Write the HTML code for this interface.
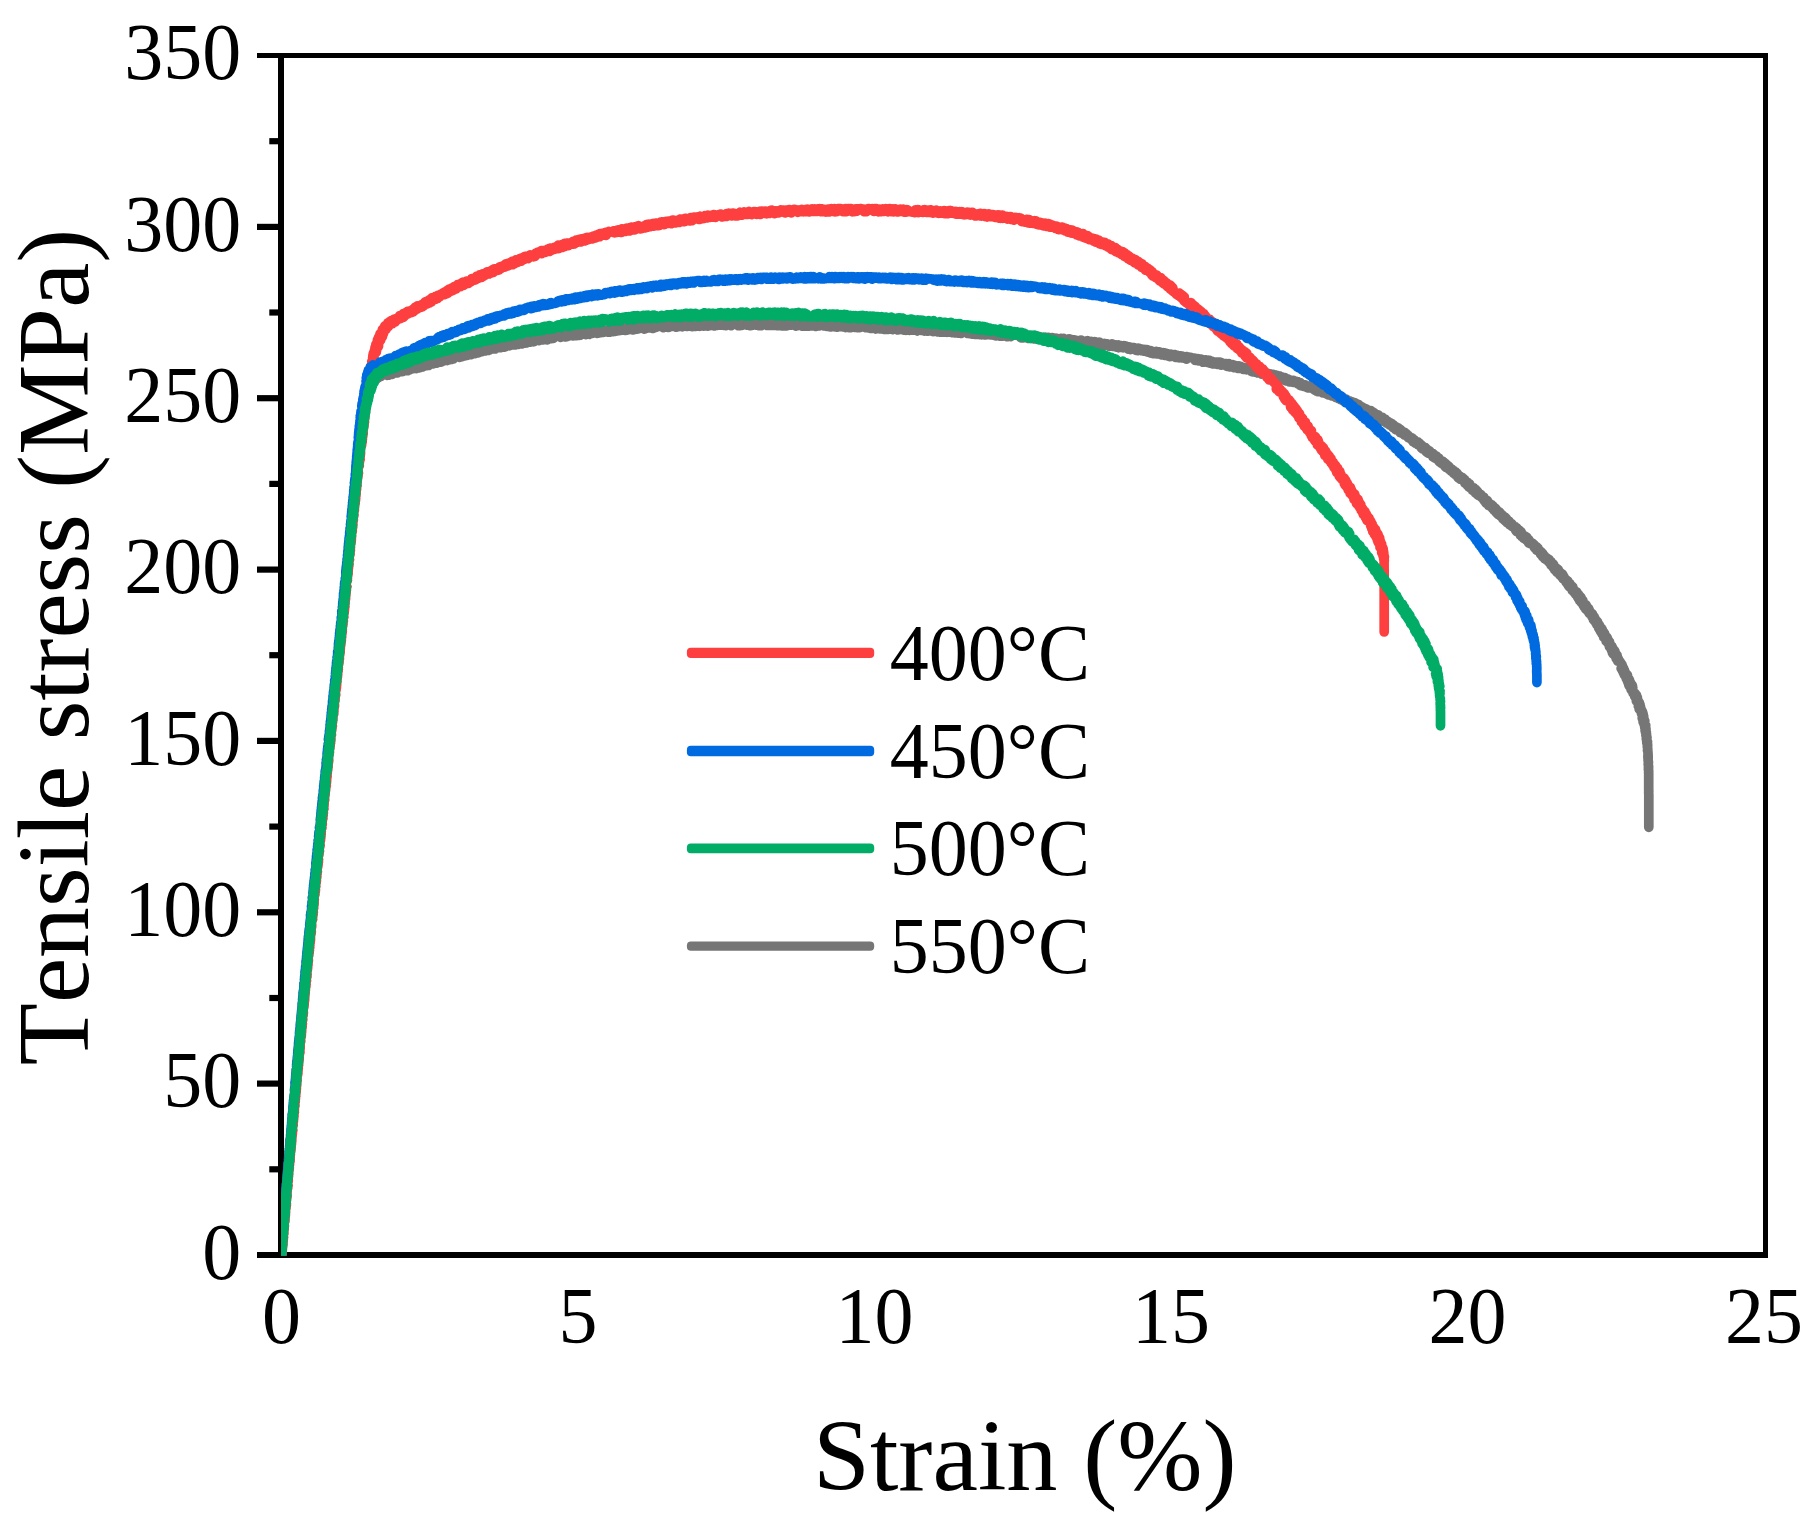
<!DOCTYPE html>
<html><head><meta charset="utf-8"><title>Tensile stress vs Strain</title>
<style>
html,body{margin:0;padding:0;background:#fff;}
svg{display:block;}
text{font-family:"Liberation Serif",serif;fill:#000;font-kerning:none;}
.tk{font-size:78px;}
.tt{font-size:102.4px;}
.ty{font-size:101.75px;}
</style></head><body>
<svg width="1814" height="1531" viewBox="0 0 1814 1531">
<rect width="1814" height="1531" fill="#fff"/>

<g fill="#000" shape-rendering="crispEdges">
<rect x="278" y="53" width="1490" height="5"/>
<rect x="1763" y="53" width="5" height="1205"/>
<rect x="278" y="53" width="6" height="1205"/>
<rect x="278" y="1252" width="1490" height="6"/>
</g>
<rect x="257" y="1252" width="22" height="6" fill="#000"/>
<line x1="269.3" y1="1169.3" x2="281.0" y2="1169.3" stroke="#000" stroke-width="6.2"/>
<line x1="257" y1="1083.6" x2="281.0" y2="1083.6" stroke="#000" stroke-width="6.2"/>
<line x1="269.3" y1="998.0" x2="281.0" y2="998.0" stroke="#000" stroke-width="6.2"/>
<line x1="257" y1="912.3" x2="281.0" y2="912.3" stroke="#000" stroke-width="6.2"/>
<line x1="269.3" y1="826.6" x2="281.0" y2="826.6" stroke="#000" stroke-width="6.2"/>
<line x1="257" y1="740.9" x2="281.0" y2="740.9" stroke="#000" stroke-width="6.2"/>
<line x1="269.3" y1="655.2" x2="281.0" y2="655.2" stroke="#000" stroke-width="6.2"/>
<line x1="257" y1="569.6" x2="281.0" y2="569.6" stroke="#000" stroke-width="6.2"/>
<line x1="269.3" y1="483.9" x2="281.0" y2="483.9" stroke="#000" stroke-width="6.2"/>
<line x1="257" y1="398.2" x2="281.0" y2="398.2" stroke="#000" stroke-width="6.2"/>
<line x1="269.3" y1="312.5" x2="281.0" y2="312.5" stroke="#000" stroke-width="6.2"/>
<line x1="257" y1="226.9" x2="281.0" y2="226.9" stroke="#000" stroke-width="6.2"/>
<line x1="269.3" y1="141.2" x2="281.0" y2="141.2" stroke="#000" stroke-width="6.2"/>
<rect x="257" y="53" width="22" height="5" fill="#000"/>
<text class="tk" transform="translate(241.3 1278.7) scale(1 1.035)" text-anchor="end">0</text>
<text class="tk" transform="translate(241.3 1107.3) scale(1 1.035)" text-anchor="end">50</text>
<text class="tk" transform="translate(241.3 936.0) scale(1 1.035)" text-anchor="end">100</text>
<text class="tk" transform="translate(241.3 764.6) scale(1 1.035)" text-anchor="end">150</text>
<text class="tk" transform="translate(241.3 593.3) scale(1 1.035)" text-anchor="end">200</text>
<text class="tk" transform="translate(241.3 421.9) scale(1 1.035)" text-anchor="end">250</text>
<text class="tk" transform="translate(241.3 250.6) scale(1 1.035)" text-anchor="end">300</text>
<text class="tk" transform="translate(241.3 79.2) scale(1 1.035)" text-anchor="end">350</text>
<text class="tk" transform="translate(281.4 1342.6) scale(1 1.035)" text-anchor="middle">0</text>
<text class="tk" transform="translate(577.9 1342.6) scale(1 1.035)" text-anchor="middle">5</text>
<text class="tk" transform="translate(874.4 1342.6) scale(1 1.035)" text-anchor="middle">10</text>
<text class="tk" transform="translate(1171.0 1342.6) scale(1 1.035)" text-anchor="middle">15</text>
<text class="tk" transform="translate(1467.5 1342.6) scale(1 1.035)" text-anchor="middle">20</text>
<text class="tk" transform="translate(1764.0 1342.6) scale(1 1.035)" text-anchor="middle">25</text>
<text class="tt" x="1024.8" y="1489.8" text-anchor="middle">Strain (%)</text>
<text class="ty" transform="translate(88.2 647.0) rotate(-90)" text-anchor="middle">Tensile stress (MPa)</text>
<clipPath id="c"><rect x="281.0" y="55.5" width="1484.5" height="1200.2"/></clipPath>
<g clip-path="url(#c)" fill="none" stroke-linejoin="round" stroke-linecap="round">
<path d="M281.3 1255.5 L281.1 1254.7 L281.7 1253.9 L281.6 1253.1 L281.7 1252.3 L281.3 1251.5 L281.6 1250.7 L281.4 1249.9 L282.1 1249.1 L281.6 1248.3 L282.1 1247.5 L281.8 1246.7 L282.2 1245.9 L281.9 1245.1 L282.4 1244.4 L282.0 1243.5 L282.0 1242.7 L282.6 1242.0 L282.7 1241.2 L282.1 1240.3 L282.4 1239.5 L282.5 1238.7 L282.9 1238.0 L282.9 1237.2 L282.7 1236.3 L282.6 1235.5 L283.1 1234.8 L283.3 1234.0 L282.8 1233.1 L283.3 1232.4 L283.4 1231.6 L283.1 1230.8 L283.2 1230.0 L283.2 1229.2 L283.7 1228.4 L283.7 1227.6 L283.8 1226.8 L283.7 1226.0 L283.4 1225.2 L283.9 1224.4 L283.6 1223.6 L284.2 1222.8 L283.7 1222.0 L284.3 1221.2 L284.3 1220.4 L284.4 1219.6 L284.3 1218.8 L284.5 1218.0 L284.1 1217.2 L284.1 1216.4 L284.2 1215.6 L284.3 1214.8 L284.4 1214.0 L284.4 1213.2 L284.9 1212.4 L284.9 1211.6 L285.1 1210.9 L285.1 1210.1 L285.3 1209.3 L285.3 1208.5 L284.8 1207.6 L284.9 1206.8 L284.9 1206.0 L285.4 1205.3 L285.6 1204.5 L285.2 1203.6 L285.7 1202.9 L285.4 1202.1 L285.3 1201.2 L285.8 1200.5 L285.5 1199.6 L285.6 1198.9 L286.2 1198.1 L285.7 1197.3 L286.1 1196.5 L286.4 1195.7 L285.8 1194.9 L286.5 1194.1 L286.0 1193.3 L286.5 1192.5 L286.6 1191.7 L286.1 1190.9 L286.8 1190.1 L286.7 1189.3 L286.3 1188.5 L287.0 1187.7 L286.5 1186.9 L286.6 1186.1 L287.1 1185.3 L286.8 1184.5 L286.9 1183.7 L287.4 1183.0 L287.4 1182.1 L287.0 1181.3 L287.5 1180.6 L287.1 1179.7 L287.6 1179.0 L287.7 1178.2 L287.7 1177.4 L287.5 1176.5 L288.1 1175.8 L287.5 1174.9 L287.6 1174.1 L287.7 1173.3 L287.6 1172.5 L288.2 1171.8 L287.8 1170.9 L288.5 1170.2 L288.4 1169.4 L288.1 1168.6 L288.1 1167.8 L288.8 1167.0 L288.3 1166.2 L288.2 1165.4 L288.5 1164.6 L289.0 1163.8 L288.5 1163.0 L288.7 1162.2 L289.1 1161.4 L289.3 1160.6 L289.2 1159.8 L289.4 1159.0 L288.9 1158.2 L289.5 1157.4 L289.6 1156.6 L289.2 1155.8 L289.6 1155.0 L289.3 1154.2 L289.4 1153.4 L289.8 1152.6 L289.4 1151.8 L290.0 1151.1 L290.0 1150.3 L289.7 1149.4 L289.6 1148.6 L289.8 1147.8 L289.8 1147.0 L289.9 1146.2 L290.5 1145.5 L290.7 1144.7 L290.1 1143.8 L290.2 1143.0 L290.3 1142.2 L290.3 1141.4 L290.9 1140.7 L290.4 1139.8 L290.6 1139.1 L291.1 1138.3 L291.2 1137.5 L290.6 1136.7 L290.9 1135.9 L291.5 1135.1 L290.9 1134.3 L291.6 1133.5 L291.6 1132.7 L291.0 1131.9 L291.3 1131.1 L291.8 1130.3 L291.8 1129.5 L291.5 1128.7 L291.6 1127.9 L292.2 1127.2 L292.2 1126.4 L291.8 1125.5 L291.8 1124.7 L291.9 1123.9 L291.9 1123.1 L292.5 1122.4 L292.5 1121.6 L292.0 1120.7 L292.2 1119.9 L292.2 1119.1 L292.3 1118.3 L292.8 1117.6 L292.9 1116.8 L292.6 1115.9 L292.5 1115.1 L292.6 1114.3 L292.7 1113.5 L293.2 1112.8 L292.8 1112.0 L293.5 1111.2 L293.6 1110.4 L293.1 1109.6 L293.1 1108.8 L293.3 1108.0 L293.4 1107.2 L293.7 1106.4 L293.9 1105.6 L293.6 1104.8 L294.0 1104.0 L294.2 1103.2 L294.1 1102.4 L294.3 1101.6 L293.9 1100.8 L294.5 1100.1 L294.1 1099.2 L294.5 1098.5 L294.0 1097.6 L294.2 1096.8 L294.2 1096.0 L294.3 1095.2 L294.9 1094.5 L294.9 1093.7 L295.1 1092.9 L295.0 1092.1 L294.6 1091.2 L294.6 1090.4 L295.4 1089.7 L295.3 1088.9 L295.0 1088.1 L295.5 1087.3 L295.2 1086.5 L295.7 1085.7 L295.8 1084.9 L295.4 1084.1 L295.3 1083.3 L295.4 1082.5 L295.6 1081.7 L295.5 1080.9 L295.6 1080.1 L295.8 1079.3 L295.8 1078.5 L295.9 1077.7 L296.5 1076.9 L296.4 1076.1 L296.1 1075.3 L296.1 1074.5 L296.2 1073.7 L296.2 1072.9 L296.4 1072.1 L297.0 1071.4 L296.4 1070.5 L296.5 1069.7 L296.8 1068.9 L297.1 1068.2 L297.4 1067.4 L297.3 1066.6 L297.5 1065.8 L297.6 1065.0 L297.6 1064.2 L297.2 1063.4 L297.2 1062.6 L297.9 1061.8 L297.5 1061.0 L297.5 1060.2 L297.9 1059.4 L297.6 1058.6 L297.6 1057.8 L298.2 1057.0 L297.8 1056.2 L297.9 1055.4 L298.4 1054.6 L298.1 1053.8 L298.1 1053.0 L298.7 1052.2 L298.7 1051.4 L298.2 1050.6 L298.4 1049.8 L298.5 1049.0 L298.9 1048.2 L299.2 1047.5 L298.8 1046.6 L298.8 1045.8 L299.2 1045.1 L299.0 1044.2 L298.9 1043.4 L299.5 1042.7 L299.6 1041.9 L299.1 1041.0 L299.8 1040.3 L299.4 1039.5 L299.4 1038.6 L300.1 1037.9 L299.6 1037.1 L299.6 1036.3 L299.8 1035.5 L300.3 1034.7 L300.4 1033.9 L300.5 1033.1 L299.9 1032.3 L300.5 1031.5 L300.5 1030.7 L300.2 1029.9 L300.2 1029.1 L300.4 1028.3 L300.9 1027.5 L301.0 1026.7 L301.1 1026.0 L301.2 1025.2 L301.1 1024.3 L300.8 1023.5 L300.8 1022.7 L300.9 1021.9 L301.6 1021.2 L300.9 1020.3 L301.8 1019.6 L301.1 1018.7 L301.2 1017.9 L301.4 1017.1 L302.0 1016.4 L301.9 1015.6 L302.2 1014.8 L302.2 1014.0 L301.7 1013.2 L301.8 1012.4 L301.9 1011.6 L302.0 1010.8 L302.1 1010.0 L302.0 1009.2 L302.7 1008.4 L302.3 1007.6 L302.8 1006.8 L302.3 1006.0 L302.5 1005.2 L303.1 1004.4 L302.5 1003.6 L302.7 1002.8 L302.8 1002.0 L302.8 1001.2 L302.8 1000.4 L303.4 999.7 L303.0 998.8 L303.7 998.1 L303.1 997.2 L303.7 996.5 L303.4 995.6 L304.1 994.9 L303.9 994.1 L303.6 993.2 L303.6 992.4 L303.7 991.6 L303.7 990.8 L303.9 990.1 L303.8 989.2 L304.5 988.5 L304.0 987.7 L304.6 986.9 L304.8 986.1 L304.4 985.3 L304.9 984.5 L304.9 983.7 L304.5 982.9 L305.1 982.1 L304.8 981.3 L305.4 980.6 L304.7 979.7 L304.8 978.9 L305.0 978.1 L305.1 977.3 L305.6 976.6 L305.3 975.7 L305.7 975.0 L305.9 974.2 L305.5 973.3 L306.0 972.6 L305.5 971.7 L306.2 971.0 L306.2 970.2 L306.4 969.4 L306.4 968.6 L306.5 967.8 L306.1 967.0 L306.1 966.2 L306.2 965.4 L306.8 964.6 L306.4 963.8 L306.4 963.0 L306.4 962.2 L307.1 961.4 L306.8 960.6 L306.8 959.8 L306.7 959.0 L307.6 958.3 L307.0 957.4 L307.7 956.7 L307.2 955.8 L307.2 955.0 L307.3 954.2 L308.0 953.5 L307.6 952.6 L308.0 951.9 L308.2 951.1 L307.8 950.2 L308.2 949.5 L308.4 948.7 L307.8 947.8 L307.9 947.0 L308.0 946.2 L308.8 945.5 L308.8 944.7 L309.0 943.9 L308.3 943.1 L309.1 942.3 L308.6 941.5 L308.7 940.7 L308.6 939.9 L309.3 939.1 L308.7 938.3 L309.5 937.6 L309.5 936.8 L309.0 935.9 L309.6 935.2 L309.2 934.3 L309.8 933.6 L309.3 932.7 L309.5 931.9 L309.5 931.1 L310.2 930.4 L309.6 929.5 L309.7 928.7 L310.5 928.0 L310.7 927.2 L310.6 926.4 L310.7 925.6 L310.1 924.8 L310.9 924.0 L310.9 923.2 L311.1 922.4 L311.0 921.6 L311.2 920.8 L311.3 920.1 L311.2 919.2 L311.5 918.5 L311.4 917.6 L310.9 916.8 L311.1 916.0 L311.7 915.3 L311.9 914.5 L311.3 913.6 L311.3 912.8 L311.6 912.0 L311.5 911.2 L312.2 910.5 L311.6 909.6 L312.3 908.9 L312.4 908.1 L312.6 907.3 L312.6 906.5 L312.2 905.7 L312.8 904.9 L312.8 904.1 L312.5 903.3 L313.1 902.5 L312.6 901.7 L313.2 900.9 L313.3 900.2 L312.7 899.3 L312.8 898.5 L312.8 897.7 L313.0 896.9 L313.1 896.1 L313.8 895.4 L313.9 894.6 L314.0 893.8 L313.4 892.9 L314.1 892.2 L313.6 891.3 L314.3 890.6 L313.8 889.7 L313.8 888.9 L313.8 888.1 L314.6 887.4 L314.1 886.6 L314.1 885.8 L314.3 885.0 L315.0 884.2 L315.1 883.4 L314.5 882.6 L314.5 881.8 L315.1 881.0 L315.3 880.2 L315.5 879.5 L315.5 878.7 L315.6 877.9 L315.0 877.0 L315.1 876.2 L315.8 875.5 L315.8 874.7 L315.9 873.9 L315.5 873.0 L315.6 872.2 L316.2 871.5 L316.4 870.7 L316.3 869.9 L316.4 869.1 L316.5 868.3 L316.0 867.5 L316.8 866.7 L316.9 865.9 L316.3 865.1 L316.4 864.3 L317.1 863.5 L316.5 862.7 L316.5 861.9 L316.8 861.1 L316.6 860.3 L316.9 859.5 L317.5 858.8 L317.1 857.9 L317.1 857.1 L317.1 856.3 L317.1 855.5 L317.3 854.7 L318.1 854.0 L318.1 853.2 L318.1 852.4 L318.2 851.6 L317.8 850.7 L317.9 850.0 L318.5 849.2 L317.9 848.3 L318.5 847.6 L318.8 846.8 L318.1 846.0 L318.3 845.2 L318.5 844.4 L318.4 843.6 L318.6 842.8 L319.2 842.1 L319.3 841.2 L318.7 840.4 L318.9 839.6 L319.5 838.9 L319.6 838.1 L319.7 837.3 L319.3 836.4 L319.1 835.6 L319.4 834.8 L319.5 834.0 L319.6 833.2 L320.1 832.5 L319.7 831.6 L319.7 830.8 L319.8 830.0 L320.4 829.3 L320.5 828.5 L320.6 827.7 L320.8 826.9 L320.3 826.1 L320.2 825.3 L321.0 824.5 L321.1 823.7 L321.2 823.0 L320.6 822.1 L320.8 821.3 L320.9 820.5 L320.9 819.7 L321.0 818.9 L321.2 818.1 L321.2 817.3 L321.8 816.6 L321.8 815.8 L321.5 814.9 L322.0 814.2 L321.6 813.3 L322.3 812.6 L322.2 811.8 L322.3 811.0 L322.0 810.2 L322.0 809.4 L322.5 808.6 L322.1 807.8 L322.3 807.0 L322.3 806.2 L322.3 805.4 L322.5 804.6 L322.5 803.8 L322.6 803.0 L323.3 802.3 L322.7 801.4 L323.3 800.7 L322.8 799.8 L322.9 799.0 L323.1 798.2 L323.3 797.4 L323.2 796.6 L323.3 795.8 L324.1 795.1 L323.6 794.2 L324.3 793.5 L323.6 792.6 L324.2 791.9 L324.4 791.1 L324.1 790.3 L323.9 789.5 L324.0 788.7 L324.0 787.9 L324.9 787.1 L324.3 786.3 L324.4 785.5 L324.5 784.7 L325.3 784.0 L325.3 783.2 L325.3 782.4 L324.8 781.5 L325.0 780.7 L325.7 780.0 L325.0 779.1 L325.2 778.3 L325.9 777.6 L326.0 776.8 L325.5 775.9 L326.0 775.2 L325.7 774.4 L325.7 773.6 L325.8 772.8 L326.4 772.0 L325.8 771.1 L326.5 770.4 L326.0 769.6 L326.8 768.8 L326.1 768.0 L326.9 767.2 L326.5 766.4 L326.4 765.6 L326.6 764.8 L326.8 764.0 L326.6 763.2 L327.5 762.5 L327.4 761.7 L327.5 760.9 L326.9 760.0 L327.2 759.2 L327.2 758.4 L327.4 757.6 L327.3 756.8 L327.6 756.1 L327.6 755.2 L328.1 754.5 L328.3 753.7 L327.7 752.8 L328.0 752.1 L328.5 751.3 L328.0 750.5 L328.8 749.7 L328.8 748.9 L329.0 748.2 L329.0 747.4 L329.2 746.6 L329.1 745.8 L329.3 745.0 L329.4 744.2 L329.5 743.4 L328.9 742.5 L328.9 741.7 L329.7 741.0 L329.7 740.2 L329.7 739.4 L329.2 738.5 L329.3 737.7 L330.0 737.0 L330.2 736.2 L329.7 735.4 L329.7 734.6 L330.5 733.8 L330.5 733.0 L330.0 732.2 L330.6 731.4 L330.6 730.6 L330.3 729.8 L330.9 729.0 L330.9 728.2 L331.0 727.4 L330.6 726.6 L331.2 725.9 L331.4 725.1 L330.7 724.2 L331.0 723.4 L331.6 722.7 L331.7 721.9 L331.3 721.0 L331.4 720.2 L331.2 719.4 L331.4 718.6 L332.2 717.9 L331.7 717.1 L332.3 716.3 L332.5 715.5 L332.5 714.7 L332.1 713.9 L332.6 713.1 L332.1 712.3 L332.8 711.6 L332.7 710.7 L332.9 710.0 L333.1 709.2 L333.1 708.4 L333.2 707.6 L332.5 706.7 L333.3 706.0 L333.3 705.2 L332.9 704.3 L333.1 703.5 L333.6 702.8 L333.8 702.0 L334.0 701.2 L334.0 700.4 L333.4 699.5 L334.1 698.8 L333.6 698.0 L334.3 697.2 L334.4 696.4 L334.5 695.6 L334.5 694.8 L334.5 694.0 L334.7 693.3 L334.8 692.5 L334.4 691.6 L334.3 690.8 L334.3 690.0 L335.0 689.3 L334.6 688.4 L335.3 687.7 L335.3 686.9 L335.4 686.1 L335.5 685.3 L335.0 684.4 L335.0 683.6 L335.2 682.8 L335.4 682.1 L335.3 681.2 L336.2 680.5 L336.0 679.7 L336.1 678.9 L336.2 678.1 L336.5 677.3 L335.7 676.5 L336.1 675.7 L336.6 674.9 L336.6 674.1 L336.8 673.4 L337.0 672.6 L336.5 671.7 L336.5 670.9 L336.5 670.1 L337.2 669.4 L337.4 668.6 L336.8 667.7 L337.3 667.0 L337.5 666.2 L337.8 665.4 L337.8 664.6 L337.3 663.8 L337.2 662.9 L337.9 662.2 L338.1 661.4 L337.7 660.6 L338.3 659.8 L338.2 659.0 L338.4 658.2 L338.5 657.5 L338.5 656.7 L338.1 655.8 L338.6 655.0 L338.7 654.3 L338.4 653.4 L338.9 652.7 L338.9 651.9 L339.1 651.1 L339.2 650.3 L338.7 649.4 L338.8 648.6 L339.3 647.9 L339.5 647.1 L339.7 646.3 L339.6 645.5 L339.8 644.7 L339.2 643.9 L339.4 643.1 L340.1 642.3 L339.4 641.5 L339.7 640.7 L340.3 639.9 L339.8 639.1 L339.9 638.3 L340.5 637.6 L340.0 636.7 L340.8 636.0 L340.3 635.1 L340.2 634.3 L340.9 633.6 L340.9 632.8 L341.2 632.0 L340.5 631.1 L341.2 630.4 L340.6 629.5 L341.3 628.8 L341.4 628.0 L341.1 627.2 L341.0 626.3 L341.6 625.6 L341.1 624.7 L342.0 624.0 L341.5 623.2 L342.1 622.4 L341.6 621.6 L342.3 620.8 L341.7 620.0 L341.8 619.2 L342.6 618.5 L342.1 617.6 L342.8 616.9 L342.7 616.1 L342.2 615.2 L342.2 614.4 L343.1 613.7 L342.6 612.8 L343.1 612.1 L343.4 611.3 L342.6 610.4 L343.4 609.7 L343.6 608.9 L343.5 608.1 L343.1 607.3 L343.8 606.5 L343.8 605.7 L343.9 604.9 L343.9 604.1 L344.0 603.3 L343.7 602.5 L343.8 601.7 L344.4 601.0 L343.8 600.1 L344.5 599.4 L344.6 598.6 L344.5 597.8 L344.6 597.0 L344.3 596.1 L344.8 595.4 L344.3 594.5 L344.5 593.7 L345.1 593.0 L344.6 592.1 L345.2 591.4 L345.2 590.6 L345.5 589.8 L345.6 589.0 L345.5 588.2 L345.1 587.4 L345.6 586.6 L345.8 585.8 L345.9 585.0 L345.5 584.2 L345.5 583.4 L345.5 582.6 L345.6 581.8 L346.2 581.0 L346.4 580.3 L346.0 579.4 L345.8 578.6 L346.5 577.9 L346.2 577.0 L346.7 576.3 L347.0 575.5 L346.4 574.6 L346.4 573.8 L347.2 573.1 L346.5 572.2 L346.8 571.4 L346.7 570.6 L346.8 569.8 L347.5 569.1 L347.0 568.3 L347.6 567.5 L347.3 566.7 L347.7 565.9 L347.9 565.1 L347.8 564.3 L347.9 563.5 L347.6 562.7 L347.7 561.9 L348.1 561.1 L347.7 560.3 L347.9 559.5 L348.4 558.7 L347.9 557.9 L348.5 557.1 L348.2 556.3 L348.9 555.6 L348.2 554.7 L348.4 553.9 L348.6 553.1 L349.1 552.4 L349.1 551.6 L349.2 550.8 L348.9 550.0 L349.3 549.2 L348.9 548.3 L349.1 547.6 L349.6 546.8 L349.8 546.0 L349.3 545.2 L349.4 544.4 L349.9 543.6 L349.4 542.8 L349.5 542.0 L350.2 541.2 L349.7 540.4 L350.2 539.6 L350.4 538.8 L349.9 538.0 L350.7 537.3 L350.0 536.4 L350.8 535.7 L350.3 534.8 L350.8 534.1 L351.1 533.3 L350.9 532.5 L351.0 531.7 L351.3 530.9 L350.6 530.0 L350.7 529.2 L351.4 528.5 L351.4 527.7 L351.5 526.9 L351.8 526.1 L351.1 525.2 L351.4 524.5 L352.0 523.7 L352.0 522.9 L351.6 522.1 L351.6 521.3 L351.8 520.5 L352.3 519.7 L352.3 518.9 L352.6 518.2 L352.0 517.3 L352.8 516.6 L352.0 515.7 L352.8 515.0 L352.8 514.2 L353.1 513.4 L352.5 512.5 L353.0 511.8 L352.8 510.9 L353.4 510.2 L353.4 509.4 L353.3 508.6 L353.0 507.7 L353.0 506.9 L353.1 506.2 L353.1 505.3 L354.0 504.6 L353.9 503.8 L353.9 503.0 L354.1 502.2 L354.3 501.4 L354.3 500.6 L353.7 499.8 L353.8 499.0 L354.5 498.2 L353.9 497.4 L354.6 496.7 L354.1 495.8 L354.4 495.0 L355.0 494.3 L355.2 493.5 L355.1 492.7 L354.7 491.8 L354.7 491.0 L355.4 490.3 L355.0 489.5 L355.0 488.7 L355.2 487.9 L355.1 487.1 L355.8 486.3 L355.3 485.5 L355.4 484.7 L356.1 483.9 L356.1 483.1 L355.5 482.3 L355.6 481.5 L356.4 480.8 L356.5 480.0 L355.9 479.1 L356.6 478.4 L356.1 477.5 L356.3 476.7 L356.3 475.9 L357.0 475.2 L357.2 474.4 L357.3 473.6 L356.8 472.8 L356.7 471.9 L357.5 471.2 L357.5 470.4 L357.1 469.6 L357.2 468.8 L357.7 468.0 L357.2 467.2 L357.9 466.4 L357.4 465.6 L357.4 464.8 L358.4 464.1 L358.5 463.3 L358.5 462.5 L358.0 461.6 L357.8 460.8 L358.2 460.0 L358.9 459.3 L358.1 458.4 L358.3 457.6 L359.1 456.9 L359.1 456.1 L359.2 455.3 L359.3 454.5 L358.9 453.7 L359.0 452.9 L358.9 452.0 L359.8 451.4 L359.7 450.5 L359.7 449.7 L359.4 448.9 L359.5 448.1 L359.6 447.3 L359.6 446.5 L359.7 445.7 L359.8 444.9 L360.0 444.1 L360.7 443.4 L360.1 442.5 L360.8 441.8 L360.9 441.0 L361.1 440.2 L360.5 439.3 L361.3 438.6 L360.7 437.8 L360.6 436.9 L361.5 436.2 L361.6 435.5 L360.9 434.6 L361.0 433.8 L361.3 433.0 L361.9 432.3 L361.2 431.4 L361.7 430.6 L361.7 429.8 L362.6 429.1 L362.4 428.3 L362.5 427.5 L362.1 426.6 L362.3 425.9 L362.2 425.0 L363.1 424.4 L362.5 423.5 L362.7 422.7 L362.5 421.9 L363.7 421.2 L363.7 420.4 L363.1 419.5 L363.1 418.7 L363.1 417.9 L363.3 417.1 L363.3 416.3 L363.6 415.5 L363.6 414.7 L364.5 414.1 L364.8 413.3 L363.9 412.3 L364.0 411.6 L365.0 410.9 L365.5 410.2 L365.5 409.4 L365.5 408.6 L364.8 407.6 L364.7 406.8 L365.2 406.1 L366.2 405.4 L366.4 404.7 L366.5 403.9 L365.4 402.8 L365.7 402.1 L365.9 401.3 L366.1 400.5 L365.9 399.7 L366.4 398.9 L367.7 398.4 L366.7 397.3 L368.2 396.8 L366.7 395.7 L368.1 395.2 L368.9 394.5 L368.8 393.7 L367.9 392.6 L367.8 391.8 L369.1 391.3 L369.7 390.7 L368.6 389.5 L370.1 389.1 L370.3 388.4 L370.8 387.8 L368.9 386.2 L371.7 386.4 L371.5 385.5 L372.0 384.8 L370.9 383.4 L372.5 383.3 L373.4 382.9 L372.0 381.1 L374.1 381.6 L372.5 379.4 L373.3 379.1 L373.6 378.1 L375.5 379.2 L376.5 379.2 L376.0 377.1 L377.4 377.8 L377.3 375.7 L378.9 377.4 L379.5 376.8 L379.7 375.0 L381.0 376.4 L381.2 374.4 L381.9 374.0 L382.7 373.7 L383.7 374.3 L384.3 373.6 L385.1 373.0 L386.0 373.3 L387.2 375.4 L387.6 373.3 L388.8 375.1 L389.6 374.7 L389.8 372.1 L391.2 374.5 L392.0 374.4 L392.4 372.3 L393.0 371.5 L393.9 371.8 L394.6 371.6 L395.4 371.3 L396.6 373.0 L397.4 372.9 L397.6 370.2 L398.8 371.9 L399.3 370.5 L400.1 370.2 L400.8 369.6 L402.1 371.7 L402.8 371.5 L403.1 369.1 L403.9 369.0 L404.8 369.2 L405.6 369.2 L406.7 370.5 L407.6 370.7 L408.3 370.3 L409.0 369.6 L409.8 369.8 L410.2 367.8 L410.9 367.4 L411.7 367.2 L412.4 366.7 L413.7 368.7 L414.0 366.8 L414.8 366.4 L416.2 368.6 L416.3 365.9 L417.6 367.8 L418.5 368.0 L419.2 367.5 L420.1 367.7 L420.3 365.3 L421.1 365.2 L422.4 367.0 L423.0 366.3 L423.2 364.0 L424.1 364.0 L425.4 365.8 L425.7 364.1 L427.0 365.7 L427.3 363.7 L428.6 365.5 L428.6 362.5 L430.0 364.4 L430.7 364.0 L430.9 361.9 L432.3 364.0 L432.7 362.2 L433.9 363.6 L434.6 363.1 L434.9 361.3 L436.2 363.1 L437.1 363.1 L437.2 360.3 L438.1 360.7 L438.8 360.2 L439.6 360.0 L441.0 362.2 L441.5 361.1 L442.4 361.3 L442.5 358.8 L443.9 360.8 L444.6 360.5 L445.0 358.5 L446.2 360.2 L447.1 360.5 L447.7 359.5 L448.5 359.5 L449.3 359.2 L450.2 359.5 L450.9 359.0 L451.8 359.3 L452.5 359.1 L453.3 359.0 L453.9 358.1 L454.7 357.7 L455.1 356.1 L455.7 355.4 L456.5 355.4 L457.5 355.8 L458.1 355.0 L459.5 357.4 L459.6 354.4 L461.0 356.8 L461.8 356.8 L462.6 356.5 L462.9 354.2 L463.7 354.2 L464.9 355.9 L465.2 353.8 L466.0 353.4 L467.3 355.5 L467.5 352.9 L468.8 354.7 L468.9 352.1 L469.9 352.6 L471.2 354.6 L471.9 354.3 L472.2 351.9 L473.0 351.8 L473.8 351.8 L475.1 353.6 L475.3 351.3 L476.2 351.3 L477.4 353.0 L477.6 350.4 L478.9 352.5 L479.7 352.3 L480.1 350.4 L480.8 350.2 L482.0 351.6 L482.4 349.9 L483.5 351.2 L483.8 348.8 L485.1 351.0 L485.4 348.6 L486.3 349.0 L487.0 348.6 L488.3 350.5 L488.6 348.4 L489.8 349.8 L490.5 349.2 L490.8 347.1 L491.7 347.6 L492.5 347.2 L493.7 349.0 L494.0 346.6 L495.3 349.0 L495.5 346.3 L496.8 348.1 L497.2 346.6 L497.9 345.8 L498.6 345.4 L499.8 347.2 L500.8 347.7 L501.1 345.6 L502.3 347.1 L502.6 345.0 L503.4 344.7 L504.7 347.1 L505.4 346.7 L506.2 346.3 L506.5 344.0 L507.4 344.1 L508.2 344.0 L508.9 343.9 L510.1 345.6 L510.8 345.2 L511.3 343.5 L512.1 343.5 L512.9 343.0 L513.7 343.0 L514.9 345.0 L515.1 342.2 L516.0 342.5 L516.8 342.1 L518.0 344.5 L518.4 342.1 L519.5 343.9 L520.3 343.6 L520.7 341.4 L521.9 343.8 L522.4 341.6 L523.0 340.7 L524.3 343.1 L525.1 343.1 L525.4 340.6 L526.6 342.9 L527.3 342.3 L528.2 342.5 L528.7 340.4 L529.4 340.0 L530.6 342.1 L531.3 341.5 L532.0 341.2 L532.5 339.2 L533.7 341.7 L534.5 341.4 L535.2 341.0 L535.7 338.9 L536.8 340.5 L537.3 338.6 L538.1 338.6 L539.2 340.6 L539.7 338.5 L540.7 340.0 L541.2 337.9 L542.4 340.0 L542.8 337.7 L543.9 339.7 L544.5 338.1 L545.2 337.5 L546.0 337.3 L547.2 339.8 L547.9 339.6 L548.6 338.7 L549.2 336.7 L550.0 337.1 L550.7 336.6 L551.8 338.6 L552.4 336.7 L553.4 338.4 L553.9 336.3 L554.7 336.0 L555.5 336.0 L556.3 335.8 L557.1 336.0 L557.9 335.6 L558.7 335.8 L559.5 335.5 L560.6 337.4 L561.1 335.3 L562.1 336.8 L562.7 335.2 L563.5 335.3 L564.5 336.8 L565.1 335.3 L566.1 336.9 L566.6 334.3 L567.7 336.4 L568.4 336.1 L569.0 334.2 L569.9 334.6 L570.6 333.8 L571.6 335.7 L572.4 335.8 L573.2 335.8 L573.8 334.1 L574.8 335.5 L575.6 335.3 L576.4 335.7 L576.9 332.9 L577.8 333.4 L578.8 335.4 L579.6 334.7 L580.4 335.1 L581.2 334.8 L581.8 333.0 L582.5 332.4 L583.3 332.4 L584.3 334.2 L584.9 332.6 L586.0 334.6 L586.5 331.8 L587.3 332.0 L588.1 331.7 L589.2 334.4 L589.7 331.6 L590.7 333.9 L591.3 332.0 L592.3 333.5 L592.9 331.4 L593.6 331.0 L594.5 331.5 L595.3 331.4 L596.1 331.6 L597.1 333.3 L597.7 331.0 L598.7 333.2 L599.4 332.6 L600.0 330.6 L600.8 330.5 L601.8 332.5 L602.6 332.2 L603.4 332.3 L604.0 330.1 L605.0 331.9 L605.8 331.8 L606.4 330.1 L607.2 330.2 L608.2 332.2 L608.8 329.5 L609.8 332.2 L610.4 329.3 L611.2 329.4 L612.1 331.2 L613.0 331.7 L613.5 329.1 L614.3 329.0 L615.4 331.4 L615.9 328.8 L616.9 330.8 L617.5 328.8 L618.3 328.9 L619.3 330.6 L620.0 328.9 L620.9 330.3 L621.5 328.6 L622.3 328.6 L623.1 328.5 L623.9 328.0 L624.9 330.4 L625.7 330.4 L626.3 327.6 L627.3 329.8 L628.1 330.0 L628.9 329.5 L629.5 327.9 L630.3 327.3 L631.1 328.1 L632.1 329.9 L632.9 329.9 L633.7 329.5 L634.3 327.1 L635.3 329.3 L636.0 329.1 L636.9 329.2 L637.5 327.4 L638.4 328.9 L639.1 327.2 L639.8 326.4 L640.7 327.0 L641.5 327.0 L642.2 326.3 L643.1 327.0 L644.1 329.1 L644.8 328.9 L645.6 328.6 L646.4 328.4 L647.1 326.6 L647.9 326.7 L648.8 327.9 L649.5 326.3 L650.4 328.0 L651.0 325.7 L651.8 326.0 L652.8 328.5 L653.6 328.1 L654.4 327.5 L655.0 325.7 L655.9 327.4 L656.7 327.3 L657.4 325.2 L658.2 325.8 L659.1 325.9 L659.9 325.9 L660.6 325.3 L661.4 325.5 L662.3 325.8 L663.2 327.6 L663.9 327.1 L664.6 325.0 L665.4 325.2 L666.3 327.2 L667.1 327.1 L667.9 327.3 L668.8 327.5 L669.4 324.7 L670.3 326.6 L671.0 324.9 L671.8 325.2 L672.7 326.5 L673.4 325.1 L674.2 325.0 L675.0 324.3 L675.8 324.5 L676.7 327.1 L677.5 326.9 L678.3 326.5 L679.1 326.5 L679.9 326.5 L680.7 326.4 L681.4 324.6 L682.3 326.8 L683.0 324.9 L683.9 326.2 L684.6 324.4 L685.4 324.2 L686.2 324.2 L687.1 326.5 L687.8 324.7 L688.7 326.0 L689.4 324.4 L690.2 324.4 L691.1 326.4 L691.9 326.6 L692.7 326.3 L693.4 324.5 L694.3 325.9 L695.1 326.4 L695.8 323.6 L696.7 326.1 L697.5 325.8 L698.3 325.8 L699.0 323.8 L699.9 326.3 L700.6 324.0 L701.5 325.6 L702.2 324.3 L703.0 324.2 L703.9 326.1 L704.6 323.6 L705.4 323.3 L706.2 324.1 L707.0 323.8 L707.9 326.0 L708.7 325.8 L709.4 324.1 L710.3 325.6 L711.0 323.5 L711.8 323.4 L712.6 323.6 L713.4 323.9 L714.3 326.0 L715.1 325.5 L715.8 323.3 L716.7 325.5 L717.5 325.1 L718.3 325.2 L719.0 323.9 L719.9 325.2 L720.7 325.2 L721.4 323.5 L722.3 325.2 L723.1 325.3 L723.8 323.1 L724.6 323.8 L725.4 323.7 L726.3 325.7 L727.0 323.3 L727.8 323.4 L728.6 323.5 L729.4 323.3 L730.2 323.6 L731.1 325.7 L731.8 323.0 L732.6 323.5 L733.4 323.7 L734.2 322.9 L735.0 323.5 L735.8 323.1 L736.6 322.9 L737.4 323.0 L738.2 325.6 L739.0 323.3 L739.8 325.6 L740.6 325.2 L741.4 323.5 L742.2 325.3 L743.0 323.4 L743.8 323.0 L744.6 322.9 L745.4 323.6 L746.2 323.6 L747.0 325.2 L747.8 323.3 L748.6 322.8 L749.4 322.8 L750.2 325.7 L751.0 323.0 L751.8 325.5 L752.6 325.1 L753.4 325.2 L754.2 323.8 L755.0 323.0 L755.8 325.1 L756.6 323.7 L757.4 323.5 L758.2 325.2 L759.0 325.6 L759.8 323.8 L760.6 323.6 L761.4 325.7 L762.3 323.0 L763.1 323.2 L763.9 323.3 L764.6 323.6 L765.5 323.0 L766.3 323.1 L767.0 325.4 L767.8 325.1 L768.6 323.7 L769.4 325.3 L770.2 323.6 L771.0 323.9 L771.9 323.5 L772.6 325.4 L773.4 325.3 L774.2 325.4 L775.0 325.3 L775.8 325.4 L776.6 325.6 L777.4 325.5 L778.2 323.8 L779.1 323.2 L779.8 325.6 L780.6 325.5 L781.4 325.8 L782.2 325.8 L783.1 323.2 L783.9 323.3 L784.6 325.8 L785.4 325.8 L786.2 325.3 L787.0 325.8 L787.9 323.9 L788.6 325.4 L789.4 324.0 L790.3 323.8 L791.0 325.2 L791.9 323.5 L792.7 323.5 L793.5 323.5 L794.2 324.1 L795.1 323.6 L795.8 326.1 L796.6 325.4 L797.4 325.5 L798.2 325.6 L799.1 323.9 L799.9 324.2 L800.7 323.8 L801.4 325.7 L802.2 326.1 L803.0 326.0 L803.8 326.1 L804.6 325.7 L805.5 323.7 L806.3 323.7 L807.0 326.2 L807.8 325.6 L808.7 323.6 L809.4 326.1 L810.2 325.9 L811.0 326.0 L811.9 324.1 L812.7 324.1 L813.4 325.9 L814.2 325.9 L815.1 324.3 L815.8 326.5 L816.6 326.2 L817.4 325.8 L818.3 324.3 L819.0 326.0 L819.8 324.8 L820.7 323.8 L821.5 324.5 L822.3 324.3 L823.1 324.5 L823.8 326.0 L824.7 324.0 L825.5 324.0 L826.2 324.8 L827.0 326.4 L827.8 326.4 L828.6 326.2 L829.5 324.4 L830.2 326.9 L831.0 326.9 L831.8 326.8 L832.6 325.1 L833.4 324.9 L834.2 326.7 L835.0 326.9 L835.8 326.7 L836.7 324.8 L837.4 327.2 L838.2 325.3 L839.0 326.7 L839.8 326.7 L840.7 324.4 L841.4 326.7 L842.2 325.4 L843.0 326.9 L843.9 324.9 L844.6 326.7 L845.4 327.4 L846.2 326.8 L847.1 324.9 L847.8 325.5 L848.6 327.6 L849.4 325.5 L850.3 325.0 L851.0 327.6 L851.8 327.1 L852.6 325.8 L853.5 325.3 L854.3 325.4 L855.0 327.5 L855.9 325.2 L856.6 327.5 L857.4 327.6 L858.2 325.6 L859.0 327.6 L859.8 327.6 L860.6 327.4 L861.4 325.9 L862.2 326.0 L863.0 326.0 L863.9 325.5 L864.6 326.2 L865.4 327.6 L866.2 325.9 L867.0 326.1 L867.8 327.8 L868.6 326.2 L869.4 326.1 L870.1 328.3 L871.1 325.7 L871.7 328.5 L872.6 326.3 L873.4 326.3 L874.1 328.2 L875.0 328.1 L875.7 328.8 L876.6 328.0 L877.4 326.7 L878.1 328.7 L878.9 328.6 L879.8 326.8 L880.5 329.0 L881.3 328.6 L882.1 328.8 L883.0 328.3 L883.7 329.1 L884.6 328.4 L885.4 326.9 L886.2 326.5 L886.9 329.4 L887.7 329.3 L888.5 329.3 L889.3 328.8 L890.1 328.6 L890.9 329.1 L891.8 327.6 L892.5 329.6 L893.3 328.8 L894.1 329.1 L895.0 327.6 L895.8 327.8 L896.6 327.4 L897.4 327.8 L898.1 329.9 L898.9 329.7 L899.7 329.4 L900.6 327.2 L901.4 327.3 L902.1 329.5 L903.0 327.3 L903.7 330.2 L904.6 327.6 L905.3 329.7 L906.1 330.3 L907.0 327.5 L907.8 328.1 L908.5 329.6 L909.3 330.4 L910.1 330.2 L910.9 329.8 L911.7 330.2 L912.6 328.4 L913.4 327.8 L914.1 330.1 L915.0 328.6 L915.8 328.8 L916.5 330.2 L917.3 330.9 L918.1 330.2 L919.0 328.5 L919.8 328.1 L920.6 329.1 L921.3 330.4 L922.2 328.3 L922.9 330.3 L923.8 328.3 L924.5 331.1 L925.4 329.2 L926.1 331.0 L927.0 328.9 L927.7 331.2 L928.6 329.2 L929.4 329.1 L930.2 329.3 L930.9 330.9 L931.8 329.5 L932.6 328.8 L933.2 331.6 L934.1 331.2 L934.8 331.5 L935.7 331.4 L936.6 329.6 L937.4 329.6 L938.0 332.0 L938.9 331.4 L939.6 331.7 L940.4 332.1 L941.4 329.9 L942.0 332.1 L942.9 330.2 L943.6 332.1 L944.4 332.2 L945.4 329.6 L946.2 329.5 L946.8 332.3 L947.8 329.6 L948.4 331.9 L949.2 332.2 L950.0 332.0 L950.8 331.9 L951.7 330.4 L952.4 332.6 L953.4 330.1 L954.0 332.0 L954.8 333.0 L955.7 330.8 L956.5 330.8 L957.4 330.4 L958.0 333.1 L959.0 330.5 L959.6 332.7 L960.4 332.9 L961.2 333.3 L962.0 332.9 L962.9 330.7 L963.7 330.8 L964.5 331.2 L965.4 330.8 L966.1 331.4 L966.9 331.1 L967.6 333.5 L968.5 331.6 L969.2 333.5 L970.0 333.7 L970.8 333.7 L971.6 333.3 L972.3 334.2 L973.3 331.3 L974.0 333.4 L974.7 334.3 L975.6 334.0 L976.4 333.7 L977.1 334.4 L978.1 332.2 L978.9 332.0 L979.5 334.6 L980.5 332.3 L981.2 333.9 L981.9 334.8 L982.7 334.7 L983.7 332.1 L984.5 332.8 L985.1 335.0 L986.1 332.4 L986.7 334.7 L987.7 332.9 L988.5 333.1 L989.2 334.5 L989.9 334.8 L990.7 334.9 L991.6 333.5 L992.5 333.0 L993.3 333.3 L993.9 335.4 L994.7 335.2 L995.6 333.6 L996.3 335.8 L997.1 335.6 L998.1 333.6 L998.7 335.7 L999.5 335.8 L1000.2 336.2 L1001.1 335.7 L1001.9 336.0 L1002.7 336.2 L1003.6 334.5 L1004.5 333.7 L1005.2 334.2 L1005.9 336.1 L1006.6 336.6 L1007.6 334.1 L1008.2 336.6 L1009.2 334.1 L1010.0 335.0 L1010.6 336.7 L1011.6 334.5 L1012.4 334.4 L1013.2 334.7 L1014.0 334.8 L1014.8 335.1 L1015.6 335.0 L1016.4 335.0 L1017.2 334.8 L1018.0 334.9 L1018.8 335.1 L1019.6 334.9 L1020.2 337.0 L1021.0 337.8 L1021.8 337.5 L1022.6 337.9 L1023.4 337.5 L1024.2 337.7 L1025.2 335.5 L1025.9 336.3 L1026.6 337.7 L1027.4 338.0 L1028.2 338.4 L1029.0 337.9 L1029.8 338.5 L1030.7 336.5 L1031.5 336.5 L1032.2 338.4 L1033.0 338.6 L1034.0 336.1 L1034.5 338.9 L1035.5 336.8 L1036.3 336.4 L1037.1 336.6 L1037.8 338.7 L1038.5 339.1 L1039.5 336.5 L1040.3 337.0 L1040.9 339.4 L1041.8 338.7 L1042.7 337.5 L1043.3 339.5 L1044.3 337.4 L1045.1 337.2 L1045.9 337.4 L1046.6 339.1 L1047.3 339.8 L1048.3 337.3 L1049.0 339.3 L1049.9 337.9 L1050.5 340.1 L1051.3 340.2 L1052.3 337.5 L1053.1 337.9 L1053.9 338.1 L1054.5 340.0 L1055.3 339.8 L1056.3 338.2 L1057.0 338.5 L1057.8 338.6 L1058.5 340.3 L1059.3 340.0 L1060.3 338.5 L1061.1 338.4 L1061.7 340.8 L1062.4 341.2 L1063.5 338.4 L1064.3 338.7 L1064.8 341.3 L1065.8 339.0 L1066.4 341.4 L1067.3 340.9 L1068.1 341.2 L1069.1 338.8 L1069.8 339.2 L1070.6 339.4 L1071.2 341.8 L1072.2 339.7 L1072.8 342.0 L1073.7 341.2 L1074.6 340.0 L1075.4 340.2 L1076.0 341.7 L1076.8 342.5 L1077.8 340.5 L1078.4 342.0 L1079.2 342.3 L1080.0 342.5 L1081.0 340.1 L1081.6 342.4 L1082.6 340.8 L1083.1 343.0 L1084.0 342.4 L1084.9 341.2 L1085.6 342.7 L1086.3 343.0 L1087.4 340.7 L1087.9 343.4 L1088.7 343.3 L1089.7 341.3 L1090.3 343.6 L1091.3 341.4 L1091.9 343.5 L1092.9 342.1 L1093.5 343.5 L1094.5 341.6 L1095.3 341.9 L1095.8 344.4 L1096.8 342.6 L1097.4 344.7 L1098.5 342.5 L1099.3 342.1 L1100.1 342.5 L1100.6 344.8 L1101.4 345.1 L1102.2 345.0 L1103.0 345.2 L1104.0 343.5 L1104.6 345.3 L1105.6 343.5 L1106.4 343.9 L1107.2 343.9 L1107.7 345.7 L1108.6 345.6 L1109.3 346.2 L1110.2 345.6 L1111.0 345.7 L1112.0 343.8 L1112.7 344.5 L1113.3 346.5 L1114.1 346.3 L1114.9 346.4 L1115.9 344.9 L1116.4 347.2 L1117.4 345.5 L1118.4 344.9 L1118.7 347.8 L1119.9 345.4 L1120.7 345.7 L1121.4 345.9 L1122.0 347.5 L1122.8 347.8 L1123.9 345.7 L1124.6 346.7 L1125.5 346.0 L1126.2 346.3 L1126.9 347.0 L1127.5 348.3 L1128.2 349.1 L1129.4 346.8 L1130.1 347.3 L1130.6 349.6 L1131.5 349.1 L1132.5 347.6 L1133.0 349.2 L1134.1 347.6 L1134.6 349.5 L1135.6 348.3 L1136.1 350.4 L1137.3 348.3 L1137.7 350.6 L1138.9 348.3 L1139.7 348.6 L1140.4 349.1 L1141.2 348.8 L1141.7 350.7 L1142.7 349.5 L1143.6 349.4 L1144.1 351.2 L1144.9 351.3 L1146.0 349.7 L1146.8 349.7 L1147.2 352.0 L1148.0 352.1 L1149.0 350.6 L1149.5 352.5 L1150.7 350.6 L1151.0 353.2 L1152.2 351.4 L1152.6 353.4 L1153.4 353.7 L1154.3 353.2 L1155.0 353.7 L1156.2 351.3 L1156.6 353.9 L1157.7 352.1 L1158.6 351.9 L1159.4 351.8 L1160.1 352.7 L1160.6 354.4 L1161.6 353.0 L1162.1 355.0 L1163.3 352.6 L1164.0 353.4 L1164.5 355.4 L1165.7 353.1 L1166.1 355.0 L1166.9 355.6 L1167.6 355.9 L1168.8 354.0 L1169.6 354.0 L1169.9 356.6 L1170.8 356.4 L1171.9 354.4 L1172.5 356.1 L1173.5 355.0 L1174.4 354.5 L1175.1 354.7 L1175.5 357.4 L1176.7 355.1 L1177.1 357.4 L1177.9 357.5 L1178.7 357.8 L1179.8 355.9 L1180.6 355.9 L1181.4 356.0 L1182.2 356.0 L1182.7 358.0 L1183.5 358.0 L1184.3 358.2 L1185.3 357.0 L1186.2 356.5 L1186.5 359.2 L1187.8 356.9 L1188.5 357.3 L1189.2 357.7 L1190.1 357.5 L1190.9 357.3 L1191.7 357.8 L1192.5 357.8 L1193.2 358.2 L1194.0 358.5 L1194.8 358.2 L1195.3 360.4 L1196.1 360.4 L1197.1 358.9 L1198.0 358.6 L1198.4 360.8 L1199.6 359.0 L1200.0 361.0 L1201.2 359.1 L1201.9 359.6 L1202.4 361.6 L1203.1 362.2 L1203.9 362.1 L1205.1 359.8 L1205.8 360.3 L1206.7 360.0 L1207.1 362.3 L1208.3 360.1 L1209.1 360.3 L1209.4 363.0 L1210.2 363.3 L1211.4 361.1 L1211.8 363.5 L1212.9 361.7 L1213.3 364.0 L1214.1 363.9 L1215.0 363.4 L1216.1 362.2 L1216.9 362.0 L1217.3 364.4 L1218.2 364.0 L1219.3 362.0 L1220.0 362.8 L1220.9 362.3 L1221.2 365.1 L1222.1 365.0 L1223.2 363.3 L1223.9 363.7 L1224.5 365.1 L1225.6 363.5 L1226.4 363.5 L1226.7 366.3 L1227.9 364.2 L1228.8 363.8 L1229.5 364.5 L1229.8 366.9 L1230.6 367.0 L1231.8 365.1 L1232.7 364.6 L1233.0 367.3 L1234.3 365.1 L1234.5 367.7 L1235.4 367.6 L1236.2 367.7 L1237.3 366.0 L1237.7 368.4 L1239.0 365.8 L1239.6 366.7 L1240.5 366.3 L1240.9 368.5 L1242.0 367.2 L1242.5 368.7 L1243.2 369.3 L1244.4 367.6 L1244.8 369.3 L1245.6 369.3 L1246.4 369.7 L1247.6 367.8 L1248.2 368.7 L1249.1 368.4 L1249.9 368.5 L1250.3 370.3 L1251.4 369.2 L1251.7 371.5 L1252.4 371.8 L1253.2 371.8 L1254.2 371.4 L1254.8 372.1 L1256.1 370.1 L1256.5 371.9 L1257.2 372.4 L1257.9 373.0 L1259.3 370.5 L1259.5 372.9 L1260.4 372.8 L1261.6 371.1 L1261.7 374.1 L1263.1 371.8 L1263.4 373.7 L1264.7 372.2 L1265.5 372.3 L1266.2 372.7 L1266.5 374.7 L1267.7 373.3 L1268.0 375.0 L1268.9 375.0 L1270.0 373.9 L1270.2 376.3 L1271.2 375.6 L1271.8 376.5 L1273.2 374.3 L1273.9 374.9 L1274.7 374.9 L1275.4 375.5 L1275.6 377.6 L1277.1 375.5 L1277.8 375.7 L1278.0 378.1 L1279.4 375.9 L1280.2 376.2 L1280.2 378.8 L1281.7 376.9 L1281.8 379.0 L1282.4 379.9 L1283.9 377.6 L1284.8 377.6 L1284.9 379.9 L1285.5 380.8 L1286.8 379.1 L1287.7 378.9 L1288.0 380.7 L1289.2 379.7 L1289.3 381.8 L1290.7 380.3 L1291.0 382.0 L1292.2 380.7 L1293.2 380.3 L1293.3 382.4 L1294.5 381.3 L1295.5 381.0 L1296.2 381.4 L1296.9 381.7 L1297.8 381.7 L1297.9 383.8 L1299.2 382.5 L1300.0 382.6 L1300.0 385.3 L1300.7 385.5 L1302.1 384.0 L1302.4 385.4 L1303.0 386.3 L1303.8 386.4 L1305.2 384.9 L1305.5 386.4 L1306.1 387.1 L1307.0 387.0 L1307.5 387.8 L1309.0 386.1 L1309.9 385.9 L1310.0 388.0 L1311.3 386.7 L1311.9 387.4 L1312.9 387.0 L1313.6 387.5 L1313.7 389.4 L1315.2 387.6 L1315.1 390.4 L1316.5 388.7 L1316.6 391.1 L1318.1 389.2 L1318.0 391.7 L1319.5 389.8 L1320.5 389.4 L1320.6 391.7 L1321.9 390.2 L1322.6 390.9 L1322.7 392.8 L1324.2 391.1 L1324.7 391.9 L1325.6 392.0 L1325.8 393.6 L1327.2 392.1 L1327.3 394.2 L1328.0 394.7 L1329.4 393.3 L1330.1 393.6 L1331.1 393.2 L1331.0 395.8 L1332.5 394.1 L1333.2 394.3 L1334.0 394.5 L1334.6 395.2 L1334.9 396.8 L1335.5 397.4 L1336.3 397.5 L1337.5 396.6 L1338.6 396.0 L1338.4 398.7 L1339.9 397.1 L1340.5 397.6 L1340.6 399.7 L1342.2 397.8 L1342.8 398.5 L1343.8 398.0 L1343.5 401.0 L1344.2 401.3 L1346.0 399.1 L1346.6 399.6 L1346.6 401.6 L1347.2 402.3 L1348.7 400.9 L1349.6 400.8 L1349.7 402.7 L1350.4 402.9 L1351.8 401.6 L1352.4 402.3 L1352.3 404.5 L1354.1 402.5 L1354.8 402.8 L1354.5 405.4 L1356.3 403.5 L1356.0 406.1 L1357.8 404.1 L1358.5 404.4 L1358.4 406.5 L1359.7 405.7 L1359.7 407.5 L1361.1 406.4 L1361.8 406.8 L1361.6 409.0 L1363.2 407.6 L1363.9 407.9 L1363.8 410.0 L1364.7 409.9 L1366.1 408.9 L1365.8 411.2 L1366.6 411.4 L1367.4 411.5 L1368.3 411.6 L1369.6 410.7 L1370.7 410.5 L1371.3 411.1 L1371.6 412.1 L1372.6 411.9 L1372.3 414.1 L1374.1 412.7 L1374.5 413.4 L1375.2 414.0 L1375.8 414.5 L1375.8 416.0 L1376.2 416.9 L1378.3 414.9 L1377.7 417.6 L1378.3 418.0 L1379.3 418.0 L1380.8 417.0 L1381.7 417.0 L1382.5 417.4 L1382.9 418.2 L1383.7 418.4 L1382.9 421.1 L1385.2 419.0 L1384.6 421.4 L1385.1 422.1 L1385.9 422.4 L1386.5 422.9 L1388.3 421.6 L1388.0 423.6 L1388.8 423.8 L1390.4 422.7 L1389.7 425.2 L1391.8 423.5 L1391.4 425.7 L1392.0 426.2 L1393.7 425.1 L1392.9 427.6 L1394.9 426.1 L1395.5 426.7 L1396.3 426.9 L1395.5 429.5 L1397.8 427.6 L1398.5 428.0 L1397.8 430.4 L1398.5 430.7 L1400.4 429.4 L1401.0 429.9 L1400.2 432.6 L1401.1 432.7 L1401.8 433.0 L1402.5 433.5 L1404.4 432.2 L1405.0 432.6 L1404.3 435.0 L1406.3 433.6 L1406.7 434.4 L1407.4 434.9 L1408.1 435.2 L1408.5 436.0 L1408.3 437.7 L1409.9 436.9 L1410.5 437.4 L1411.3 437.6 L1411.0 439.4 L1412.7 438.4 L1413.0 439.3 L1413.8 439.6 L1413.2 441.8 L1414.9 440.8 L1414.6 442.5 L1415.2 443.1 L1417.1 441.9 L1418.0 442.1 L1418.5 442.7 L1418.0 444.7 L1419.8 443.6 L1420.3 444.3 L1421.0 444.7 L1421.4 445.5 L1422.2 445.8 L1421.5 448.0 L1422.1 448.6 L1424.3 447.0 L1423.7 449.1 L1425.6 447.9 L1426.1 448.6 L1426.8 449.0 L1425.9 451.5 L1426.8 451.6 L1427.1 452.5 L1429.5 450.8 L1428.4 453.4 L1430.4 452.1 L1431.2 452.5 L1431.6 453.3 L1432.6 453.3 L1433.3 453.7 L1432.6 455.8 L1432.9 456.8 L1433.6 457.2 L1435.3 456.3 L1436.4 456.1 L1435.6 458.5 L1437.3 457.6 L1437.1 459.2 L1438.9 458.2 L1439.2 459.1 L1438.7 461.0 L1440.4 460.2 L1439.9 462.1 L1440.7 462.4 L1442.7 461.2 L1441.7 463.6 L1443.9 462.3 L1444.2 463.1 L1444.7 463.8 L1445.8 463.7 L1444.7 466.3 L1446.9 464.8 L1445.9 467.3 L1446.7 467.7 L1448.8 466.4 L1449.3 467.0 L1448.7 468.9 L1449.3 469.5 L1450.1 469.9 L1451.8 469.1 L1451.1 471.1 L1452.7 470.4 L1453.6 470.6 L1454.1 471.2 L1453.5 473.2 L1455.7 471.9 L1454.7 474.2 L1456.8 473.0 L1457.4 473.6 L1456.8 475.5 L1457.3 476.1 L1457.6 477.0 L1458.1 477.6 L1460.2 476.5 L1460.6 477.1 L1459.9 479.2 L1462.4 477.6 L1462.8 478.3 L1463.6 478.7 L1464.0 479.3 L1464.8 479.6 L1465.0 480.7 L1465.7 481.0 L1464.9 483.2 L1466.8 482.3 L1467.7 482.4 L1468.0 483.3 L1467.3 485.3 L1469.6 484.0 L1469.9 484.8 L1468.9 487.1 L1469.7 487.4 L1470.2 488.0 L1472.0 487.2 L1471.8 488.6 L1473.7 487.8 L1472.4 490.3 L1473.2 490.6 L1475.6 489.3 L1475.6 490.5 L1476.7 490.4 L1475.4 493.0 L1477.7 491.7 L1476.9 493.7 L1477.3 494.5 L1479.2 493.6 L1478.5 495.5 L1480.7 494.4 L1481.2 495.0 L1481.6 495.8 L1481.3 497.3 L1482.7 496.9 L1483.7 497.0 L1483.9 498.0 L1483.5 499.5 L1485.0 499.1 L1484.4 500.9 L1484.9 501.5 L1487.2 500.3 L1485.9 502.8 L1486.4 503.4 L1487.1 503.9 L1487.9 504.2 L1489.6 503.5 L1488.7 505.6 L1490.8 504.6 L1491.7 504.8 L1491.0 506.8 L1493.0 505.8 L1492.2 507.8 L1492.6 508.5 L1493.3 509.0 L1495.3 508.0 L1494.2 510.3 L1496.3 509.2 L1496.7 510.0 L1496.2 511.7 L1496.4 512.7 L1497.0 513.2 L1499.3 511.9 L1498.0 514.4 L1500.4 513.1 L1499.7 515.0 L1500.0 515.8 L1501.9 515.0 L1502.7 515.3 L1501.9 517.3 L1502.4 518.0 L1502.8 518.8 L1505.2 517.3 L1504.3 519.5 L1506.4 518.4 L1505.1 520.9 L1505.8 521.4 L1506.5 521.8 L1506.9 522.6 L1509.1 521.3 L1509.4 522.2 L1510.1 522.6 L1509.4 524.6 L1511.4 523.6 L1512.0 524.1 L1511.3 526.0 L1512.0 526.4 L1512.7 526.9 L1514.1 526.6 L1515.1 526.7 L1515.4 527.4 L1516.1 527.9 L1517.0 528.1 L1515.8 530.5 L1516.3 531.2 L1518.7 529.9 L1519.4 530.3 L1518.6 532.3 L1518.9 533.1 L1521.1 531.9 L1521.4 532.8 L1520.3 535.1 L1521.4 535.1 L1522.1 535.6 L1522.1 536.7 L1523.0 536.9 L1524.9 536.1 L1523.8 538.4 L1525.9 537.4 L1527.0 537.4 L1525.9 539.7 L1526.6 540.1 L1527.2 540.6 L1529.0 539.9 L1528.2 541.9 L1528.5 542.8 L1530.4 541.9 L1530.2 543.3 L1530.7 543.9 L1532.5 543.2 L1533.2 543.6 L1533.6 544.4 L1534.2 544.8 L1534.8 545.4 L1534.2 547.1 L1534.6 547.9 L1536.8 546.8 L1536.9 547.8 L1537.9 548.0 L1536.7 550.3 L1538.5 549.6 L1538.2 551.1 L1539.7 550.7 L1540.3 551.2 L1540.9 551.7 L1541.5 552.3 L1540.6 554.3 L1542.7 553.4 L1542.9 554.3 L1542.5 555.8 L1542.6 556.8 L1544.6 556.0 L1543.8 557.8 L1544.6 558.2 L1545.0 559.0 L1547.0 558.1 L1546.3 559.9 L1548.2 559.1 L1549.1 559.5 L1549.2 560.4 L1549.6 561.2 L1549.3 562.6 L1551.2 561.8 L1551.4 562.8 L1551.8 563.5 L1551.1 565.3 L1553.4 564.2 L1553.8 565.0 L1553.0 566.8 L1553.3 567.5 L1554.0 568.0 L1555.5 567.7 L1554.5 569.6 L1556.9 568.6 L1557.2 569.4 L1558.3 569.5 L1556.6 572.0 L1557.3 572.5 L1558.2 572.8 L1559.9 572.4 L1560.6 572.8 L1559.6 574.8 L1561.9 573.8 L1562.5 574.3 L1563.0 575.0 L1561.8 577.0 L1563.8 576.4 L1563.0 578.1 L1563.2 579.0 L1565.0 578.6 L1565.5 579.1 L1566.0 579.7 L1566.7 580.3 L1565.9 581.9 L1568.0 581.2 L1567.1 583.0 L1567.6 583.6 L1567.7 584.6 L1570.0 583.7 L1568.6 585.9 L1569.1 586.5 L1569.7 587.1 L1571.9 586.3 L1572.6 586.8 L1571.6 588.6 L1573.2 588.4 L1572.1 590.3 L1574.1 589.7 L1573.2 591.4 L1573.9 591.9 L1574.3 592.6 L1576.6 591.8 L1576.9 592.6 L1575.7 594.5 L1577.6 594.1 L1578.5 594.4 L1578.9 595.1 L1577.6 597.0 L1580.0 596.3 L1578.4 598.5 L1581.0 597.5 L1579.4 599.7 L1579.6 600.5 L1582.1 599.7 L1582.7 600.3 L1581.1 602.4 L1583.1 601.9 L1582.3 603.5 L1582.7 604.2 L1583.6 604.6 L1583.4 605.6 L1586.0 604.8 L1584.2 607.0 L1585.2 607.3 L1587.1 606.9 L1585.6 609.0 L1588.0 608.3 L1588.8 608.7 L1587.4 610.7 L1589.3 610.3 L1589.7 611.0 L1588.9 612.5 L1589.2 613.3 L1589.8 613.8 L1591.9 613.4 L1592.5 613.9 L1592.2 615.1 L1592.6 615.8 L1592.2 617.1 L1594.2 616.7 L1593.0 618.4 L1594.9 618.1 L1593.6 619.9 L1594.2 620.5 L1594.6 621.2 L1596.6 620.8 L1595.6 622.4 L1597.6 622.1 L1597.8 622.9 L1596.7 624.6 L1598.4 624.5 L1599.2 624.9 L1599.6 625.6 L1599.7 626.4 L1598.7 628.0 L1599.0 628.7 L1601.5 628.2 L1599.8 630.1 L1602.3 629.6 L1600.6 631.6 L1602.9 631.1 L1601.5 632.9 L1603.8 632.4 L1602.3 634.2 L1604.7 633.8 L1604.6 634.7 L1603.7 636.2 L1603.6 637.2 L1604.4 637.6 L1606.8 637.2 L1607.3 637.8 L1607.4 638.7 L1607.4 639.6 L1606.1 641.2 L1608.7 640.7 L1607.3 642.4 L1609.6 642.0 L1609.7 642.9 L1609.7 643.8 L1610.1 644.5 L1610.7 645.1 L1609.4 646.7 L1611.9 646.2 L1611.7 647.3 L1612.1 648.0 L1613.0 648.4 L1611.5 650.1 L1611.9 650.8 L1614.3 650.4 L1614.8 651.1 L1612.6 653.2 L1613.1 653.8 L1614.2 654.1 L1615.6 654.2 L1616.4 654.7 L1617.1 655.3 L1615.6 657.0 L1617.5 656.9 L1616.1 658.5 L1618.1 658.4 L1618.4 659.1 L1618.8 659.8 L1617.8 661.3 L1619.4 661.3 L1620.1 661.8 L1620.4 662.6 L1621.0 663.2 L1621.3 663.9 L1621.9 664.5 L1621.8 665.5 L1622.6 666.0 L1622.5 666.9 L1621.1 668.5 L1623.6 668.1 L1623.6 669.0 L1622.3 670.6 L1624.6 670.4 L1624.5 671.3 L1623.3 672.8 L1625.2 672.7 L1625.6 673.4 L1624.3 674.9 L1627.0 674.5 L1627.4 675.2 L1625.7 676.9 L1626.1 677.6 L1626.2 678.5 L1628.3 678.3 L1627.0 679.9 L1629.3 679.6 L1629.6 680.4 L1627.9 682.1 L1628.2 682.8 L1630.5 682.6 L1630.9 683.3 L1628.9 685.1 L1629.2 685.8 L1632.2 685.3 L1632.5 686.1 L1631.0 687.7 L1632.8 687.7 L1631.0 689.4 L1631.8 689.9 L1631.8 690.8 L1632.7 691.3 L1632.9 692.1 L1633.0 692.9 L1634.7 693.0 L1635.3 693.6 L1635.5 694.4 L1636.4 694.9 L1634.7 696.5 L1636.6 696.5 L1637.3 697.1 L1637.4 697.9 L1636.2 699.3 L1637.7 699.6 L1636.3 701.0 L1638.3 701.0 L1638.6 701.8 L1639.3 702.4 L1639.4 703.2 L1639.5 704.0 L1640.1 704.7 L1638.3 706.2 L1639.1 706.7 L1640.6 707.0 L1639.4 708.3 L1639.2 709.2 L1641.1 709.4 L1641.6 710.1 L1641.7 710.9 L1642.3 711.5 L1642.6 712.3 L1641.4 713.5 L1643.1 713.8 L1643.2 714.6 L1643.0 715.5 L1643.7 716.1 L1642.3 717.3 L1642.2 718.2 L1642.9 718.8 L1644.2 719.4 L1643.0 720.5 L1644.8 720.9 L1643.2 722.0 L1643.6 722.8 L1644.1 723.5 L1644.1 724.3 L1644.3 725.1 L1645.7 725.6 L1645.6 726.5 L1644.7 727.4 L1645.7 728.1 L1646.0 728.8 L1645.8 729.7 L1645.1 730.6 L1645.3 731.4 L1646.3 732.0 L1645.6 732.9 L1646.5 733.6 L1646.5 734.4 L1646.0 735.3 L1646.7 736.0 L1646.8 736.8 L1647.0 737.6 L1646.3 738.5 L1646.6 739.3 L1646.6 740.1 L1646.6 740.9 L1647.4 741.6 L1646.8 742.5 L1646.9 743.2 L1647.6 744.0 L1647.6 744.8 L1647.7 745.6 L1647.3 746.4 L1647.4 747.2 L1647.7 748.0 L1647.7 748.8 L1647.8 749.6 L1647.5 750.4 L1647.9 751.2 L1647.9 752.0 L1648.0 752.8 L1648.0 753.6 L1648.1 754.4 L1648.1 755.2 L1647.9 756.0 L1648.2 756.8 L1647.9 757.6 L1648.2 758.4 L1648.1 759.2 L1648.1 760.0 L1648.1 760.8 L1648.4 761.6 L1648.4 762.4 L1648.4 763.2 L1648.2 764.0 L1648.3 764.8 L1648.4 765.6 L1648.6 766.4 L1648.6 767.2 L1648.4 768.0 L1648.6 768.8 L1648.4 769.6 L1648.6 770.4 L1648.7 771.2 L1648.7 772.0 L1648.6 772.8 L1648.7 773.6 L1648.7 774.4 L1648.7 775.2 L1648.7 776.0 L1648.7 776.8 L1648.7 777.6 L1648.7 778.4 L1648.7 779.2 L1648.7 780.0 L1648.7 780.8 L1648.7 781.6 L1648.7 782.4 L1648.7 783.2 L1648.7 784.0 L1648.7 784.8 L1648.7 785.6 L1648.7 786.4 L1648.7 787.2 L1648.7 788.0 L1648.7 788.8 L1648.7 789.6 L1648.7 790.4 L1648.8 791.2 L1648.7 792.0 L1648.7 792.8 L1648.7 793.6 L1648.8 794.4 L1648.8 795.2 L1648.8 796.0 L1648.8 796.8 L1648.8 797.6 L1648.8 798.4 L1648.8 799.2 L1648.8 800.0 L1648.8 800.8 L1648.8 801.6 L1648.8 802.4 L1648.8 803.2 L1648.8 804.0 L1648.8 804.8 L1648.8 805.6 L1648.8 806.4 L1648.8 807.2 L1648.8 808.0 L1648.8 808.8 L1648.8 809.6 L1648.8 810.4 L1648.8 811.2 L1648.8 812.0 L1648.8 812.8 L1648.8 813.6 L1648.8 814.4 L1648.8 815.2 L1648.8 816.0 L1648.8 816.8 L1648.8 817.6 L1648.8 818.4 L1648.8 819.2 L1648.8 820.0 L1648.8 820.8 L1648.8 821.6 L1648.8 822.4 L1648.8 823.2 L1648.8 824.0 L1648.8 824.8 L1648.8 825.6 L1648.8 826.4 L1648.8 827.2 L1648.8 827.3" stroke="#767676" stroke-width="9.7"/>
<path d="M281.6 1255.5 L281.9 1254.7 L281.9 1253.9 L281.6 1253.1 L281.5 1252.3 L281.7 1251.5 L281.6 1250.7 L282.3 1249.9 L282.4 1249.1 L282.0 1248.3 L282.6 1247.6 L282.6 1246.8 L282.1 1245.9 L282.2 1245.1 L282.9 1244.4 L283.0 1243.6 L282.4 1242.7 L282.9 1242.0 L283.1 1241.2 L283.1 1240.4 L283.3 1239.6 L283.3 1238.8 L282.8 1237.9 L283.5 1237.2 L282.9 1236.3 L282.9 1235.5 L282.9 1234.7 L283.7 1234.0 L283.8 1233.2 L283.8 1232.4 L283.3 1231.6 L283.3 1230.8 L283.5 1230.0 L284.1 1229.2 L284.1 1228.4 L283.6 1227.6 L283.6 1226.8 L284.3 1226.0 L283.7 1225.2 L283.8 1224.4 L283.9 1223.6 L284.2 1222.8 L284.5 1222.0 L284.8 1221.2 L284.7 1220.4 L285.0 1219.7 L284.4 1218.8 L284.4 1218.0 L284.6 1217.2 L285.2 1216.5 L285.3 1215.7 L285.4 1214.9 L284.8 1214.0 L285.4 1213.3 L284.9 1212.4 L285.5 1211.7 L285.0 1210.8 L285.0 1210.0 L285.1 1209.2 L285.7 1208.5 L285.9 1207.7 L285.2 1206.8 L285.5 1206.0 L286.2 1205.3 L285.5 1204.4 L286.3 1203.7 L285.8 1202.9 L285.7 1202.0 L285.7 1201.3 L286.4 1200.5 L285.9 1199.7 L286.5 1198.9 L286.7 1198.1 L286.1 1197.3 L286.9 1196.5 L286.2 1195.7 L286.4 1194.9 L286.6 1194.1 L286.4 1193.3 L287.0 1192.5 L286.7 1191.7 L286.8 1190.9 L286.7 1190.1 L286.9 1189.3 L286.8 1188.5 L287.6 1187.8 L287.0 1186.9 L287.0 1186.1 L287.9 1185.4 L287.3 1184.5 L287.4 1183.7 L287.4 1182.9 L287.4 1182.1 L287.5 1181.3 L288.3 1180.6 L288.2 1179.8 L287.8 1179.0 L287.7 1178.1 L287.8 1177.3 L288.5 1176.6 L288.5 1175.8 L288.2 1175.0 L288.7 1174.2 L288.3 1173.4 L288.4 1172.6 L288.5 1171.8 L288.5 1171.0 L289.0 1170.2 L288.7 1169.4 L289.1 1168.6 L289.3 1167.8 L288.7 1167.0 L288.7 1166.2 L288.9 1165.4 L289.5 1164.6 L289.1 1163.8 L289.1 1163.0 L289.7 1162.3 L289.9 1161.5 L290.0 1160.7 L290.0 1159.9 L290.1 1159.1 L289.6 1158.2 L289.7 1157.4 L290.1 1156.7 L289.7 1155.8 L289.8 1155.0 L290.4 1154.3 L290.1 1153.4 L290.0 1152.6 L290.2 1151.9 L290.7 1151.1 L290.8 1150.3 L291.0 1149.5 L290.9 1148.7 L291.1 1147.9 L290.5 1147.1 L290.6 1146.3 L291.1 1145.5 L290.8 1144.7 L291.5 1143.9 L291.4 1143.1 L291.5 1142.3 L291.7 1141.5 L291.8 1140.7 L291.7 1139.9 L291.8 1139.1 L291.9 1138.3 L291.4 1137.5 L291.4 1136.7 L292.0 1135.9 L292.2 1135.2 L292.1 1134.4 L292.4 1133.6 L291.8 1132.7 L291.9 1131.9 L292.0 1131.1 L292.7 1130.4 L292.0 1129.5 L292.2 1128.7 L292.2 1127.9 L292.3 1127.1 L292.3 1126.3 L293.0 1125.6 L293.2 1124.8 L292.6 1124.0 L292.5 1123.1 L293.2 1122.4 L292.7 1121.6 L293.4 1120.8 L292.9 1120.0 L293.6 1119.2 L293.7 1118.4 L293.2 1117.6 L293.3 1116.8 L294.0 1116.0 L293.9 1115.2 L293.4 1114.4 L294.0 1113.6 L293.5 1112.8 L294.3 1112.1 L293.7 1111.2 L294.3 1110.5 L294.4 1109.7 L294.0 1108.8 L294.1 1108.0 L294.5 1107.3 L294.7 1106.5 L294.9 1105.7 L294.4 1104.8 L294.9 1104.1 L294.5 1103.2 L294.6 1102.4 L295.2 1101.7 L294.7 1100.9 L294.8 1100.1 L295.4 1099.3 L295.4 1098.5 L295.4 1097.7 L294.8 1096.8 L295.6 1096.1 L295.0 1095.3 L295.7 1094.5 L295.2 1093.7 L295.9 1092.9 L296.0 1092.1 L296.2 1091.3 L295.4 1090.5 L296.1 1089.7 L296.4 1088.9 L296.3 1088.1 L295.9 1087.3 L296.4 1086.5 L296.6 1085.8 L296.7 1085.0 L296.8 1084.2 L296.1 1083.3 L296.3 1082.5 L296.8 1081.8 L296.9 1081.0 L297.1 1080.2 L296.4 1079.3 L296.6 1078.5 L296.7 1077.7 L296.6 1076.9 L296.7 1076.1 L296.8 1075.3 L297.6 1074.6 L297.1 1073.8 L297.8 1073.0 L297.2 1072.2 L297.2 1071.4 L297.9 1070.6 L297.3 1069.8 L298.0 1069.0 L298.3 1068.2 L297.5 1067.4 L297.8 1066.6 L297.7 1065.8 L298.5 1065.0 L297.9 1064.2 L298.1 1063.4 L298.6 1062.6 L298.2 1061.8 L298.8 1061.1 L298.2 1060.2 L299.0 1059.5 L298.4 1058.6 L299.1 1057.9 L298.6 1057.0 L298.6 1056.2 L298.6 1055.4 L299.3 1054.7 L299.5 1053.9 L299.0 1053.0 L299.8 1052.3 L299.2 1051.5 L299.1 1050.6 L299.9 1049.9 L299.9 1049.1 L300.1 1048.3 L299.5 1047.5 L300.2 1046.7 L300.2 1045.9 L299.6 1045.1 L299.8 1044.3 L299.7 1043.5 L299.9 1042.7 L300.0 1041.9 L300.8 1041.2 L300.7 1040.3 L300.1 1039.5 L300.1 1038.7 L300.2 1037.9 L301.1 1037.2 L301.2 1036.4 L301.3 1035.6 L301.2 1034.8 L301.4 1034.0 L300.7 1033.1 L301.6 1032.4 L301.5 1031.6 L301.7 1030.8 L301.6 1030.0 L301.3 1029.2 L301.7 1028.4 L302.0 1027.6 L302.0 1026.8 L302.2 1026.0 L301.7 1025.2 L302.1 1024.4 L302.4 1023.6 L301.8 1022.8 L301.9 1022.0 L301.8 1021.2 L302.1 1020.4 L302.8 1019.7 L302.7 1018.8 L302.1 1018.0 L302.3 1017.2 L302.2 1016.4 L302.5 1015.6 L303.2 1014.9 L303.1 1014.1 L303.3 1013.3 L303.4 1012.5 L302.8 1011.6 L302.8 1010.8 L302.9 1010.0 L303.1 1009.2 L303.2 1008.4 L303.1 1007.6 L303.9 1006.9 L304.0 1006.1 L303.4 1005.2 L304.2 1004.5 L304.1 1003.7 L303.5 1002.8 L304.2 1002.1 L303.7 1001.3 L304.6 1000.5 L304.4 999.7 L304.7 998.9 L304.6 998.1 L304.3 997.3 L304.8 996.5 L304.2 995.7 L304.9 994.9 L304.3 994.1 L305.0 993.3 L305.2 992.6 L304.7 991.7 L304.8 990.9 L305.4 990.2 L305.4 989.4 L305.1 988.5 L305.1 987.7 L305.1 986.9 L305.8 986.2 L305.2 985.3 L306.0 984.6 L305.5 983.7 L306.0 983.0 L306.1 982.2 L305.5 981.3 L306.4 980.6 L305.9 979.8 L306.0 979.0 L305.8 978.2 L306.0 977.4 L306.8 976.6 L306.1 975.8 L306.8 975.0 L307.1 974.3 L306.9 973.4 L306.4 972.6 L306.6 971.8 L306.6 971.0 L307.3 970.3 L307.4 969.5 L306.8 968.6 L307.7 967.9 L307.6 967.1 L307.2 966.2 L307.7 965.5 L308.0 964.7 L307.2 963.8 L307.9 963.1 L308.1 962.3 L307.7 961.5 L308.4 960.7 L308.3 959.9 L308.3 959.1 L307.8 958.3 L307.8 957.4 L308.0 956.7 L308.6 955.9 L308.8 955.1 L308.3 954.3 L308.2 953.5 L309.2 952.8 L309.0 951.9 L309.2 951.2 L309.4 950.4 L309.4 949.6 L308.8 948.7 L308.7 947.9 L309.8 947.2 L308.9 946.3 L309.8 945.6 L309.8 944.8 L309.4 943.9 L309.9 943.2 L310.2 942.4 L310.3 941.6 L309.5 940.7 L310.5 940.0 L310.4 939.2 L310.5 938.4 L310.5 937.6 L310.0 936.8 L309.9 936.0 L310.1 935.2 L310.9 934.4 L310.9 933.6 L311.2 932.9 L310.3 932.0 L311.3 931.3 L310.7 930.4 L310.7 929.6 L310.8 928.8 L310.7 928.0 L311.5 927.3 L311.7 926.5 L311.2 925.6 L311.7 924.9 L311.3 924.0 L311.2 923.2 L311.4 922.4 L311.5 921.6 L311.6 920.8 L311.7 920.1 L312.5 919.3 L311.8 918.5 L312.4 917.7 L312.7 916.9 L311.9 916.0 L312.7 915.3 L313.1 914.6 L312.8 913.7 L313.0 912.9 L313.3 912.2 L312.4 911.3 L312.7 910.5 L312.6 909.7 L312.7 908.9 L313.5 908.2 L312.9 907.3 L313.7 906.6 L313.2 905.7 L313.9 905.0 L314.0 904.2 L314.1 903.4 L314.1 902.6 L313.4 901.7 L314.1 901.0 L314.2 900.2 L314.3 899.4 L313.8 898.5 L313.9 897.8 L313.9 896.9 L313.9 896.1 L314.3 895.4 L314.9 894.6 L314.3 893.8 L314.4 893.0 L314.3 892.2 L315.3 891.5 L314.7 890.6 L315.4 889.9 L314.9 889.0 L314.9 888.2 L315.1 887.4 L315.7 886.7 L315.8 885.9 L315.2 885.0 L315.3 884.2 L315.3 883.4 L316.2 882.7 L316.1 881.9 L316.4 881.1 L316.4 880.3 L315.7 879.4 L316.5 878.7 L316.5 877.9 L316.8 877.1 L316.9 876.3 L316.0 875.5 L316.3 874.7 L317.1 874.0 L316.3 873.1 L316.5 872.3 L317.4 871.6 L316.6 870.7 L316.9 869.9 L316.9 869.1 L316.9 868.3 L317.0 867.5 L317.8 866.8 L317.8 866.0 L318.0 865.2 L318.1 864.4 L317.9 863.6 L318.1 862.8 L318.4 862.0 L317.5 861.1 L317.9 860.4 L318.5 859.6 L318.0 858.8 L317.9 858.0 L317.9 857.1 L318.3 856.4 L318.1 855.6 L319.0 854.8 L318.2 854.0 L318.3 853.2 L318.7 852.4 L319.3 851.7 L319.5 850.9 L318.8 850.0 L318.8 849.2 L319.0 848.4 L319.1 847.6 L319.7 846.9 L319.8 846.1 L320.1 845.3 L319.4 844.4 L319.4 843.6 L319.5 842.8 L319.5 842.0 L319.5 841.2 L320.5 840.5 L319.7 839.6 L320.0 838.9 L320.7 838.1 L320.2 837.3 L320.9 836.6 L320.9 835.7 L320.4 834.9 L321.2 834.2 L321.2 833.4 L320.6 832.5 L321.2 831.8 L320.6 830.9 L320.8 830.1 L320.8 829.3 L321.1 828.5 L321.8 827.8 L321.2 826.9 L321.2 826.1 L321.2 825.3 L322.1 824.6 L322.3 823.8 L321.6 823.0 L321.5 822.1 L322.2 821.4 L322.3 820.6 L322.5 819.8 L322.0 819.0 L322.8 818.2 L322.1 817.4 L322.8 816.6 L323.0 815.9 L323.2 815.1 L322.4 814.2 L323.2 813.5 L323.4 812.7 L322.7 811.8 L322.6 811.0 L322.9 810.2 L323.0 809.4 L323.8 808.7 L323.2 807.8 L323.8 807.1 L323.9 806.3 L323.9 805.5 L324.0 804.7 L324.1 803.9 L324.1 803.1 L323.6 802.2 L323.7 801.5 L324.4 800.7 L324.7 799.9 L324.6 799.1 L324.6 798.3 L324.0 797.5 L324.2 796.7 L324.4 795.9 L325.0 795.2 L325.1 794.4 L325.1 793.6 L325.2 792.8 L324.8 791.9 L324.9 791.1 L325.6 790.4 L325.5 789.6 L325.2 788.7 L325.7 788.0 L325.3 787.1 L325.4 786.3 L326.1 785.6 L325.3 784.7 L325.4 783.9 L326.3 783.2 L326.5 782.4 L326.5 781.6 L326.6 780.8 L326.7 780.0 L326.0 779.2 L326.0 778.4 L326.9 777.7 L327.0 776.9 L327.1 776.1 L327.0 775.2 L326.4 774.4 L327.1 773.7 L327.3 772.9 L326.7 772.0 L326.7 771.2 L327.5 770.5 L327.7 769.7 L327.1 768.8 L327.3 768.0 L327.9 767.3 L328.1 766.5 L328.0 765.7 L327.4 764.8 L327.7 764.1 L328.3 763.3 L328.4 762.5 L328.4 761.7 L328.7 761.0 L328.8 760.2 L327.9 759.3 L328.3 758.5 L328.1 757.7 L328.4 756.9 L328.5 756.1 L328.4 755.3 L329.1 754.6 L328.8 753.7 L328.6 752.9 L329.5 752.2 L328.8 751.3 L329.0 750.5 L329.2 749.7 L329.2 748.9 L329.8 748.2 L329.5 747.4 L329.9 746.6 L330.1 745.8 L330.2 745.0 L329.7 744.2 L329.6 743.3 L330.6 742.7 L329.8 741.8 L330.6 741.0 L330.8 740.3 L330.9 739.5 L330.2 738.6 L330.9 737.9 L330.5 737.0 L330.5 736.2 L330.6 735.4 L331.5 734.7 L330.7 733.8 L330.8 733.0 L330.8 732.2 L330.9 731.4 L331.6 730.7 L331.2 729.8 L331.1 729.0 L331.9 728.3 L331.5 727.5 L331.4 726.7 L332.4 725.9 L331.5 725.1 L331.6 724.3 L331.7 723.5 L331.9 722.7 L332.5 721.9 L332.0 721.1 L332.7 720.3 L332.1 719.5 L332.4 718.7 L332.9 718.0 L332.3 717.1 L332.7 716.3 L332.6 715.5 L333.3 714.8 L333.7 714.0 L333.1 713.1 L333.7 712.4 L333.9 711.6 L333.8 710.8 L333.8 710.0 L333.9 709.2 L333.9 708.4 L333.4 707.5 L334.3 706.8 L334.5 706.1 L334.5 705.2 L334.5 704.5 L334.0 703.6 L334.1 702.8 L333.9 702.0 L334.0 701.2 L334.9 700.5 L335.1 699.7 L334.3 698.8 L335.1 698.1 L335.2 697.3 L334.6 696.4 L334.6 695.6 L335.7 694.9 L335.5 694.1 L335.5 693.3 L335.1 692.4 L335.3 691.7 L335.1 690.8 L335.9 690.1 L335.3 689.2 L335.6 688.5 L336.4 687.8 L336.3 686.9 L336.5 686.2 L335.8 685.3 L336.7 684.6 L336.5 683.7 L336.6 683.0 L336.2 682.1 L337.0 681.4 L336.2 680.5 L336.3 679.7 L336.4 678.9 L337.1 678.2 L336.5 677.3 L337.5 676.6 L336.8 675.7 L337.7 675.0 L337.6 674.2 L337.0 673.3 L337.1 672.5 L337.1 671.7 L337.9 671.0 L337.3 670.2 L338.3 669.5 L337.5 668.6 L338.2 667.8 L337.6 667.0 L337.9 666.2 L338.0 665.4 L337.9 664.6 L338.8 663.9 L338.8 663.1 L339.0 662.3 L339.0 661.5 L339.0 660.7 L339.1 659.9 L339.4 659.1 L339.4 658.3 L339.3 657.5 L338.8 656.6 L338.8 655.8 L339.6 655.1 L339.2 654.3 L339.2 653.5 L340.1 652.7 L339.2 651.9 L340.0 651.1 L339.3 650.3 L340.3 649.6 L340.3 648.7 L340.3 647.9 L339.9 647.1 L340.5 646.4 L340.6 645.6 L340.7 644.8 L340.9 644.0 L340.1 643.1 L341.0 642.4 L341.2 641.6 L340.4 640.7 L341.4 640.0 L340.5 639.1 L341.4 638.4 L340.7 637.5 L341.7 636.8 L340.9 635.9 L340.9 635.1 L341.8 634.4 L341.2 633.6 L341.9 632.8 L342.2 632.1 L342.3 631.3 L342.2 630.4 L342.3 629.6 L342.3 628.8 L341.6 628.0 L341.8 627.2 L341.8 626.4 L342.8 625.7 L342.1 624.8 L343.0 624.1 L342.1 623.2 L342.2 622.4 L342.5 621.6 L343.2 620.9 L342.4 620.0 L342.7 619.2 L342.7 618.4 L342.8 617.6 L343.7 616.9 L343.2 616.1 L343.6 615.3 L343.7 614.5 L343.3 613.7 L344.0 612.9 L343.3 612.1 L344.3 611.4 L344.1 610.5 L344.5 609.8 L344.4 609.0 L344.6 608.2 L344.0 607.3 L344.8 606.6 L344.2 605.7 L344.8 605.0 L344.9 604.2 L344.4 603.3 L345.0 602.6 L345.1 601.8 L345.2 601.0 L344.6 600.1 L345.5 599.4 L345.6 598.6 L344.7 597.7 L344.9 596.9 L345.6 596.2 L345.8 595.4 L345.9 594.6 L345.9 593.8 L346.0 593.0 L345.5 592.2 L346.2 591.5 L346.1 590.6 L346.4 589.9 L345.8 589.0 L346.0 588.2 L346.0 587.4 L346.8 586.7 L346.1 585.8 L346.3 585.0 L346.2 584.2 L346.3 583.4 L346.5 582.6 L346.5 581.8 L346.7 581.0 L347.3 580.3 L346.6 579.4 L347.4 578.7 L347.4 577.9 L347.1 577.1 L347.0 576.3 L347.6 575.5 L347.9 574.7 L348.0 573.9 L348.1 573.1 L347.4 572.3 L347.7 571.5 L348.2 570.7 L347.8 569.9 L347.7 569.1 L348.4 568.4 L348.0 567.5 L347.8 566.7 L348.8 566.0 L348.7 565.2 L349.0 564.4 L348.8 563.6 L348.4 562.7 L348.3 561.9 L348.4 561.1 L348.6 560.3 L349.4 559.6 L348.8 558.7 L348.7 557.9 L349.0 557.2 L349.1 556.4 L349.6 555.6 L349.1 554.8 L349.9 554.0 L349.2 553.2 L349.5 552.4 L349.4 551.6 L350.3 550.9 L350.4 550.1 L349.8 549.2 L350.3 548.4 L350.4 547.6 L350.5 546.9 L349.9 546.0 L350.2 545.2 L350.2 544.4 L350.8 543.7 L350.3 542.8 L350.9 542.1 L351.2 541.3 L351.3 540.5 L351.2 539.7 L351.4 538.9 L350.8 538.0 L350.9 537.2 L351.6 536.5 L351.6 535.7 L351.1 534.9 L351.1 534.1 L351.1 533.3 L351.2 532.5 L352.1 531.7 L352.3 531.0 L351.7 530.1 L351.5 529.3 L352.3 528.5 L351.7 527.7 L352.7 527.0 L352.6 526.2 L352.0 525.3 L352.9 524.6 L352.8 523.8 L352.2 522.9 L352.9 522.2 L352.4 521.3 L352.7 520.5 L353.3 519.8 L352.8 518.9 L352.8 518.1 L352.7 517.3 L353.5 516.6 L352.9 515.7 L353.8 515.0 L353.3 514.2 L353.1 513.3 L353.4 512.6 L353.4 511.8 L353.3 511.0 L354.4 510.3 L353.6 509.4 L354.3 508.6 L353.8 507.8 L354.5 507.1 L354.6 506.3 L354.1 505.4 L354.7 504.7 L354.4 503.8 L355.1 503.1 L354.5 502.2 L355.2 501.5 L354.6 500.6 L355.4 499.9 L354.7 499.0 L355.5 498.3 L354.8 497.4 L354.9 496.6 L355.9 495.9 L355.1 495.1 L355.1 494.2 L356.1 493.6 L355.3 492.7 L356.1 491.9 L356.2 491.2 L355.8 490.3 L356.5 489.6 L356.6 488.8 L355.8 487.9 L356.5 487.2 L356.2 486.3 L356.9 485.6 L356.1 484.7 L356.5 483.9 L356.6 483.1 L357.1 482.4 L357.2 481.6 L356.8 480.8 L357.3 480.0 L356.9 479.2 L357.5 478.4 L357.1 477.6 L357.3 476.8 L357.9 476.0 L357.2 475.2 L357.3 474.4 L357.4 473.6 L358.3 472.9 L357.7 472.0 L357.9 471.2 L357.9 470.4 L357.7 469.6 L357.9 468.8 L358.0 468.0 L358.1 467.2 L358.2 466.4 L359.3 465.7 L358.5 464.8 L358.4 464.0 L358.6 463.2 L359.4 462.5 L359.5 461.7 L359.6 460.9 L359.8 460.2 L360.1 459.4 L359.1 458.5 L360.0 457.8 L360.1 457.0 L360.2 456.2 L360.3 455.4 L360.4 454.6 L359.7 453.7 L360.6 453.0 L359.9 452.1 L360.1 451.3 L360.0 450.5 L360.2 449.7 L360.5 449.0 L360.4 448.1 L360.6 447.4 L360.7 446.6 L360.8 445.8 L361.7 445.1 L361.7 444.3 L361.1 443.4 L361.8 442.7 L362.2 441.9 L361.4 441.0 L361.5 440.2 L362.3 439.5 L361.8 438.6 L361.8 437.8 L362.6 437.1 L362.7 436.3 L362.8 435.5 L362.9 434.7 L363.1 434.0 L363.2 433.2 L363.1 432.4 L362.6 431.5 L362.5 430.7 L362.7 429.9 L362.7 429.1 L363.5 428.4 L363.7 427.6 L363.1 426.7 L363.8 426.0 L363.1 425.1 L364.0 424.4 L363.3 423.5 L363.4 422.7 L364.5 422.0 L364.3 421.2 L363.9 420.4 L364.5 419.6 L364.6 418.8 L363.9 418.0 L364.9 417.3 L364.8 416.4 L364.9 415.6 L364.3 414.8 L364.4 414.0 L365.1 413.3 L365.3 412.5 L364.8 411.6 L365.4 410.9 L365.4 410.1 L364.8 409.2 L365.1 408.4 L365.8 407.7 L365.8 406.9 L365.3 406.0 L365.3 405.2 L365.4 404.4 L366.4 403.7 L365.7 402.9 L365.8 402.1 L366.5 401.3 L366.6 400.5 L366.9 399.8 L366.1 398.9 L366.2 398.1 L366.2 397.3 L366.3 396.5 L367.2 395.8 L366.7 394.9 L367.6 394.2 L366.9 393.3 L367.9 392.7 L367.7 391.8 L367.8 391.0 L368.1 390.3 L368.4 389.5 L368.2 388.7 L367.5 387.7 L367.6 387.0 L367.9 386.2 L367.9 385.4 L367.7 384.5 L369.2 384.0 L368.3 383.0 L369.5 382.4 L368.6 381.4 L368.4 380.6 L369.4 380.0 L368.8 379.0 L368.9 378.3 L370.0 377.6 L368.9 376.6 L369.3 375.9 L369.6 375.1 L370.3 374.4 L370.8 373.7 L369.9 372.7 L370.1 371.9 L371.0 371.3 L369.8 370.3 L370.3 369.5 L371.4 368.9 L370.4 367.9 L370.7 367.2 L370.7 366.4 L372.6 365.9 L372.6 365.1 L372.6 364.3 L373.1 363.6 L373.0 362.8 L371.7 361.7 L373.6 361.3 L373.9 360.5 L373.9 359.7 L373.9 358.9 L372.6 357.7 L374.0 357.3 L373.2 356.2 L372.9 355.3 L373.3 354.6 L373.2 353.7 L373.6 353.0 L373.9 352.2 L376.3 352.1 L374.4 350.7 L376.6 350.5 L374.8 349.1 L376.8 348.9 L375.0 347.5 L375.9 347.0 L378.2 346.9 L378.5 346.1 L375.9 344.4 L378.5 344.5 L376.7 343.0 L379.0 343.0 L377.2 341.5 L377.8 340.8 L377.5 339.8 L380.7 340.2 L380.6 339.3 L378.4 337.5 L381.0 337.8 L381.9 337.3 L382.3 336.7 L379.9 334.6 L380.0 333.7 L383.1 334.4 L383.4 333.7 L383.6 332.9 L382.4 331.3 L382.7 330.6 L382.4 329.4 L383.5 329.1 L385.8 329.6 L384.4 327.7 L386.7 328.4 L384.8 325.8 L387.5 327.2 L386.6 325.3 L388.6 326.4 L389.0 325.7 L387.8 323.0 L389.9 324.4 L390.6 324.1 L389.8 321.5 L392.3 323.7 L391.2 320.6 L392.2 320.5 L392.8 320.0 L395.1 322.2 L394.2 319.1 L396.0 320.5 L396.7 320.2 L397.4 319.6 L397.4 318.1 L398.8 318.8 L399.7 318.8 L400.5 318.6 L399.7 315.7 L401.8 317.6 L402.3 316.9 L403.4 317.3 L404.1 316.9 L403.2 313.6 L405.0 315.3 L404.8 313.2 L405.5 312.8 L406.2 312.5 L407.9 313.9 L407.5 311.3 L408.4 311.3 L409.3 311.5 L409.9 310.8 L411.7 312.6 L412.2 311.7 L413.2 311.9 L412.8 309.4 L414.4 310.8 L415.0 310.2 L414.9 308.4 L415.2 307.2 L417.2 309.1 L416.7 306.6 L417.3 306.1 L419.2 307.9 L419.8 307.2 L420.8 307.4 L420.5 305.2 L422.4 307.0 L421.9 304.5 L423.7 306.0 L423.4 303.8 L424.8 304.8 L424.7 302.9 L425.0 301.9 L427.1 304.0 L426.6 301.3 L427.6 301.5 L429.1 302.5 L430.1 302.8 L429.4 299.8 L431.4 301.9 L432.0 301.2 L431.7 299.1 L432.0 298.0 L433.1 298.2 L433.9 297.9 L435.6 299.5 L436.0 298.5 L435.7 296.2 L437.7 298.4 L438.3 297.7 L437.9 295.3 L439.7 297.0 L439.6 295.0 L440.3 294.6 L440.8 294.0 L441.7 294.0 L442.3 293.4 L443.9 294.7 L444.7 294.6 L444.3 292.0 L445.9 293.4 L446.9 293.6 L447.7 293.3 L448.3 292.8 L447.7 289.9 L449.5 291.6 L449.1 289.0 L451.1 291.2 L451.6 290.4 L452.6 290.6 L452.1 287.8 L453.9 289.8 L453.6 287.3 L454.1 286.6 L456.2 288.9 L455.7 286.1 L456.7 286.2 L458.1 287.3 L457.7 284.6 L458.7 284.9 L460.4 286.7 L460.2 284.4 L460.7 283.6 L461.5 283.3 L463.4 285.4 L462.7 282.2 L464.7 284.5 L464.5 282.2 L466.0 283.5 L466.8 283.3 L466.6 281.1 L468.5 283.3 L469.0 282.5 L469.8 282.3 L470.6 282.1 L471.0 281.0 L471.8 280.9 L471.7 278.6 L472.6 278.8 L473.3 278.4 L475.0 280.1 L475.7 279.7 L476.1 278.8 L476.3 277.1 L476.7 276.1 L478.5 278.2 L479.2 277.7 L480.1 277.8 L479.7 274.9 L481.7 277.5 L482.0 276.2 L483.0 276.6 L482.7 273.9 L484.3 275.4 L485.1 275.4 L485.1 273.4 L486.4 274.4 L486.5 272.7 L487.0 271.8 L488.9 274.0 L488.7 271.6 L490.2 273.0 L491.1 273.2 L491.7 272.5 L491.6 270.3 L493.4 272.4 L493.0 269.4 L493.7 269.1 L494.5 268.8 L495.4 269.0 L496.8 270.3 L497.7 270.4 L498.4 270.0 L499.3 269.9 L499.8 269.0 L499.7 266.8 L501.2 268.4 L501.3 266.5 L502.1 266.3 L503.4 267.4 L503.5 265.6 L505.0 267.1 L504.9 264.7 L505.5 264.1 L506.3 263.8 L508.0 266.0 L507.8 263.3 L509.5 265.3 L509.4 263.1 L510.1 262.6 L510.8 262.2 L512.6 264.7 L512.2 261.4 L513.3 261.9 L514.7 263.5 L514.8 261.3 L515.3 260.5 L515.9 259.9 L517.7 262.4 L518.3 261.5 L519.1 261.6 L519.8 261.1 L519.8 258.7 L521.5 261.1 L521.2 258.1 L522.1 258.2 L522.8 257.7 L524.3 259.4 L524.2 256.8 L524.9 256.5 L526.0 257.2 L526.6 256.3 L528.2 258.6 L528.8 257.8 L529.5 257.3 L529.8 255.9 L530.3 254.8 L531.7 256.5 L532.6 256.6 L533.5 256.8 L534.0 255.7 L535.0 256.2 L535.7 255.6 L535.7 253.3 L536.4 253.0 L537.2 252.8 L537.8 252.0 L538.6 252.0 L539.5 252.0 L540.4 252.1 L541.7 253.6 L541.6 250.6 L542.4 250.5 L543.8 252.4 L544.7 252.5 L545.5 252.3 L545.6 250.0 L546.9 251.5 L547.7 251.3 L547.8 249.1 L549.4 251.4 L549.3 248.4 L550.9 250.8 L550.8 248.0 L552.2 249.6 L553.0 249.6 L553.8 249.5 L554.0 247.4 L554.7 247.1 L556.1 248.8 L556.3 246.6 L557.5 247.9 L558.6 248.6 L558.3 245.2 L559.2 245.4 L560.7 247.3 L561.5 247.2 L562.4 247.5 L562.3 244.4 L563.0 244.1 L564.6 246.6 L564.5 243.3 L565.3 243.5 L566.7 245.2 L566.9 243.2 L568.5 245.7 L568.6 243.1 L569.8 244.3 L570.1 242.8 L571.3 243.8 L572.1 243.7 L573.1 244.2 L573.0 241.3 L574.6 243.7 L575.3 243.3 L575.4 240.9 L576.1 240.2 L577.5 242.2 L577.7 240.2 L578.5 239.9 L579.2 239.4 L580.7 242.0 L581.4 241.5 L581.5 238.9 L582.4 239.0 L583.1 238.5 L584.6 241.0 L585.2 240.4 L586.1 240.5 L586.2 237.7 L587.0 237.5 L588.4 239.7 L588.6 237.5 L589.8 238.9 L590.2 237.1 L591.4 238.8 L592.3 238.8 L593.0 238.6 L593.3 236.2 L594.5 237.8 L595.2 237.4 L596.1 237.8 L596.3 235.2 L597.6 237.0 L597.9 235.1 L598.5 234.1 L599.9 236.7 L600.0 233.6 L601.0 234.2 L601.8 234.1 L602.5 233.4 L603.2 233.0 L604.5 235.2 L604.8 232.7 L606.2 235.3 L606.3 232.3 L607.1 232.1 L608.0 232.5 L608.7 231.7 L609.6 232.4 L610.3 231.9 L611.1 231.7 L612.0 231.8 L612.7 231.4 L613.4 230.9 L614.6 232.9 L615.0 230.9 L615.8 230.6 L617.0 232.5 L617.3 230.2 L618.6 232.2 L618.9 229.9 L620.2 232.3 L621.0 232.3 L621.9 232.3 L622.0 228.9 L622.9 229.2 L623.7 229.3 L624.8 230.9 L625.7 231.4 L626.0 228.3 L626.7 228.1 L628.1 231.0 L628.8 230.5 L629.7 230.8 L629.9 227.7 L631.2 230.2 L631.5 227.2 L632.8 229.9 L633.6 229.9 L634.4 229.9 L634.7 227.1 L635.4 226.6 L636.6 228.8 L637.0 226.6 L637.7 226.0 L638.5 225.7 L639.9 228.9 L640.7 228.6 L641.5 228.6 L642.2 228.5 L643.0 228.0 L643.7 227.5 L644.2 225.8 L645.4 227.8 L646.2 227.6 L646.4 224.6 L647.7 227.2 L648.0 224.4 L648.8 224.2 L650.1 226.7 L650.4 224.0 L651.6 226.1 L652.0 223.9 L652.8 223.6 L654.0 226.1 L654.7 225.6 L655.5 225.3 L655.9 223.1 L656.8 223.6 L658.0 225.7 L658.7 224.8 L659.6 225.4 L660.3 224.8 L660.6 222.0 L661.5 222.7 L662.3 222.6 L663.0 221.9 L664.3 224.6 L665.0 224.0 L665.4 221.7 L666.2 221.4 L667.1 221.7 L668.2 223.5 L668.6 221.1 L669.4 221.3 L670.2 221.3 L671.4 223.6 L671.8 221.1 L672.5 220.0 L673.3 220.1 L674.5 222.6 L675.4 223.0 L675.8 220.6 L676.9 222.4 L677.6 222.0 L678.1 220.0 L679.3 222.4 L679.8 220.0 L680.4 219.0 L681.5 221.1 L682.4 221.7 L682.9 219.3 L683.6 218.9 L684.8 221.6 L685.2 218.3 L686.3 220.5 L686.8 218.7 L687.9 220.7 L688.8 220.8 L689.4 219.9 L690.4 220.8 L690.7 217.5 L692.0 220.7 L692.4 218.0 L693.4 219.6 L693.9 217.1 L694.7 217.4 L695.6 217.6 L696.6 219.0 L697.2 217.4 L697.9 216.8 L699.1 219.5 L699.8 218.9 L700.3 216.2 L701.4 218.9 L702.2 218.8 L702.7 216.5 L703.8 218.5 L704.3 216.3 L705.0 215.7 L705.9 216.1 L706.9 217.9 L707.5 215.9 L708.2 215.2 L709.0 215.5 L710.1 217.4 L710.7 215.5 L711.5 215.4 L712.4 217.1 L713.0 214.7 L713.8 214.6 L714.7 215.5 L715.7 217.3 L716.3 215.1 L717.1 215.1 L717.8 215.0 L718.7 215.1 L719.4 214.3 L720.2 214.6 L721.0 214.2 L722.1 217.0 L722.8 216.7 L723.6 216.3 L724.4 216.0 L725.2 216.5 L726.0 216.5 L726.6 213.5 L727.4 214.2 L728.4 215.6 L728.9 213.2 L729.8 213.5 L730.7 215.4 L731.6 216.0 L732.2 213.9 L733.0 213.1 L733.8 213.2 L734.8 215.8 L735.4 213.6 L736.4 215.9 L737.2 215.8 L738.0 215.8 L738.8 215.5 L739.4 213.0 L740.1 212.2 L740.9 212.5 L741.9 215.2 L742.5 212.4 L743.4 212.8 L744.1 212.0 L744.9 212.2 L745.9 214.4 L746.7 214.5 L747.4 212.6 L748.2 212.2 L748.9 211.5 L749.8 212.2 L750.6 212.1 L751.5 214.6 L752.2 212.4 L753.0 212.3 L753.7 211.5 L754.7 213.7 L755.3 211.6 L756.3 214.4 L757.1 214.0 L757.8 212.0 L758.7 213.5 L759.3 211.4 L760.3 214.3 L761.1 213.9 L761.7 211.1 L762.5 211.2 L763.5 213.4 L764.1 211.1 L765.0 212.9 L765.7 211.2 L766.7 213.8 L767.3 211.3 L768.3 213.5 L769.1 213.5 L769.8 212.9 L770.5 210.4 L771.4 212.9 L772.1 210.2 L772.9 210.9 L773.7 210.6 L774.7 213.5 L775.5 213.3 L776.2 212.9 L776.9 210.9 L777.8 213.0 L778.6 212.9 L779.3 210.9 L780.1 210.5 L780.9 209.9 L781.7 210.3 L782.5 210.7 L783.3 210.1 L784.2 212.5 L785.0 213.0 L785.7 210.2 L786.5 210.7 L787.4 212.1 L788.2 212.1 L788.9 209.5 L789.7 210.2 L790.6 212.2 L791.4 212.9 L792.1 210.3 L792.9 209.8 L793.7 209.4 L794.5 209.4 L795.3 210.2 L796.1 209.8 L796.9 210.1 L797.8 212.3 L798.5 210.0 L799.3 210.1 L800.1 209.9 L801.0 211.6 L801.7 209.4 L802.6 211.7 L803.4 211.8 L804.2 211.7 L804.9 209.7 L805.8 211.7 L806.6 211.7 L807.3 209.2 L808.2 211.5 L809.0 212.0 L809.7 209.6 L810.5 209.9 L811.4 211.3 L812.1 208.9 L812.9 209.9 L813.8 211.5 L814.5 208.9 L815.3 209.8 L816.1 209.6 L817.0 211.4 L817.7 208.9 L818.5 209.7 L819.3 208.7 L820.1 209.7 L821.0 211.7 L821.7 208.9 L822.6 211.6 L823.3 209.2 L824.1 209.3 L825.0 211.3 L825.8 212.1 L826.5 209.3 L827.4 211.7 L828.1 209.0 L829.0 212.0 L829.7 209.4 L830.6 211.1 L831.3 208.6 L832.2 211.5 L832.9 208.9 L833.7 208.9 L834.5 208.7 L835.4 211.8 L836.2 211.7 L837.0 210.9 L837.7 208.7 L838.5 209.6 L839.3 208.6 L840.2 210.8 L840.9 208.7 L841.7 208.9 L842.6 210.8 L843.4 211.7 L844.1 208.9 L844.9 209.4 L845.7 208.6 L846.6 211.5 L847.4 211.3 L848.1 208.5 L849.0 211.0 L849.8 211.0 L850.5 208.5 L851.4 211.0 L852.2 211.7 L853.0 211.0 L853.8 211.7 L854.6 209.1 L855.4 211.5 L856.2 208.9 L857.0 211.2 L857.8 209.0 L858.6 208.8 L859.4 209.4 L860.2 208.5 L861.0 208.6 L861.8 209.3 L862.6 209.3 L863.4 209.1 L864.2 211.6 L865.0 211.4 L865.8 211.1 L866.5 211.6 L867.4 209.3 L868.2 208.7 L869.0 208.7 L869.8 209.4 L870.6 208.9 L871.4 208.9 L872.2 208.5 L872.9 211.1 L873.7 211.3 L874.6 208.5 L875.3 210.9 L876.2 208.6 L876.9 211.2 L877.8 209.2 L878.5 211.9 L879.4 209.2 L880.1 211.1 L880.9 211.1 L881.7 211.6 L882.6 208.9 L883.4 209.3 L884.1 211.4 L884.9 211.2 L885.8 208.7 L886.6 209.2 L887.4 209.0 L888.1 211.9 L889.0 209.4 L889.8 208.6 L890.5 211.5 L891.3 211.6 L892.2 209.4 L893.0 208.9 L893.7 211.8 L894.5 211.6 L895.4 208.8 L896.1 211.5 L897.0 209.7 L897.7 212.0 L898.5 211.7 L899.3 211.7 L900.2 209.1 L900.9 211.1 L901.7 211.4 L902.5 211.2 L903.4 209.1 L904.1 212.1 L904.9 211.9 L905.7 212.1 L906.6 209.6 L907.4 209.9 L908.1 211.7 L908.9 211.4 L909.7 211.6 L910.5 211.5 L911.3 211.5 L912.1 212.1 L912.9 212.0 L913.7 212.3 L914.5 212.5 L915.4 209.9 L916.1 212.5 L916.9 212.3 L917.8 209.6 L918.5 212.6 L919.3 212.1 L920.2 210.3 L920.9 211.7 L921.7 211.9 L922.5 212.4 L923.4 209.8 L924.2 209.7 L924.9 211.7 L925.7 212.0 L926.5 212.4 L927.3 212.5 L928.2 210.1 L928.9 212.1 L929.8 210.3 L930.6 209.8 L931.3 212.7 L932.2 210.5 L932.9 213.1 L933.7 212.1 L934.6 210.6 L935.4 210.4 L936.2 210.0 L936.9 212.8 L937.7 213.0 L938.4 213.3 L939.3 212.7 L940.2 210.9 L940.9 212.8 L941.7 213.1 L942.5 212.6 L943.4 211.2 L944.2 210.5 L944.8 213.7 L945.6 213.7 L946.6 211.0 L947.4 211.0 L948.0 213.7 L949.0 210.5 L949.7 213.2 L950.6 210.6 L951.4 210.9 L952.1 213.2 L953.0 211.3 L953.7 213.1 L954.4 213.6 L955.4 211.4 L956.0 214.1 L957.0 211.7 L957.6 214.1 L958.4 214.1 L959.4 211.6 L960.0 214.2 L960.8 214.1 L961.8 211.7 L962.4 214.2 L963.2 214.7 L964.1 212.4 L964.8 214.8 L965.6 214.7 L966.4 214.0 L967.4 212.0 L968.1 212.4 L969.0 212.3 L969.6 214.8 L970.3 215.1 L971.4 212.5 L972.2 212.4 L972.8 214.7 L973.7 213.2 L974.3 215.3 L975.1 215.8 L976.0 214.8 L976.7 215.8 L977.5 215.3 L978.3 215.7 L979.3 213.5 L979.9 215.9 L980.9 213.4 L981.5 216.1 L982.3 215.6 L983.1 215.8 L984.1 213.5 L984.7 215.7 L985.4 216.7 L986.3 216.4 L987.0 216.9 L987.9 216.1 L988.9 213.9 L989.7 214.6 L990.3 216.2 L991.0 216.7 L992.1 214.5 L992.9 214.5 L993.4 217.0 L994.4 215.1 L995.0 217.4 L996.0 215.2 L996.8 215.3 L997.7 214.9 L998.1 217.8 L998.9 218.0 L1000.1 215.0 L1000.5 218.3 L1001.6 216.0 L1002.5 215.2 L1002.9 218.3 L1004.0 215.9 L1004.5 218.2 L1005.6 216.3 L1006.4 216.3 L1007.1 217.0 L1007.6 219.1 L1008.5 218.8 L1009.6 216.6 L1010.4 216.6 L1010.8 219.5 L1011.7 219.0 L1012.4 219.7 L1013.5 217.5 L1013.9 220.1 L1015.1 217.4 L1015.9 217.8 L1016.7 217.6 L1017.4 218.4 L1018.3 217.8 L1019.1 217.7 L1019.9 218.0 L1020.7 218.2 L1021.0 220.9 L1021.7 221.6 L1022.6 221.3 L1023.4 221.1 L1024.2 221.6 L1024.9 222.1 L1026.2 219.3 L1027.0 219.3 L1027.6 220.3 L1028.0 222.8 L1029.4 219.6 L1029.7 222.6 L1030.4 223.2 L1031.6 220.9 L1032.0 222.9 L1032.9 222.8 L1033.5 223.5 L1034.9 220.7 L1035.7 220.8 L1036.0 223.3 L1036.6 224.3 L1037.5 224.2 L1038.7 222.3 L1039.0 224.9 L1040.3 222.3 L1041.0 223.0 L1041.9 222.8 L1042.1 225.3 L1042.9 225.7 L1044.2 223.5 L1045.0 223.2 L1045.7 224.0 L1045.9 226.4 L1047.2 224.4 L1048.3 223.5 L1048.4 226.6 L1049.8 224.1 L1049.9 227.1 L1051.3 224.8 L1051.5 227.2 L1052.3 227.1 L1053.5 225.6 L1054.3 226.0 L1054.6 227.8 L1055.3 228.4 L1056.7 226.1 L1056.9 228.7 L1057.6 228.9 L1058.3 229.5 L1059.1 229.6 L1060.5 227.4 L1061.4 227.3 L1062.3 227.1 L1062.3 229.8 L1063.7 227.8 L1064.5 228.1 L1065.3 228.3 L1065.3 231.0 L1066.8 228.7 L1067.5 229.3 L1067.5 232.1 L1068.4 231.9 L1069.2 231.9 L1070.6 229.9 L1070.6 232.8 L1072.3 230.1 L1072.1 233.2 L1073.7 231.0 L1074.4 231.4 L1074.5 233.7 L1075.3 233.8 L1076.8 231.9 L1076.6 234.9 L1078.3 232.4 L1078.3 234.7 L1079.2 234.8 L1079.6 235.9 L1080.6 235.6 L1081.2 236.2 L1083.0 233.6 L1082.6 237.0 L1084.3 234.6 L1084.1 237.5 L1085.8 235.3 L1085.6 238.1 L1087.4 235.5 L1087.4 237.8 L1087.8 238.8 L1089.4 236.9 L1089.2 239.6 L1090.4 238.9 L1090.8 239.9 L1092.4 238.1 L1092.4 240.3 L1094.0 238.5 L1093.7 241.2 L1095.4 239.2 L1096.3 239.0 L1095.9 242.2 L1097.5 240.3 L1098.6 240.0 L1098.4 242.2 L1098.9 243.3 L1099.5 243.7 L1100.6 243.3 L1101.0 244.3 L1102.8 242.2 L1102.7 244.4 L1104.5 242.3 L1105.0 243.2 L1104.9 245.3 L1105.6 245.8 L1107.4 243.7 L1108.2 244.0 L1108.6 244.9 L1108.3 247.3 L1110.1 245.5 L1111.0 245.6 L1111.3 246.8 L1111.0 249.0 L1111.6 249.6 L1112.6 249.4 L1113.3 249.8 L1115.3 247.6 L1115.7 248.6 L1116.4 249.0 L1115.9 251.7 L1117.9 249.6 L1117.4 252.2 L1118.3 252.2 L1118.7 253.0 L1119.6 253.1 L1121.6 251.3 L1120.9 254.0 L1123.0 251.9 L1122.3 254.9 L1124.4 252.8 L1124.8 253.6 L1124.2 256.2 L1125.2 256.2 L1127.0 254.7 L1126.3 257.4 L1128.1 255.9 L1129.0 256.0 L1128.2 258.9 L1129.3 258.6 L1129.8 259.3 L1130.2 260.1 L1132.3 258.2 L1132.1 260.1 L1133.7 259.0 L1133.1 261.4 L1135.3 259.5 L1135.8 260.2 L1134.9 263.0 L1137.0 261.3 L1138.0 261.3 L1138.6 261.8 L1138.0 264.1 L1138.3 265.1 L1140.7 263.1 L1141.2 263.8 L1142.0 263.9 L1142.2 265.0 L1141.6 267.3 L1143.7 265.7 L1144.2 266.4 L1145.2 266.4 L1145.6 267.2 L1146.4 267.4 L1145.4 270.2 L1147.8 268.3 L1147.2 270.5 L1148.6 269.8 L1149.8 269.6 L1150.3 270.2 L1149.7 272.4 L1150.4 272.9 L1152.2 271.8 L1152.6 272.5 L1151.8 275.0 L1152.9 274.8 L1153.0 276.0 L1153.8 276.2 L1154.6 276.6 L1156.8 275.0 L1155.8 277.7 L1157.8 276.3 L1157.2 278.4 L1158.9 277.4 L1159.6 277.9 L1160.8 277.6 L1159.5 280.7 L1160.2 281.1 L1161.3 281.0 L1163.1 279.9 L1162.1 282.5 L1164.3 281.0 L1164.9 281.6 L1164.0 284.0 L1165.1 283.9 L1166.8 283.0 L1166.2 285.1 L1166.7 285.7 L1167.2 286.3 L1169.3 285.0 L1170.2 285.1 L1170.9 285.6 L1169.6 288.5 L1170.2 289.0 L1172.5 287.5 L1172.9 288.2 L1172.0 290.6 L1173.1 290.5 L1173.4 291.4 L1174.0 291.9 L1175.0 292.0 L1175.5 292.6 L1175.8 293.5 L1176.3 294.2 L1177.2 294.3 L1179.3 293.0 L1178.2 295.6 L1180.6 294.0 L1179.6 296.4 L1181.8 295.0 L1182.5 295.4 L1183.2 295.9 L1182.0 298.5 L1184.3 297.0 L1183.5 299.2 L1184.1 299.7 L1184.2 300.8 L1185.3 300.8 L1185.7 301.5 L1186.0 302.4 L1187.2 302.3 L1187.4 303.3 L1188.3 303.4 L1188.6 304.3 L1191.1 302.7 L1189.7 305.5 L1190.3 306.0 L1192.7 304.5 L1193.3 305.0 L1193.6 305.8 L1193.2 307.5 L1195.3 306.4 L1194.4 308.5 L1194.4 309.8 L1195.5 309.7 L1197.6 308.6 L1196.5 311.0 L1198.7 309.7 L1199.5 310.1 L1199.7 311.1 L1200.7 311.1 L1201.2 311.7 L1200.0 314.3 L1200.6 314.8 L1202.7 313.6 L1203.8 313.7 L1202.5 316.3 L1203.2 316.7 L1205.3 315.6 L1203.9 318.3 L1204.5 318.9 L1205.3 319.1 L1206.1 319.5 L1206.4 320.3 L1207.1 320.7 L1209.6 319.2 L1208.1 322.0 L1210.7 320.4 L1209.2 323.2 L1211.8 321.5 L1212.7 321.8 L1213.0 322.6 L1213.3 323.5 L1212.4 325.6 L1212.9 326.3 L1215.2 324.9 L1214.5 326.9 L1215.0 327.6 L1217.3 326.2 L1217.4 327.3 L1217.0 328.9 L1216.9 330.2 L1217.4 330.8 L1220.3 328.9 L1218.8 331.7 L1219.4 332.2 L1221.8 330.8 L1222.5 331.2 L1221.2 333.8 L1223.4 332.6 L1222.8 334.5 L1224.9 333.3 L1223.6 335.9 L1226.3 334.2 L1226.4 335.2 L1225.5 337.3 L1227.4 336.5 L1227.0 338.1 L1227.5 338.7 L1229.5 337.8 L1230.4 338.0 L1229.3 340.3 L1230.9 339.8 L1230.0 341.9 L1230.9 342.1 L1232.6 341.5 L1231.6 343.7 L1233.9 342.5 L1234.7 342.8 L1233.5 345.2 L1234.1 345.8 L1236.8 344.0 L1235.4 346.7 L1236.3 346.9 L1237.9 346.3 L1237.1 348.4 L1239.4 347.1 L1238.6 349.2 L1239.2 349.6 L1239.7 350.3 L1240.3 350.8 L1242.2 349.9 L1241.4 352.0 L1241.7 352.9 L1244.0 351.5 L1244.9 351.7 L1245.2 352.6 L1245.7 353.3 L1246.7 353.3 L1245.2 356.1 L1245.7 356.8 L1246.7 356.8 L1246.7 358.0 L1247.5 358.3 L1249.8 357.1 L1249.0 359.1 L1250.7 358.4 L1250.3 360.0 L1251.9 359.5 L1252.6 359.9 L1251.6 362.1 L1252.3 362.5 L1254.1 361.8 L1253.7 363.4 L1254.3 363.9 L1254.9 364.5 L1256.6 363.9 L1255.5 366.1 L1257.6 365.1 L1256.5 367.4 L1256.9 368.1 L1259.7 366.5 L1259.8 367.5 L1260.4 368.0 L1259.6 369.9 L1259.8 370.8 L1262.8 369.0 L1263.1 369.8 L1263.8 370.3 L1263.7 371.5 L1262.9 373.4 L1265.1 372.3 L1265.5 373.1 L1266.3 373.4 L1266.8 374.0 L1267.7 374.3 L1267.5 375.6 L1266.9 377.3 L1268.7 376.7 L1268.0 378.4 L1268.5 379.0 L1269.0 379.7 L1271.5 378.4 L1271.5 379.5 L1272.2 380.0 L1272.5 380.8 L1273.0 381.4 L1273.6 382.0 L1274.4 382.3 L1274.7 383.1 L1275.2 383.7 L1275.9 384.2 L1276.0 385.1 L1277.3 385.1 L1277.1 386.3 L1277.9 386.7 L1276.3 389.1 L1277.5 389.1 L1278.1 389.6 L1280.1 389.1 L1278.7 391.3 L1279.4 391.7 L1280.0 392.2 L1282.3 391.4 L1282.7 392.1 L1283.0 392.9 L1283.7 393.3 L1284.4 393.8 L1284.6 394.6 L1283.4 396.7 L1283.7 397.4 L1286.1 396.5 L1285.1 398.3 L1284.9 399.5 L1286.1 399.6 L1286.0 400.7 L1288.5 399.7 L1289.3 400.1 L1289.6 400.9 L1290.3 401.4 L1290.5 402.3 L1290.8 403.0 L1291.7 403.3 L1292.3 403.9 L1290.5 406.2 L1290.6 407.1 L1293.6 405.9 L1294.3 406.4 L1294.1 407.6 L1292.5 409.7 L1293.1 410.2 L1296.2 409.0 L1294.5 411.2 L1294.7 412.0 L1297.5 411.0 L1297.8 411.8 L1296.4 413.8 L1296.8 414.4 L1299.5 413.6 L1299.7 414.4 L1299.6 415.5 L1298.7 417.0 L1298.9 417.9 L1301.1 417.3 L1301.8 417.8 L1302.4 418.3 L1301.2 420.2 L1303.0 419.9 L1301.4 422.0 L1303.7 421.3 L1304.2 421.9 L1305.4 422.1 L1303.4 424.5 L1304.1 425.0 L1304.2 425.9 L1305.2 426.1 L1305.9 426.6 L1308.1 426.1 L1306.2 428.4 L1307.0 428.8 L1307.2 429.6 L1309.3 429.2 L1308.4 430.8 L1310.7 430.1 L1311.4 430.6 L1309.7 432.7 L1311.6 432.4 L1310.9 433.9 L1311.1 434.7 L1311.3 435.6 L1311.7 436.3 L1312.2 436.9 L1312.4 437.7 L1315.4 436.6 L1315.8 437.3 L1314.1 439.5 L1314.5 440.2 L1314.9 440.9 L1317.9 439.7 L1316.3 441.8 L1318.5 441.2 L1317.3 443.1 L1317.7 443.8 L1317.5 444.9 L1318.4 445.2 L1318.7 446.0 L1319.5 446.4 L1321.6 445.9 L1321.6 446.9 L1320.5 448.6 L1323.4 447.6 L1321.4 450.0 L1321.8 450.6 L1324.4 449.8 L1323.1 451.7 L1325.6 451.0 L1323.9 453.1 L1326.1 452.6 L1324.7 454.5 L1324.8 455.4 L1327.8 454.3 L1328.2 455.0 L1328.2 456.0 L1329.3 456.2 L1329.4 457.1 L1327.8 459.1 L1330.4 458.3 L1331.1 458.8 L1329.7 460.7 L1330.1 461.4 L1332.0 461.1 L1331.0 462.8 L1333.2 462.2 L1333.2 463.2 L1332.4 464.7 L1334.5 464.3 L1334.5 465.2 L1335.6 465.4 L1334.0 467.5 L1336.1 467.1 L1336.8 467.5 L1337.6 468.0 L1335.8 470.1 L1337.8 469.8 L1338.4 470.3 L1336.7 472.4 L1339.8 471.3 L1338.2 473.3 L1338.8 473.9 L1338.9 474.8 L1341.0 474.4 L1339.4 476.4 L1339.9 477.0 L1340.3 477.7 L1341.1 478.1 L1341.5 478.8 L1344.2 478.0 L1343.8 479.2 L1344.3 479.9 L1343.6 481.2 L1345.9 480.7 L1346.0 481.6 L1344.3 483.7 L1347.1 482.8 L1345.1 485.1 L1345.8 485.6 L1348.1 485.0 L1348.3 485.8 L1347.2 487.5 L1347.8 488.0 L1350.4 487.4 L1348.1 489.7 L1349.0 490.1 L1351.3 489.6 L1349.7 491.6 L1350.0 492.3 L1350.1 493.2 L1351.2 493.5 L1353.5 493.0 L1351.8 495.0 L1354.7 494.1 L1352.9 496.2 L1355.2 495.7 L1353.9 497.4 L1353.9 498.4 L1353.9 499.3 L1357.0 498.3 L1355.6 500.1 L1358.1 499.5 L1356.0 501.8 L1358.5 501.2 L1356.4 503.4 L1359.4 502.5 L1359.4 503.4 L1358.2 505.1 L1360.8 504.5 L1359.1 506.5 L1361.1 506.2 L1359.9 507.8 L1361.8 507.6 L1362.2 508.3 L1362.7 508.9 L1361.4 510.6 L1362.0 511.2 L1364.0 511.0 L1364.9 511.3 L1363.0 513.4 L1363.2 514.2 L1364.2 514.5 L1366.4 514.2 L1364.9 516.0 L1365.1 516.8 L1367.5 516.3 L1368.0 517.0 L1366.2 518.9 L1369.1 518.2 L1366.9 520.3 L1369.4 519.9 L1370.2 520.3 L1370.0 521.4 L1371.0 521.7 L1371.2 522.5 L1371.3 523.4 L1372.1 523.8 L1370.6 525.6 L1372.2 525.6 L1371.2 527.1 L1373.5 526.8 L1371.7 528.7 L1372.3 529.2 L1372.5 530.1 L1375.5 529.4 L1372.8 531.7 L1376.0 530.9 L1375.9 531.9 L1374.4 533.5 L1374.4 534.4 L1377.6 533.7 L1378.0 534.4 L1375.8 536.3 L1376.2 537.0 L1378.4 536.9 L1379.2 537.4 L1379.7 538.1 L1377.3 540.0 L1377.8 540.7 L1377.9 541.6 L1380.5 541.3 L1378.6 543.0 L1379.3 543.5 L1379.7 544.2 L1381.7 544.4 L1381.7 545.2 L1381.9 546.0 L1380.0 547.4 L1382.7 547.5 L1381.1 548.7 L1383.2 549.0 L1382.7 550.0 L1383.0 550.7 L1383.6 551.4 L1381.7 552.6 L1383.8 553.0 L1383.6 553.9 L1383.9 554.6 L1383.0 555.6 L1383.2 556.4 L1384.4 557.0 L1384.0 557.9 L1383.7 558.8 L1384.2 559.5 L1384.3 560.3 L1384.2 561.1 L1384.1 561.9 L1384.1 562.7 L1384.1 563.5 L1384.1 564.3 L1384.1 565.1 L1384.1 565.9 L1384.1 566.7 L1384.1 567.5 L1384.1 568.3 L1384.1 569.1 L1384.2 569.9 L1384.1 570.7 L1384.1 571.5 L1384.2 572.3 L1384.1 573.1 L1384.1 573.9 L1384.2 574.7 L1384.2 575.5 L1384.2 576.3 L1384.2 577.1 L1384.2 577.9 L1384.2 578.7 L1384.2 579.5 L1384.2 580.3 L1384.2 581.1 L1384.2 581.9 L1384.2 582.7 L1384.2 583.5 L1384.2 584.3 L1384.2 585.1 L1384.2 585.9 L1384.2 586.7 L1384.2 587.5 L1384.2 588.3 L1384.2 589.1 L1384.2 589.9 L1384.2 590.7 L1384.2 591.5 L1384.2 592.3 L1384.2 593.1 L1384.2 593.9 L1384.2 594.7 L1384.2 595.5 L1384.2 596.3 L1384.2 597.1 L1384.2 597.9 L1384.2 598.7 L1384.2 599.5 L1384.2 600.3 L1384.2 601.1 L1384.2 601.9 L1384.2 602.7 L1384.2 603.5 L1384.2 604.3 L1384.2 605.1 L1384.2 605.9 L1384.2 606.7 L1384.2 607.5 L1384.2 608.3 L1384.2 609.1 L1384.2 609.9 L1384.2 610.7 L1384.2 611.5 L1384.2 612.3 L1384.2 613.1 L1384.2 613.9 L1384.2 614.7 L1384.2 615.5 L1384.2 616.3 L1384.2 617.1 L1384.2 617.9 L1384.2 618.7 L1384.2 619.5 L1384.2 620.3 L1384.2 621.1 L1384.2 621.9 L1384.2 622.7 L1384.2 623.5 L1384.2 624.3 L1384.2 625.1 L1384.2 625.9 L1384.2 626.7 L1384.2 627.5 L1384.2 628.3 L1384.2 629.1 L1384.2 629.9 L1384.2 630.7 L1384.2 631.5 L1384.2 632.0" stroke="#FD3F3F" stroke-width="9.7"/>
<path d="M281.0 1255.5 L280.8 1254.7 L281.0 1253.9 L280.9 1253.1 L281.5 1252.3 L281.5 1251.5 L281.3 1250.7 L281.7 1249.9 L281.7 1249.1 L281.4 1248.3 L281.9 1247.5 L281.8 1246.7 L281.9 1245.9 L281.7 1245.1 L281.7 1244.3 L281.8 1243.5 L281.9 1242.7 L281.9 1241.9 L281.9 1241.1 L282.1 1240.3 L282.0 1239.5 L282.4 1238.8 L282.6 1238.0 L282.6 1237.2 L282.6 1236.4 L282.5 1235.6 L282.4 1234.7 L282.9 1234.0 L282.5 1233.1 L282.9 1232.4 L282.6 1231.6 L283.0 1230.8 L283.1 1230.0 L283.3 1229.2 L283.0 1228.4 L283.3 1227.6 L283.4 1226.8 L283.5 1226.0 L283.6 1225.2 L283.6 1224.4 L283.7 1223.6 L283.7 1222.8 L283.4 1222.0 L283.9 1221.2 L284.0 1220.4 L283.7 1219.6 L284.1 1218.8 L284.2 1218.0 L283.9 1217.2 L284.3 1216.4 L284.4 1215.6 L284.0 1214.8 L284.4 1214.0 L284.1 1213.2 L284.2 1212.4 L284.3 1211.6 L284.6 1210.8 L284.3 1210.0 L284.5 1209.2 L284.9 1208.5 L284.9 1207.7 L285.1 1206.9 L285.0 1206.1 L285.1 1205.3 L284.8 1204.4 L284.9 1203.6 L285.4 1202.9 L285.0 1202.0 L285.2 1201.3 L285.5 1200.5 L285.6 1199.7 L285.7 1198.9 L285.4 1198.1 L285.4 1197.3 L285.8 1196.5 L285.6 1195.7 L285.6 1194.9 L285.6 1194.1 L285.8 1193.3 L285.8 1192.5 L285.9 1191.7 L286.4 1190.9 L286.0 1190.1 L286.4 1189.3 L286.5 1188.5 L286.3 1187.7 L286.3 1186.9 L286.7 1186.1 L286.7 1185.3 L286.4 1184.5 L286.5 1183.7 L287.0 1182.9 L287.1 1182.1 L287.1 1181.3 L287.2 1180.6 L286.9 1179.7 L287.4 1179.0 L287.4 1178.2 L287.1 1177.3 L287.4 1176.6 L287.2 1175.7 L287.3 1174.9 L287.7 1174.2 L287.4 1173.3 L287.9 1172.6 L287.8 1171.8 L287.6 1171.0 L287.7 1170.2 L288.0 1169.4 L287.8 1168.6 L287.8 1167.8 L288.0 1167.0 L288.4 1166.2 L288.4 1165.4 L288.6 1164.6 L288.2 1163.8 L288.3 1163.0 L288.7 1162.2 L288.7 1161.4 L288.8 1160.6 L288.5 1159.8 L288.6 1159.0 L288.6 1158.2 L289.2 1157.4 L288.7 1156.6 L288.9 1155.8 L289.4 1155.0 L289.1 1154.2 L289.5 1153.4 L289.5 1152.6 L289.1 1151.8 L289.4 1151.0 L289.3 1150.2 L289.7 1149.5 L289.5 1148.6 L289.9 1147.9 L289.9 1147.1 L289.6 1146.2 L290.1 1145.5 L290.1 1144.7 L290.3 1143.9 L290.3 1143.1 L290.1 1142.3 L290.0 1141.5 L290.1 1140.7 L290.1 1139.9 L290.2 1139.1 L290.7 1138.3 L290.8 1137.5 L290.9 1136.7 L290.9 1135.9 L290.6 1135.1 L291.0 1134.3 L291.1 1133.5 L290.8 1132.7 L291.3 1131.9 L291.0 1131.1 L291.0 1130.3 L291.2 1129.5 L291.1 1128.7 L291.6 1127.9 L291.8 1127.1 L291.3 1126.3 L291.4 1125.5 L292.0 1124.8 L292.0 1124.0 L291.6 1123.1 L292.1 1122.4 L291.7 1121.5 L291.9 1120.7 L292.4 1120.0 L292.0 1119.1 L292.4 1118.4 L292.1 1117.5 L292.2 1116.7 L292.7 1116.0 L292.2 1115.1 L292.3 1114.3 L292.5 1113.6 L292.9 1112.8 L292.7 1112.0 L293.1 1111.2 L293.1 1110.4 L293.3 1109.6 L293.2 1108.8 L292.9 1108.0 L293.0 1107.2 L293.5 1106.4 L293.1 1105.6 L293.7 1104.8 L293.6 1104.0 L293.3 1103.2 L293.4 1102.4 L293.9 1101.6 L293.5 1100.8 L293.7 1100.0 L294.1 1099.2 L294.2 1098.4 L294.2 1097.6 L294.2 1096.8 L294.5 1096.1 L294.5 1095.3 L294.5 1094.5 L294.6 1093.7 L294.7 1092.9 L294.8 1092.1 L294.8 1091.3 L294.9 1090.5 L294.5 1089.6 L294.7 1088.9 L294.7 1088.1 L295.2 1087.3 L295.3 1086.5 L295.4 1085.7 L295.3 1084.9 L295.5 1084.1 L295.1 1083.3 L295.1 1082.5 L295.7 1081.7 L295.7 1080.9 L295.8 1080.1 L295.5 1079.3 L296.0 1078.5 L295.6 1077.7 L296.0 1076.9 L295.7 1076.1 L295.9 1075.3 L295.9 1074.5 L295.9 1073.7 L296.4 1072.9 L296.2 1072.1 L296.2 1071.3 L296.3 1070.5 L296.3 1069.7 L296.8 1069.0 L296.8 1068.2 L296.8 1067.4 L296.6 1066.5 L297.1 1065.8 L296.6 1064.9 L296.7 1064.1 L296.9 1063.4 L297.4 1062.6 L296.9 1061.7 L297.6 1061.0 L297.6 1060.2 L297.3 1059.4 L297.7 1058.6 L297.4 1057.8 L297.5 1057.0 L297.5 1056.2 L297.9 1055.4 L298.1 1054.6 L297.7 1053.8 L298.3 1053.0 L297.9 1052.2 L297.9 1051.4 L297.9 1050.6 L298.5 1049.8 L298.2 1049.0 L298.2 1048.2 L298.3 1047.4 L298.4 1046.6 L298.5 1045.8 L298.9 1045.1 L298.5 1044.2 L298.7 1043.4 L298.6 1042.6 L298.9 1041.8 L298.8 1041.0 L299.3 1040.3 L299.4 1039.5 L299.1 1038.7 L299.2 1037.9 L299.3 1037.1 L299.8 1036.3 L299.8 1035.5 L299.9 1034.7 L299.5 1033.9 L299.5 1033.1 L299.7 1032.3 L299.6 1031.5 L300.2 1030.7 L300.2 1029.9 L300.3 1029.1 L300.1 1028.3 L300.2 1027.5 L300.6 1026.7 L300.3 1025.9 L300.2 1025.1 L300.7 1024.3 L300.4 1023.5 L300.6 1022.7 L300.6 1021.9 L300.7 1021.1 L301.1 1020.4 L301.2 1019.6 L301.4 1018.8 L301.0 1017.9 L301.4 1017.2 L301.4 1016.4 L301.1 1015.5 L301.3 1014.8 L301.3 1013.9 L301.9 1013.2 L301.5 1012.4 L301.9 1011.6 L301.6 1010.8 L302.2 1010.0 L301.8 1009.2 L302.3 1008.4 L302.0 1007.6 L302.3 1006.8 L302.5 1006.0 L302.6 1005.2 L302.2 1004.4 L302.2 1003.6 L302.4 1002.8 L302.9 1002.0 L302.9 1001.2 L303.1 1000.5 L302.6 999.6 L303.1 998.9 L302.7 998.0 L302.8 997.2 L303.3 996.5 L303.4 995.7 L303.1 994.8 L303.6 994.1 L303.1 993.2 L303.7 992.5 L303.3 991.6 L303.5 990.9 L303.8 990.1 L303.7 989.3 L303.8 988.5 L303.8 987.7 L304.2 986.9 L303.9 986.1 L304.4 985.3 L304.5 984.5 L304.0 983.7 L304.7 982.9 L304.8 982.1 L304.8 981.3 L304.8 980.5 L304.5 979.7 L304.6 978.9 L305.0 978.1 L304.6 977.3 L304.8 976.5 L304.8 975.7 L305.3 975.0 L305.3 974.2 L305.6 973.4 L305.1 972.5 L305.8 971.8 L305.3 970.9 L305.3 970.1 L305.5 969.3 L305.9 968.6 L306.0 967.8 L305.6 967.0 L306.3 966.2 L306.3 965.4 L306.4 964.6 L306.4 963.8 L306.5 963.0 L306.1 962.2 L306.1 961.4 L306.3 960.6 L306.5 959.8 L306.9 959.0 L306.5 958.2 L307.1 957.4 L306.6 956.6 L306.7 955.8 L307.3 955.1 L307.4 954.3 L306.9 953.4 L307.5 952.7 L307.0 951.8 L307.1 951.0 L307.6 950.3 L307.4 949.4 L307.3 948.6 L308.0 947.9 L307.7 947.1 L307.6 946.2 L308.1 945.5 L307.8 944.7 L307.9 943.9 L308.4 943.1 L308.1 942.3 L308.5 941.5 L308.2 940.7 L308.4 939.9 L308.3 939.1 L308.5 938.3 L309.0 937.5 L308.5 936.7 L309.2 936.0 L309.3 935.2 L309.4 934.4 L309.3 933.5 L308.9 932.7 L309.1 931.9 L309.1 931.1 L309.2 930.3 L309.7 929.6 L309.4 928.7 L309.8 928.0 L310.1 927.2 L310.1 926.4 L309.8 925.6 L309.7 924.7 L310.3 924.0 L309.9 923.2 L310.5 922.4 L310.1 921.6 L310.2 920.8 L310.3 920.0 L310.7 919.2 L310.9 918.4 L310.6 917.6 L310.6 916.8 L311.2 916.0 L310.6 915.2 L311.3 914.5 L311.0 913.6 L310.9 912.8 L311.4 912.1 L311.7 911.3 L311.7 910.5 L311.8 909.7 L311.9 908.9 L311.9 908.1 L311.6 907.2 L311.5 906.4 L312.1 905.7 L312.2 904.9 L312.3 904.1 L312.0 903.3 L312.0 902.5 L312.2 901.7 L312.6 900.9 L312.8 900.1 L312.9 899.3 L313.0 898.5 L312.4 897.7 L313.1 896.9 L313.1 896.1 L313.3 895.4 L313.2 894.5 L313.3 893.7 L313.0 892.9 L313.5 892.2 L313.5 891.4 L313.2 890.5 L313.7 889.8 L313.9 889.0 L313.4 888.1 L314.0 887.4 L314.1 886.6 L313.6 885.7 L314.2 885.0 L313.8 884.2 L314.3 883.4 L314.0 882.6 L314.5 881.8 L314.1 881.0 L314.8 880.2 L314.4 879.4 L314.5 878.6 L314.5 877.8 L314.6 877.0 L315.1 876.2 L315.1 875.4 L315.3 874.7 L314.9 873.8 L315.4 873.1 L315.4 872.2 L315.6 871.5 L315.3 870.6 L315.2 869.8 L315.8 869.1 L315.9 868.3 L316.0 867.5 L316.2 866.7 L316.1 865.9 L316.2 865.1 L316.4 864.3 L315.8 863.4 L316.0 862.7 L316.5 861.9 L316.7 861.1 L316.3 860.3 L316.7 859.5 L316.4 858.7 L316.5 857.9 L317.1 857.1 L316.6 856.3 L317.3 855.6 L316.8 854.7 L316.9 853.9 L316.9 853.1 L317.5 852.4 L317.7 851.6 L317.7 850.8 L317.2 849.9 L317.9 849.2 L317.8 848.4 L318.1 847.6 L317.6 846.7 L317.8 846.0 L317.9 845.2 L317.9 844.4 L318.0 843.6 L318.4 842.8 L318.6 842.0 L318.7 841.2 L318.2 840.4 L318.8 839.6 L318.9 838.8 L318.9 838.0 L319.0 837.2 L318.6 836.4 L318.7 835.6 L319.3 834.9 L318.9 834.0 L318.9 833.2 L319.0 832.4 L319.5 831.7 L319.7 830.9 L319.8 830.1 L319.9 829.3 L320.0 828.5 L319.5 827.6 L320.1 826.9 L320.1 826.1 L320.3 825.3 L320.3 824.5 L320.5 823.7 L320.6 822.9 L320.5 822.1 L320.6 821.3 L320.7 820.5 L320.3 819.7 L320.8 818.9 L320.5 818.1 L320.6 817.3 L321.2 816.6 L321.2 815.7 L320.9 814.9 L321.0 814.1 L321.0 813.3 L321.0 812.5 L321.6 811.8 L321.2 810.9 L321.2 810.1 L321.9 809.4 L321.9 808.6 L321.5 807.7 L321.6 806.9 L322.2 806.2 L321.9 805.4 L321.8 804.6 L322.0 803.8 L322.0 803.0 L322.5 802.2 L322.2 801.4 L322.8 800.6 L322.8 799.8 L322.5 799.0 L322.4 798.2 L322.5 797.4 L322.8 796.6 L322.8 795.8 L322.9 795.0 L323.4 794.3 L323.5 793.5 L323.6 792.7 L323.6 791.9 L323.3 791.0 L323.3 790.2 L323.9 789.5 L323.9 788.7 L323.7 787.9 L324.1 787.1 L323.7 786.2 L324.4 785.5 L324.0 784.7 L324.0 783.9 L324.2 783.1 L324.1 782.3 L324.2 781.5 L324.8 780.7 L324.9 779.9 L324.9 779.1 L324.7 778.3 L324.6 777.5 L325.2 776.8 L325.2 775.9 L325.0 775.1 L325.5 774.4 L325.6 773.6 L325.5 772.8 L325.2 771.9 L325.8 771.2 L325.4 770.3 L326.0 769.6 L326.1 768.8 L326.1 768.0 L326.3 767.2 L326.3 766.4 L326.3 765.6 L326.5 764.8 L326.5 764.0 L326.1 763.2 L326.3 762.4 L326.8 761.6 L326.9 760.8 L326.4 760.0 L326.6 759.2 L327.2 758.5 L327.2 757.7 L327.4 756.9 L327.3 756.1 L327.4 755.3 L327.4 754.5 L327.1 753.6 L327.7 752.9 L327.3 752.0 L327.8 751.3 L327.9 750.5 L327.5 749.6 L327.6 748.8 L327.8 748.1 L328.4 747.3 L327.9 746.5 L328.5 745.7 L328.6 744.9 L328.2 744.1 L328.7 743.3 L328.9 742.5 L328.9 741.7 L329.1 741.0 L329.1 740.2 L328.5 739.3 L329.2 738.6 L329.2 737.8 L328.8 736.9 L329.4 736.2 L329.1 735.3 L329.2 734.5 L329.6 733.8 L329.7 733.0 L329.9 732.2 L329.4 731.3 L329.6 730.6 L330.1 729.8 L330.2 729.0 L329.9 728.2 L330.4 727.4 L330.6 726.6 L330.2 725.8 L330.1 725.0 L330.3 724.2 L330.9 723.4 L330.8 722.6 L330.4 721.8 L331.0 721.1 L331.2 720.3 L330.8 719.4 L331.3 718.7 L331.3 717.9 L331.4 717.1 L331.1 716.2 L331.1 715.4 L331.7 714.7 L331.9 713.9 L331.3 713.0 L331.6 712.3 L332.0 711.5 L332.2 710.7 L331.7 709.9 L332.3 709.1 L331.9 708.3 L332.0 707.5 L332.2 706.7 L332.2 705.9 L332.7 705.1 L332.7 704.3 L332.5 703.5 L333.0 702.8 L332.5 701.9 L332.6 701.1 L332.7 700.3 L333.4 699.6 L333.0 698.7 L333.5 698.0 L333.5 697.2 L333.0 696.3 L333.3 695.5 L333.7 694.8 L333.9 694.0 L333.4 693.2 L333.5 692.4 L333.6 691.6 L333.8 690.8 L334.3 690.0 L334.4 689.2 L334.6 688.4 L334.1 687.6 L334.2 686.8 L334.7 686.0 L334.3 685.2 L335.0 684.5 L335.0 683.7 L335.1 682.9 L334.7 682.0 L334.8 681.2 L334.7 680.4 L335.4 679.7 L335.4 678.9 L335.6 678.1 L335.6 677.3 L335.3 676.5 L335.8 675.7 L335.9 674.9 L335.6 674.1 L335.5 673.3 L336.0 672.5 L335.7 671.7 L335.8 670.9 L336.4 670.1 L336.4 669.3 L336.0 668.5 L336.7 667.8 L336.3 666.9 L336.3 666.1 L336.5 665.3 L336.5 664.5 L336.7 663.7 L336.5 662.9 L337.2 662.2 L336.7 661.3 L337.0 660.5 L337.5 659.8 L337.5 659.0 L337.6 658.2 L337.1 657.3 L337.4 656.6 L337.9 655.8 L337.8 655.0 L337.6 654.2 L338.2 653.4 L338.2 652.6 L337.7 651.8 L338.4 651.0 L338.4 650.2 L338.5 649.4 L338.5 648.6 L338.3 647.8 L338.8 647.1 L338.9 646.3 L338.5 645.4 L339.0 644.7 L338.5 643.8 L338.7 643.0 L338.8 642.2 L338.8 641.4 L339.0 640.6 L339.1 639.8 L339.6 639.1 L339.2 638.3 L339.3 637.5 L339.8 636.7 L339.5 635.9 L340.0 635.1 L339.6 634.3 L339.6 633.5 L339.8 632.7 L340.2 631.9 L339.9 631.1 L340.0 630.3 L340.1 629.5 L340.6 628.7 L340.7 628.0 L340.4 627.1 L340.4 626.3 L340.5 625.5 L341.0 624.8 L341.1 624.0 L340.7 623.1 L341.3 622.4 L341.3 621.6 L341.3 620.8 L341.5 620.0 L341.6 619.2 L341.8 618.4 L341.3 617.6 L341.7 616.8 L342.0 616.0 L341.9 615.2 L342.1 614.4 L341.8 613.6 L342.3 612.8 L342.3 612.0 L341.8 611.2 L342.4 610.4 L342.7 609.7 L342.7 608.9 L342.7 608.1 L342.4 607.2 L342.9 606.5 L343.0 605.7 L342.7 604.8 L342.7 604.0 L342.8 603.2 L342.8 602.4 L343.0 601.7 L343.5 600.9 L343.1 600.1 L343.2 599.3 L343.6 598.5 L343.7 597.7 L343.5 596.9 L343.6 596.1 L343.5 595.3 L344.0 594.5 L343.6 593.7 L344.3 592.9 L344.4 592.1 L344.3 591.3 L344.0 590.5 L344.6 589.8 L344.7 589.0 L344.7 588.2 L344.3 587.3 L344.9 586.6 L344.9 585.8 L345.1 585.0 L344.6 584.1 L345.3 583.4 L344.7 582.5 L345.0 581.8 L345.5 581.0 L345.5 580.2 L345.6 579.4 L345.3 578.6 L345.7 577.8 L345.8 577.0 L346.0 576.2 L346.0 575.4 L346.1 574.6 L346.0 573.8 L345.8 573.0 L345.8 572.2 L346.0 571.4 L345.9 570.6 L346.1 569.8 L346.1 569.0 L346.3 568.2 L346.2 567.4 L346.8 566.7 L346.5 565.8 L347.0 565.1 L346.7 564.2 L347.2 563.5 L346.8 562.6 L347.4 561.9 L347.5 561.1 L347.6 560.3 L347.1 559.4 L347.3 558.7 L347.7 557.9 L347.7 557.1 L347.8 556.3 L347.5 555.5 L347.7 554.7 L348.1 553.9 L348.2 553.1 L347.9 552.3 L347.9 551.5 L348.0 550.7 L348.5 549.9 L348.2 549.1 L348.6 548.3 L348.2 547.5 L348.3 546.7 L349.0 546.0 L348.6 545.1 L348.5 544.3 L348.6 543.5 L348.8 542.7 L349.3 542.0 L348.9 541.1 L349.4 540.4 L349.6 539.6 L349.1 538.7 L349.8 538.0 L349.9 537.2 L349.4 536.4 L349.8 535.6 L350.0 534.8 L349.7 534.0 L349.7 533.2 L349.7 532.4 L349.8 531.6 L350.0 530.8 L350.4 530.0 L350.5 529.2 L350.1 528.4 L350.7 527.7 L350.7 526.8 L350.9 526.1 L350.9 525.3 L350.5 524.4 L350.7 523.6 L351.2 522.9 L350.8 522.0 L351.2 521.3 L351.0 520.4 L351.4 519.7 L351.5 518.9 L351.6 518.1 L351.8 517.3 L351.2 516.5 L351.5 515.7 L351.4 514.9 L352.0 514.1 L351.6 513.3 L352.1 512.5 L351.7 511.7 L351.8 510.9 L352.1 510.1 L351.9 509.3 L352.4 508.5 L352.6 507.7 L352.3 506.9 L352.3 506.1 L352.5 505.3 L352.5 504.5 L353.1 503.8 L352.6 502.9 L353.2 502.2 L352.8 501.3 L352.8 500.5 L353.4 499.8 L353.5 499.0 L353.4 498.2 L353.1 497.3 L353.3 496.6 L353.8 495.8 L353.5 495.0 L353.9 494.2 L353.9 493.4 L354.1 492.6 L353.7 491.8 L354.1 491.0 L353.8 490.2 L354.4 489.4 L354.5 488.6 L354.0 487.8 L354.2 487.0 L354.6 486.2 L354.8 485.4 L354.9 484.7 L354.8 483.8 L354.4 483.0 L354.7 482.2 L355.1 481.5 L354.7 480.6 L354.8 479.8 L354.9 479.0 L355.3 478.3 L355.4 477.5 L355.5 476.7 L355.5 475.9 L355.3 475.1 L355.3 474.2 L355.7 473.5 L355.8 472.7 L355.9 471.9 L355.7 471.1 L356.1 470.3 L356.1 469.5 L355.8 468.7 L356.0 467.9 L355.9 467.1 L355.9 466.3 L356.0 465.5 L356.1 464.7 L356.5 463.9 L356.3 463.1 L356.2 462.3 L356.7 461.5 L356.4 460.7 L356.9 459.9 L356.6 459.1 L357.0 458.3 L356.8 457.5 L356.7 456.7 L356.9 455.9 L356.9 455.1 L357.0 454.3 L357.0 453.5 L357.1 452.7 L357.6 452.0 L357.2 451.1 L357.2 450.3 L357.3 449.5 L357.7 448.8 L357.8 448.0 L357.6 447.1 L357.9 446.4 L358.0 445.6 L357.7 444.7 L357.8 443.9 L357.9 443.1 L357.9 442.3 L358.5 441.6 L358.5 440.8 L358.5 440.0 L358.7 439.2 L358.7 438.4 L358.3 437.6 L358.4 436.8 L359.0 436.0 L358.6 435.2 L358.6 434.4 L358.7 433.6 L358.7 432.8 L358.9 432.0 L358.9 431.2 L359.0 430.4 L359.0 429.6 L359.5 428.8 L359.3 428.0 L359.9 427.3 L359.3 426.4 L359.5 425.6 L360.0 424.9 L360.1 424.1 L359.8 423.2 L360.2 422.5 L360.5 421.7 L360.0 420.9 L360.6 420.1 L360.7 419.3 L360.8 418.5 L360.3 417.7 L360.9 416.9 L360.4 416.1 L361.3 415.4 L361.3 414.6 L361.3 413.8 L360.9 412.9 L361.5 412.2 L361.1 411.3 L361.9 410.6 L361.9 409.8 L362.1 409.0 L362.3 408.2 L362.2 407.4 L361.9 406.6 L361.8 405.7 L362.8 405.1 L362.0 404.2 L362.2 403.4 L362.4 402.6 L363.1 401.9 L363.2 401.1 L363.3 400.3 L362.9 399.4 L363.7 398.8 L363.2 397.9 L363.4 397.1 L364.1 396.4 L364.1 395.6 L364.2 394.8 L363.9 393.9 L364.8 393.3 L364.9 392.5 L364.1 391.5 L364.4 390.8 L364.4 389.9 L365.2 389.3 L364.8 388.4 L365.7 387.7 L365.1 386.8 L366.0 386.2 L366.1 385.4 L366.1 384.5 L366.2 383.8 L366.5 383.0 L366.8 382.2 L366.2 381.3 L367.0 380.6 L367.0 379.8 L366.4 378.8 L366.3 378.0 L366.6 377.2 L366.9 376.5 L368.1 375.9 L366.8 374.8 L368.8 374.6 L368.8 373.8 L369.2 373.1 L368.0 371.8 L368.6 371.1 L368.4 370.0 L369.4 369.5 L369.8 368.7 L371.2 368.7 L370.4 367.0 L371.0 366.4 L372.9 367.3 L372.4 365.5 L373.0 365.0 L374.4 366.1 L375.3 366.1 L375.9 365.6 L376.7 365.5 L377.5 365.1 L378.2 364.8 L379.0 364.5 L379.9 364.3 L379.9 362.1 L381.4 363.6 L381.5 361.8 L382.3 361.5 L383.5 362.4 L384.4 362.5 L385.0 362.0 L385.3 360.6 L385.9 359.8 L386.6 359.4 L388.1 361.1 L388.0 358.7 L389.6 360.5 L390.2 359.7 L390.4 358.1 L391.8 359.5 L392.5 359.2 L393.2 358.6 L393.5 357.3 L394.8 358.4 L395.5 358.0 L395.4 355.7 L396.3 355.7 L397.6 356.6 L398.5 356.7 L398.4 354.6 L399.1 354.2 L400.0 354.3 L401.2 354.9 L401.2 353.1 L401.9 352.7 L402.8 352.8 L403.4 352.1 L404.8 353.2 L405.7 353.2 L406.3 352.7 L406.4 351.0 L407.7 351.9 L408.5 351.7 L409.3 351.4 L410.0 351.2 L410.6 350.6 L411.5 350.6 L412.1 350.0 L413.1 350.2 L413.6 349.4 L413.9 348.0 L414.6 347.6 L415.9 348.6 L416.6 348.2 L417.4 348.1 L417.9 347.4 L418.8 347.3 L418.9 345.5 L420.4 347.0 L421.1 346.6 L421.1 344.5 L421.9 344.4 L422.7 344.2 L423.3 343.5 L424.7 344.8 L425.4 344.5 L425.4 342.5 L426.3 342.4 L427.7 343.7 L427.8 341.9 L428.5 341.6 L429.1 340.8 L429.9 340.7 L431.4 342.3 L431.6 340.5 L432.9 341.7 L433.4 340.7 L434.3 340.9 L435.0 340.5 L435.6 339.9 L436.4 339.7 L437.2 339.5 L438.0 339.3 L438.1 337.4 L439.3 338.3 L439.4 336.5 L440.4 336.6 L441.7 337.9 L441.7 335.6 L443.3 337.5 L443.8 336.6 L443.9 334.8 L444.8 334.7 L446.2 336.1 L446.3 334.4 L447.1 334.1 L447.7 333.5 L449.2 335.1 L449.8 334.5 L450.7 334.6 L451.4 334.1 L451.6 332.5 L452.1 331.5 L453.5 332.8 L454.2 332.6 L455.1 332.6 L455.9 332.5 L456.1 330.7 L457.2 331.5 L457.9 331.0 L458.7 330.8 L459.0 329.3 L460.3 330.6 L461.0 330.3 L461.7 329.6 L462.5 329.6 L462.7 327.9 L464.2 329.5 L464.7 328.7 L465.6 328.7 L466.3 328.3 L467.1 328.2 L467.2 326.2 L468.7 327.9 L468.7 325.6 L469.5 325.5 L470.8 326.6 L471.6 326.7 L471.8 324.7 L473.2 326.2 L473.8 325.6 L474.7 325.7 L475.2 324.8 L476.1 325.0 L476.3 323.1 L477.1 323.0 L477.8 322.5 L479.0 323.5 L479.8 323.3 L480.7 323.5 L480.8 321.5 L481.6 321.3 L482.8 322.2 L483.5 322.0 L483.9 320.7 L484.6 320.2 L485.8 321.1 L486.6 321.0 L486.9 319.5 L487.6 318.9 L489.0 320.8 L489.8 320.6 L490.0 318.7 L490.8 318.5 L491.4 317.7 L492.8 319.4 L493.1 317.7 L493.8 317.3 L495.1 318.9 L495.2 316.5 L496.0 316.2 L496.8 316.3 L498.0 317.4 L498.3 315.8 L499.2 315.9 L500.3 316.6 L501.0 316.3 L501.5 315.1 L502.6 315.9 L503.4 315.8 L504.2 315.9 L504.4 313.8 L505.6 314.9 L505.9 313.2 L506.7 313.0 L507.5 312.7 L508.7 314.2 L509.0 312.4 L510.3 314.0 L511.1 313.9 L511.9 313.8 L512.5 313.0 L513.5 313.3 L513.6 311.0 L514.5 311.0 L515.3 310.9 L516.0 310.6 L516.9 310.7 L518.0 312.0 L518.8 311.6 L519.6 311.4 L519.9 309.4 L520.7 309.7 L521.5 309.5 L522.5 310.3 L523.1 309.1 L524.2 310.4 L524.6 308.7 L525.3 308.3 L526.1 307.9 L526.9 308.0 L527.6 307.3 L528.3 307.1 L529.2 307.3 L530.4 308.7 L531.2 308.6 L531.4 306.3 L532.7 308.2 L533.5 307.8 L534.0 306.4 L534.6 305.8 L535.8 307.4 L536.6 307.3 L537.3 306.8 L538.2 307.0 L538.9 306.7 L539.4 304.9 L540.2 304.8 L541.0 304.8 L541.6 304.1 L542.8 305.6 L543.2 303.7 L544.3 305.2 L544.8 303.8 L546.0 305.2 L546.7 304.8 L547.6 305.1 L548.3 304.6 L549.1 304.7 L549.8 303.9 L550.3 302.8 L551.1 302.6 L552.2 304.0 L553.0 303.5 L553.8 303.5 L554.5 303.2 L555.4 303.4 L556.1 303.1 L556.9 302.7 L557.6 302.3 L558.1 300.9 L558.9 300.7 L559.7 300.6 L560.4 300.2 L561.6 302.0 L562.0 299.8 L563.1 301.2 L563.7 300.0 L564.7 301.3 L565.2 299.2 L565.9 299.0 L566.7 298.8 L567.8 300.4 L568.4 299.1 L569.1 298.8 L569.9 298.6 L570.7 298.7 L571.8 299.9 L572.6 299.7 L573.0 297.8 L574.2 299.7 L574.9 299.3 L575.4 297.2 L576.5 299.2 L577.0 297.2 L578.1 298.8 L578.6 297.0 L579.4 296.9 L580.5 298.4 L580.9 296.4 L582.0 297.9 L582.8 297.9 L583.6 297.7 L584.3 297.3 L584.8 295.6 L585.9 297.3 L586.8 297.5 L587.2 295.1 L588.1 295.6 L589.1 296.6 L589.6 294.9 L590.4 295.1 L591.5 296.6 L592.3 296.4 L592.7 294.2 L593.6 294.5 L594.6 296.0 L595.1 294.0 L596.2 295.7 L597.0 295.8 L597.7 295.2 L598.3 293.8 L599.4 295.3 L600.1 294.7 L600.9 294.9 L601.8 295.1 L602.5 294.9 L603.3 294.6 L604.0 294.0 L604.9 294.6 L605.4 292.6 L606.4 293.8 L607.1 292.6 L608.0 293.5 L608.6 292.4 L609.6 293.6 L610.4 293.3 L611.2 293.1 L611.7 291.3 L612.7 292.7 L613.6 292.9 L614.4 293.1 L614.9 290.9 L615.7 290.8 L616.7 292.5 L617.5 292.1 L618.1 290.7 L618.9 290.4 L619.6 290.2 L620.5 290.2 L621.5 292.1 L622.3 291.7 L623.1 291.8 L623.9 291.8 L624.5 290.0 L625.4 291.0 L626.3 291.5 L626.8 289.6 L627.8 290.9 L628.6 290.7 L629.1 288.8 L630.1 290.2 L631.0 290.4 L631.6 288.8 L632.4 288.9 L633.1 288.6 L634.2 290.3 L634.8 288.6 L635.7 289.6 L636.3 288.0 L637.1 287.9 L638.1 289.7 L638.9 289.2 L639.7 289.0 L640.3 287.6 L641.3 289.3 L642.1 288.9 L642.9 288.7 L643.4 286.9 L644.5 288.7 L645.2 288.2 L645.8 286.9 L646.9 288.6 L647.5 286.9 L648.2 286.3 L649.0 286.5 L649.8 286.1 L650.6 286.4 L651.4 285.9 L652.4 287.8 L653.0 286.2 L653.7 285.4 L654.6 285.9 L655.5 286.8 L656.1 285.2 L657.1 286.9 L657.9 286.5 L658.7 286.8 L659.5 286.6 L660.4 286.9 L660.9 284.4 L661.7 284.4 L662.7 286.2 L663.5 286.4 L664.3 286.2 L665.1 285.7 L665.6 284.0 L666.6 285.6 L667.3 284.1 L668.2 285.2 L668.9 284.1 L669.6 283.7 L670.7 285.5 L671.2 283.3 L672.1 283.7 L672.8 283.3 L673.8 284.7 L674.6 284.6 L675.2 283.2 L676.2 284.8 L677.0 284.9 L677.7 284.1 L678.5 284.2 L679.2 282.5 L680.0 282.6 L680.9 284.0 L681.6 282.2 L682.4 282.7 L683.1 281.9 L684.1 283.6 L684.7 281.8 L685.5 281.8 L686.5 283.8 L687.3 283.6 L687.9 281.7 L688.9 283.0 L689.7 283.2 L690.3 281.5 L691.3 282.9 L691.9 281.3 L692.7 281.3 L693.7 283.0 L694.3 281.0 L695.1 281.3 L695.9 281.0 L696.8 281.4 L697.5 280.7 L698.3 280.7 L699.1 280.7 L699.9 280.6 L700.8 282.4 L701.6 282.1 L702.4 282.4 L703.1 280.8 L703.9 280.4 L704.7 280.7 L705.6 282.2 L706.3 280.3 L707.2 282.0 L708.0 281.6 L708.8 281.7 L709.6 281.8 L710.4 281.6 L711.2 281.8 L712.0 281.2 L712.7 280.0 L713.6 281.1 L714.3 279.6 L715.2 281.3 L716.0 281.5 L716.8 281.5 L717.6 280.9 L718.4 281.3 L719.1 279.3 L719.9 279.1 L720.8 280.7 L721.6 280.7 L722.3 279.4 L723.2 281.1 L723.9 280.6 L724.8 281.2 L725.5 279.0 L726.3 279.5 L727.2 280.9 L728.0 280.6 L728.7 279.2 L729.5 278.8 L730.4 280.7 L731.1 278.8 L731.9 280.3 L732.7 280.2 L733.5 280.0 L734.3 280.1 L735.1 278.8 L735.9 278.8 L736.7 279.0 L737.6 280.5 L738.3 279.9 L739.1 278.8 L739.9 278.7 L740.7 280.0 L741.5 280.1 L742.3 278.7 L743.1 278.6 L743.9 279.6 L744.7 278.4 L745.5 277.9 L746.3 278.0 L747.1 277.9 L747.9 280.1 L748.7 279.5 L749.5 278.0 L750.3 279.6 L751.1 279.6 L751.9 279.8 L752.7 277.9 L753.5 279.7 L754.3 278.1 L755.1 279.9 L755.9 279.6 L756.7 279.6 L757.5 277.6 L758.3 277.5 L759.1 278.0 L759.9 277.9 L760.7 277.4 L761.5 279.5 L762.3 277.4 L763.1 277.8 L763.9 277.3 L764.7 277.7 L765.5 277.4 L766.3 277.3 L767.1 279.2 L767.9 277.6 L768.7 279.1 L769.5 277.8 L770.3 277.8 L771.1 277.1 L771.9 279.2 L772.7 278.7 L773.5 279.1 L774.3 277.6 L775.1 277.1 L775.9 277.5 L776.7 278.6 L777.5 279.1 L778.3 279.3 L779.1 277.1 L779.9 279.3 L780.7 277.6 L781.5 277.4 L782.3 277.0 L783.1 278.8 L783.9 278.6 L784.7 277.3 L785.5 277.4 L786.3 279.0 L787.1 279.0 L787.9 277.0 L788.7 277.0 L789.5 277.0 L790.3 276.8 L791.1 278.6 L791.9 278.6 L792.7 279.1 L793.5 279.0 L794.3 278.8 L795.1 278.9 L795.9 278.8 L796.7 277.2 L797.5 278.7 L798.3 278.5 L799.1 278.4 L799.9 277.2 L800.7 276.8 L801.5 278.4 L802.3 277.4 L803.1 278.4 L803.9 278.9 L804.7 276.7 L805.5 278.4 L806.3 279.0 L807.1 277.0 L807.9 276.8 L808.7 278.7 L809.5 278.6 L810.3 276.7 L811.1 276.7 L811.9 278.6 L812.7 278.4 L813.5 276.6 L814.3 278.7 L815.1 278.5 L815.9 278.3 L816.7 278.5 L817.5 278.5 L818.3 278.8 L819.1 278.7 L819.9 276.9 L820.7 278.9 L821.5 278.6 L822.3 278.8 L823.1 278.2 L823.9 278.2 L824.7 278.8 L825.5 278.7 L826.3 278.4 L827.1 278.2 L827.9 278.2 L828.7 278.4 L829.5 276.6 L830.3 278.3 L831.1 277.1 L831.9 276.7 L832.7 278.3 L833.5 277.1 L834.3 278.7 L835.1 276.6 L835.9 276.6 L836.7 278.2 L837.5 278.4 L838.3 276.8 L839.1 278.4 L839.9 276.7 L840.7 277.1 L841.5 276.8 L842.3 278.3 L843.1 278.3 L843.9 276.7 L844.7 278.7 L845.5 278.6 L846.3 278.5 L847.1 278.7 L847.9 276.6 L848.7 277.0 L849.5 278.2 L850.3 277.1 L851.1 276.7 L851.9 277.1 L852.7 276.8 L853.5 278.4 L854.3 276.9 L855.1 278.5 L855.9 278.6 L856.7 277.1 L857.5 276.9 L858.3 276.8 L859.1 278.8 L859.9 278.6 L860.7 277.4 L861.5 276.8 L862.3 278.3 L863.1 278.6 L863.9 276.8 L864.7 279.1 L865.5 276.9 L866.3 278.4 L867.1 276.7 L867.9 278.4 L868.7 277.5 L869.5 276.9 L870.3 276.8 L871.1 277.0 L871.9 279.1 L872.7 277.0 L873.5 278.5 L874.3 277.1 L875.1 277.0 L875.9 277.2 L876.7 277.1 L877.5 277.3 L878.3 278.6 L879.1 277.0 L879.9 278.7 L880.7 277.5 L881.5 278.6 L882.3 277.4 L883.1 277.4 L883.9 277.6 L884.7 278.7 L885.5 277.4 L886.3 278.6 L887.1 279.0 L887.9 278.8 L888.7 277.7 L889.5 277.8 L890.3 277.2 L891.1 277.3 L891.8 279.5 L892.7 277.3 L893.5 279.2 L894.3 277.7 L895.1 277.5 L895.9 277.5 L896.6 279.7 L897.5 277.8 L898.3 277.4 L899.0 279.7 L899.8 279.7 L900.7 277.7 L901.5 277.7 L902.2 279.8 L903.0 279.4 L903.8 279.7 L904.7 278.2 L905.5 278.1 L906.2 279.5 L907.1 277.8 L907.8 279.3 L908.7 277.7 L909.4 279.7 L910.2 279.4 L911.1 278.4 L911.8 279.6 L912.6 280.0 L913.5 277.8 L914.2 280.0 L915.0 279.6 L915.9 277.9 L916.7 278.5 L917.5 278.4 L918.3 278.2 L919.0 279.8 L919.9 278.5 L920.7 278.5 L921.5 278.1 L922.2 280.1 L923.1 278.8 L923.8 280.0 L924.7 278.5 L925.4 280.2 L926.3 278.3 L927.1 278.6 L927.9 278.5 L928.7 278.5 L929.5 278.8 L930.3 278.8 L931.1 278.8 L931.9 279.1 L932.7 279.2 L933.5 279.2 L934.2 280.3 L935.1 279.3 L935.9 279.1 L936.6 280.4 L937.4 281.1 L938.3 279.2 L939.1 279.6 L939.9 279.1 L940.6 281.0 L941.5 278.9 L942.3 279.5 L943.1 279.5 L943.9 279.2 L944.6 281.2 L945.4 281.2 L946.2 281.5 L947.0 281.6 L947.8 280.8 L948.7 279.7 L949.4 281.6 L950.3 280.1 L951.0 281.3 L951.8 281.6 L952.6 281.1 L953.4 281.6 L954.2 281.9 L955.1 280.0 L955.8 280.4 L956.6 280.4 L957.4 281.7 L958.2 281.4 L959.0 282.0 L959.8 280.4 L960.7 280.4 L961.5 280.1 L962.3 280.2 L962.9 282.3 L963.8 281.9 L964.6 282.0 L965.3 282.3 L966.3 280.6 L966.9 282.6 L967.8 280.8 L968.7 280.5 L969.4 281.1 L970.3 280.8 L970.9 282.8 L971.9 280.6 L972.6 281.2 L973.3 283.0 L974.2 281.1 L974.9 283.0 L975.7 282.7 L976.5 283.2 L977.4 281.7 L978.1 283.4 L978.9 283.2 L979.8 281.5 L980.6 281.9 L981.3 283.4 L982.1 283.1 L982.9 283.7 L983.8 281.7 L984.6 282.2 L985.3 283.8 L986.2 281.9 L987.0 282.3 L987.7 283.9 L988.5 284.0 L989.3 283.9 L990.1 284.1 L991.0 282.2 L991.8 282.2 L992.4 284.4 L993.3 283.9 L994.2 282.4 L995.0 282.4 L995.7 284.4 L996.4 284.8 L997.3 284.3 L998.1 284.3 L998.8 284.6 L999.7 284.5 L1000.5 283.5 L1001.4 283.3 L1002.0 285.3 L1003.0 283.4 L1003.6 285.5 L1004.6 283.5 L1005.2 285.2 L1006.0 284.9 L1006.8 285.0 L1007.8 283.5 L1008.4 285.7 L1009.3 283.9 L1010.2 283.7 L1010.8 285.8 L1011.7 284.4 L1012.4 286.2 L1013.3 284.2 L1014.0 285.7 L1014.9 284.2 L1015.7 284.7 L1016.3 286.5 L1017.3 284.5 L1018.1 284.5 L1018.8 286.2 L1019.5 286.7 L1020.5 285.2 L1021.1 287.0 L1022.1 285.5 L1022.7 287.2 L1023.7 285.0 L1024.5 285.4 L1025.1 287.1 L1025.9 287.3 L1026.9 285.3 L1027.5 287.0 L1028.3 287.7 L1029.2 286.0 L1030.0 286.0 L1030.9 285.7 L1031.5 287.4 L1032.3 287.5 L1033.3 286.1 L1034.1 286.2 L1034.8 286.7 L1035.6 286.4 L1036.4 286.7 L1037.2 287.1 L1038.0 287.0 L1038.8 287.1 L1039.4 288.5 L1040.2 288.6 L1041.0 288.6 L1042.0 286.9 L1042.6 288.8 L1043.6 287.6 L1044.4 287.1 L1045.0 289.3 L1046.0 287.3 L1046.8 287.7 L1047.4 289.5 L1048.3 288.0 L1049.2 287.6 L1049.9 288.2 L1050.8 287.8 L1051.4 289.7 L1052.1 290.1 L1053.1 288.3 L1054.0 288.3 L1054.6 290.0 L1055.3 290.7 L1056.1 290.4 L1057.0 290.1 L1057.7 290.7 L1058.5 290.3 L1059.5 289.0 L1060.1 291.0 L1060.9 290.7 L1061.7 290.7 L1062.6 289.8 L1063.5 289.5 L1064.3 289.5 L1064.8 291.7 L1065.7 291.4 L1066.6 290.3 L1067.5 290.0 L1068.0 292.1 L1068.8 292.1 L1069.6 292.0 L1070.4 291.9 L1071.4 290.4 L1072.0 292.6 L1073.0 291.0 L1073.8 290.7 L1074.6 290.8 L1075.4 290.7 L1076.0 292.7 L1077.0 291.4 L1077.7 291.8 L1078.5 291.8 L1079.1 293.4 L1080.1 291.9 L1080.7 293.8 L1081.5 293.4 L1082.6 291.8 L1083.1 293.7 L1084.1 292.1 L1084.7 294.0 L1085.5 293.9 L1086.3 294.0 L1087.1 294.2 L1088.0 293.2 L1088.9 292.7 L1089.4 295.0 L1090.2 295.0 L1091.1 294.5 L1091.7 295.3 L1092.9 293.3 L1093.3 295.5 L1094.4 293.7 L1095.0 295.3 L1095.8 295.5 L1096.5 295.7 L1097.4 295.6 L1098.3 294.8 L1099.2 294.2 L1099.7 296.2 L1100.5 296.5 L1101.3 296.2 L1102.4 294.8 L1102.8 297.0 L1103.8 295.7 L1104.6 295.7 L1105.5 295.4 L1106.1 296.9 L1107.0 296.2 L1107.6 297.3 L1108.4 297.4 L1109.5 296.0 L1109.9 298.2 L1111.0 296.4 L1111.8 296.8 L1112.3 298.6 L1113.1 298.6 L1114.1 297.4 L1114.9 297.4 L1115.4 299.1 L1116.2 299.1 L1117.3 297.7 L1117.8 299.4 L1118.6 299.3 L1119.4 299.7 L1120.2 299.5 L1120.9 300.3 L1122.1 298.3 L1122.8 298.7 L1123.7 298.4 L1124.1 300.7 L1125.2 299.0 L1125.6 301.0 L1126.8 299.3 L1127.1 301.5 L1128.4 299.5 L1129.1 300.1 L1129.6 301.3 L1130.3 302.1 L1131.1 302.1 L1131.9 302.2 L1132.7 302.3 L1133.4 302.8 L1134.5 301.4 L1135.1 302.5 L1136.1 301.5 L1136.5 303.5 L1137.4 303.4 L1138.1 303.5 L1139.0 303.5 L1139.8 303.5 L1140.6 303.6 L1141.3 303.8 L1142.1 304.0 L1142.8 304.5 L1144.0 303.2 L1144.3 305.2 L1145.1 305.3 L1146.3 303.5 L1146.8 305.1 L1147.8 304.1 L1148.4 305.3 L1149.5 304.2 L1149.9 306.0 L1150.5 306.6 L1151.7 305.0 L1152.1 306.9 L1153.3 305.3 L1154.1 305.3 L1154.9 305.7 L1155.2 307.6 L1156.4 306.2 L1156.9 307.5 L1157.7 307.6 L1158.8 306.7 L1159.6 306.6 L1159.9 308.5 L1161.2 306.9 L1161.5 309.0 L1162.2 309.2 L1163.0 309.3 L1163.9 309.2 L1165.0 308.1 L1165.4 309.7 L1166.2 309.8 L1167.2 309.1 L1168.0 309.3 L1168.4 310.9 L1169.2 310.8 L1170.0 311.0 L1170.8 311.3 L1171.4 312.0 L1172.7 310.4 L1173.4 310.6 L1174.2 310.9 L1174.6 312.3 L1175.8 311.3 L1176.1 313.1 L1176.8 313.5 L1177.7 313.2 L1178.4 313.8 L1179.6 312.5 L1180.4 312.4 L1180.7 314.5 L1181.6 314.1 L1182.2 315.0 L1183.1 314.8 L1184.3 313.6 L1184.5 315.7 L1185.9 313.7 L1186.5 314.5 L1187.3 314.5 L1187.6 316.4 L1188.4 316.4 L1189.1 317.0 L1190.0 316.7 L1190.6 317.5 L1192.0 315.8 L1192.2 317.7 L1192.9 318.0 L1194.2 316.7 L1194.5 318.3 L1195.7 317.3 L1196.6 317.1 L1196.8 318.9 L1198.0 318.0 L1198.2 319.8 L1199.1 319.7 L1199.7 320.4 L1200.6 320.2 L1201.3 320.6 L1202.1 321.0 L1202.9 321.0 L1203.5 321.6 L1205.0 319.8 L1205.8 319.9 L1205.9 322.1 L1206.8 322.0 L1207.5 322.3 L1208.6 321.5 L1208.9 323.1 L1210.3 321.4 L1211.0 322.0 L1211.7 322.3 L1212.1 323.8 L1213.2 322.9 L1213.6 324.4 L1214.8 323.4 L1215.5 323.6 L1216.4 323.6 L1217.0 324.2 L1217.1 326.2 L1218.1 325.9 L1218.8 326.4 L1220.1 325.1 L1220.8 325.6 L1221.4 326.1 L1221.8 327.5 L1222.5 327.9 L1223.9 326.3 L1224.0 328.2 L1224.8 328.4 L1226.1 327.3 L1226.8 327.7 L1227.5 328.2 L1228.2 328.4 L1228.5 330.0 L1229.1 330.6 L1230.6 329.0 L1230.7 330.9 L1231.3 331.6 L1232.1 331.6 L1233.5 330.5 L1234.1 330.9 L1234.5 332.3 L1235.6 331.6 L1235.9 333.0 L1236.5 333.4 L1237.9 332.3 L1237.9 334.4 L1239.3 333.0 L1240.2 333.1 L1240.3 334.9 L1241.6 333.9 L1242.2 334.5 L1243.1 334.3 L1243.7 335.0 L1244.5 335.1 L1245.2 335.5 L1245.9 335.9 L1246.1 337.5 L1247.5 336.3 L1247.4 338.4 L1248.3 338.5 L1249.0 338.8 L1250.3 337.9 L1251.0 338.3 L1251.6 338.8 L1252.3 339.2 L1253.3 339.1 L1253.1 341.3 L1254.0 341.3 L1254.5 342.1 L1255.4 341.9 L1256.8 340.9 L1257.6 341.3 L1258.0 342.1 L1257.9 344.0 L1258.7 344.3 L1260.2 343.2 L1260.2 344.9 L1261.7 343.8 L1261.8 345.3 L1262.4 345.7 L1263.1 346.1 L1264.6 345.1 L1265.2 345.6 L1266.1 345.7 L1266.5 346.5 L1267.3 346.8 L1268.0 347.3 L1268.7 347.6 L1268.6 349.4 L1269.2 349.9 L1270.0 350.3 L1270.9 350.3 L1271.5 350.8 L1272.1 351.4 L1273.7 350.1 L1273.3 352.4 L1274.2 352.4 L1275.7 351.5 L1276.2 352.2 L1276.2 353.7 L1277.0 354.0 L1277.6 354.5 L1278.3 355.0 L1279.1 355.1 L1279.9 355.5 L1280.3 356.3 L1282.0 355.0 L1282.8 355.2 L1283.3 356.0 L1283.3 357.5 L1284.5 357.1 L1285.5 356.9 L1285.1 359.2 L1286.6 358.3 L1286.6 359.8 L1287.3 360.1 L1287.8 360.9 L1288.5 361.3 L1290.3 359.9 L1289.9 362.1 L1290.6 362.3 L1292.3 361.2 L1292.8 361.9 L1293.6 362.1 L1293.4 363.9 L1294.1 364.4 L1295.6 363.5 L1295.4 365.2 L1297.0 364.2 L1296.7 366.2 L1297.2 366.9 L1298.0 367.2 L1298.6 367.6 L1300.2 366.6 L1300.8 367.2 L1301.5 367.6 L1302.4 367.7 L1301.9 369.8 L1303.7 368.6 L1304.2 369.3 L1304.8 369.9 L1304.5 371.7 L1305.4 371.9 L1305.9 372.6 L1307.4 371.8 L1307.4 373.2 L1307.9 373.8 L1308.5 374.4 L1310.1 373.5 L1309.7 375.4 L1311.6 374.1 L1312.1 374.8 L1312.1 376.1 L1312.4 377.2 L1313.2 377.5 L1313.8 377.9 L1314.6 378.2 L1315.9 377.7 L1316.8 377.9 L1316.4 379.7 L1318.0 378.9 L1317.6 380.9 L1319.5 379.5 L1319.3 381.2 L1319.8 381.8 L1320.2 382.7 L1322.1 381.4 L1322.8 381.9 L1322.5 383.7 L1324.1 382.8 L1323.5 384.9 L1324.3 385.2 L1325.9 384.3 L1326.4 385.1 L1327.3 385.2 L1327.0 386.9 L1328.3 386.5 L1328.0 388.3 L1328.7 388.6 L1329.2 389.4 L1331.1 388.1 L1330.5 390.2 L1332.2 389.4 L1332.8 389.8 L1332.6 391.4 L1333.2 391.9 L1334.5 391.6 L1334.5 392.9 L1334.9 393.6 L1336.7 392.7 L1337.2 393.3 L1337.0 394.9 L1338.4 394.4 L1338.9 395.0 L1338.9 396.3 L1340.5 395.7 L1339.8 397.8 L1341.7 396.6 L1341.3 398.4 L1341.8 399.0 L1343.3 398.5 L1343.3 399.8 L1343.9 400.3 L1345.4 399.7 L1344.9 401.6 L1345.7 401.8 L1346.0 402.8 L1347.0 402.9 L1348.4 402.3 L1349.1 402.8 L1349.4 403.6 L1350.2 404.0 L1350.9 404.4 L1350.4 406.3 L1351.0 406.8 L1352.8 405.9 L1352.5 407.5 L1353.1 408.0 L1353.3 409.0 L1355.0 408.3 L1354.8 409.7 L1355.1 410.5 L1356.7 409.9 L1357.7 409.9 L1357.0 412.0 L1358.7 411.3 L1358.4 412.8 L1358.9 413.5 L1359.3 414.2 L1360.2 414.4 L1360.8 414.9 L1361.3 415.6 L1361.7 416.3 L1363.5 415.5 L1364.1 416.0 L1365.0 416.3 L1364.2 418.3 L1364.7 419.0 L1365.3 419.4 L1366.0 419.9 L1366.7 420.4 L1368.4 419.7 L1369.1 420.1 L1368.6 421.8 L1369.1 422.4 L1370.5 422.1 L1370.0 423.8 L1370.8 424.1 L1371.3 424.7 L1373.0 424.1 L1373.8 424.4 L1373.9 425.5 L1373.8 426.7 L1375.5 426.1 L1375.9 426.9 L1375.5 428.5 L1377.3 427.7 L1377.5 428.7 L1378.0 429.3 L1377.5 431.0 L1378.1 431.5 L1378.9 431.9 L1380.5 431.4 L1379.9 433.1 L1380.8 433.3 L1382.3 432.9 L1382.7 433.6 L1383.4 434.1 L1383.2 435.5 L1383.5 436.3 L1384.1 436.8 L1386.0 436.0 L1386.3 436.9 L1385.8 438.5 L1386.5 438.9 L1387.0 439.5 L1388.5 439.2 L1387.8 441.0 L1388.8 441.1 L1389.1 442.0 L1389.6 442.6 L1391.7 441.6 L1392.2 442.3 L1392.4 443.2 L1391.8 444.9 L1393.8 444.1 L1393.1 445.8 L1395.1 445.0 L1394.6 446.7 L1396.1 446.3 L1395.3 448.2 L1395.9 448.8 L1396.7 449.1 L1398.5 448.4 L1397.8 450.2 L1398.3 450.8 L1400.1 450.2 L1399.1 452.3 L1400.0 452.5 L1400.5 453.2 L1400.8 454.0 L1401.5 454.4 L1402.3 454.8 L1402.8 455.4 L1404.5 454.9 L1403.7 456.8 L1405.4 456.2 L1405.1 457.7 L1405.3 458.5 L1407.1 458.0 L1407.6 458.6 L1407.2 460.0 L1408.7 459.7 L1408.4 461.1 L1409.9 460.8 L1410.3 461.5 L1409.8 463.1 L1410.6 463.4 L1411.0 464.1 L1412.9 463.4 L1413.2 464.3 L1414.0 464.6 L1414.2 465.6 L1415.0 465.9 L1415.2 466.8 L1414.5 468.5 L1416.8 467.5 L1415.7 469.6 L1417.4 469.1 L1418.3 469.4 L1418.8 470.0 L1417.9 471.9 L1419.9 471.1 L1419.2 472.8 L1421.0 472.3 L1421.2 473.2 L1420.7 474.7 L1421.3 475.3 L1422.0 475.8 L1422.5 476.4 L1422.7 477.3 L1424.4 476.8 L1424.0 478.3 L1424.5 478.9 L1425.3 479.3 L1426.5 479.2 L1427.3 479.6 L1426.7 481.2 L1428.2 480.9 L1428.8 481.5 L1428.4 482.9 L1428.7 483.7 L1429.0 484.5 L1430.0 484.7 L1430.4 485.4 L1432.2 484.8 L1431.5 486.5 L1433.0 486.3 L1433.8 486.7 L1433.1 488.3 L1433.9 488.7 L1434.2 489.5 L1436.1 488.9 L1436.1 490.0 L1435.5 491.6 L1437.5 490.9 L1436.5 492.8 L1437.2 493.2 L1439.1 492.6 L1438.1 494.6 L1439.0 494.8 L1440.4 494.7 L1441.2 495.1 L1440.4 496.8 L1440.9 497.4 L1442.6 497.0 L1443.5 497.3 L1442.5 499.3 L1444.3 498.7 L1444.5 499.6 L1444.2 500.9 L1444.8 501.5 L1444.9 502.5 L1446.7 502.0 L1447.4 502.4 L1446.6 504.2 L1447.2 504.7 L1449.1 504.1 L1448.4 505.8 L1449.8 505.6 L1450.4 506.2 L1451.1 506.6 L1450.4 508.3 L1450.9 508.9 L1451.2 509.7 L1453.1 509.1 L1452.6 510.6 L1452.9 511.4 L1453.4 512.0 L1453.8 512.7 L1455.8 512.1 L1455.3 513.5 L1455.5 514.4 L1457.1 514.1 L1456.7 515.5 L1458.5 515.1 L1459.1 515.6 L1459.6 516.2 L1458.7 518.0 L1460.3 517.7 L1461.1 518.1 L1459.9 520.1 L1461.6 519.7 L1462.2 520.2 L1461.6 521.8 L1462.3 522.3 L1462.9 522.8 L1464.2 522.8 L1463.6 524.3 L1465.5 523.8 L1464.5 525.6 L1466.5 525.1 L1465.6 526.8 L1466.1 527.4 L1466.5 528.1 L1467.1 528.7 L1467.5 529.3 L1469.7 528.7 L1469.7 529.7 L1470.1 530.3 L1469.6 531.8 L1471.4 531.4 L1470.4 533.2 L1472.3 532.7 L1471.5 534.3 L1472.0 535.0 L1473.7 534.6 L1473.4 535.9 L1474.8 535.8 L1474.2 537.3 L1475.6 537.2 L1475.1 538.7 L1476.6 538.5 L1477.3 538.9 L1476.4 540.6 L1478.3 540.2 L1478.8 540.8 L1479.1 541.6 L1478.4 543.2 L1480.4 542.6 L1479.2 544.6 L1480.1 544.8 L1481.6 544.8 L1480.7 546.4 L1482.7 545.9 L1481.9 547.5 L1483.8 547.1 L1482.5 549.0 L1483.2 549.5 L1484.9 549.3 L1483.9 551.0 L1484.7 551.4 L1486.4 551.2 L1485.9 552.5 L1487.7 552.2 L1486.5 554.1 L1487.3 554.4 L1488.6 554.5 L1489.6 554.8 L1489.5 555.8 L1488.8 557.3 L1490.8 556.9 L1489.9 558.5 L1490.2 559.3 L1492.0 558.9 L1491.2 560.5 L1493.3 560.0 L1493.6 560.8 L1494.0 561.5 L1493.1 563.1 L1493.8 563.6 L1495.3 563.5 L1496.0 564.0 L1494.9 565.7 L1496.5 565.6 L1495.7 567.1 L1497.6 566.7 L1498.0 567.5 L1497.5 568.8 L1497.5 569.8 L1499.7 569.2 L1499.9 570.0 L1499.3 571.4 L1501.2 571.1 L1501.2 572.1 L1501.9 572.6 L1500.9 574.2 L1501.2 575.0 L1503.4 574.5 L1502.6 576.0 L1504.2 575.9 L1504.9 576.4 L1504.9 577.3 L1504.4 578.6 L1505.7 578.7 L1506.6 579.0 L1507.1 579.7 L1506.0 581.4 L1506.5 582.0 L1506.9 582.7 L1508.4 582.7 L1507.8 584.1 L1509.5 583.9 L1510.0 584.5 L1510.1 585.4 L1509.1 587.0 L1509.8 587.5 L1511.7 587.2 L1510.5 588.9 L1511.4 589.3 L1513.0 589.3 L1512.0 590.8 L1513.8 590.6 L1512.4 592.4 L1513.4 592.7 L1513.7 593.4 L1515.2 593.5 L1515.8 594.1 L1516.3 594.7 L1516.7 595.5 L1515.5 597.1 L1516.1 597.6 L1517.7 597.7 L1516.7 599.1 L1518.2 599.2 L1517.1 600.7 L1517.5 601.4 L1519.7 601.2 L1519.8 602.0 L1518.8 603.4 L1519.4 604.0 L1519.5 604.9 L1520.3 605.4 L1520.2 606.3 L1522.2 606.2 L1520.7 607.8 L1521.3 608.4 L1521.5 609.2 L1522.3 609.7 L1522.4 610.6 L1522.9 611.2 L1524.9 611.2 L1525.2 611.9 L1523.9 613.4 L1525.6 613.5 L1525.5 614.4 L1524.7 615.7 L1526.8 615.6 L1526.6 616.6 L1525.5 617.9 L1526.0 618.6 L1526.0 619.5 L1526.7 620.0 L1528.7 620.0 L1528.8 620.9 L1527.4 622.3 L1527.6 623.1 L1528.1 623.8 L1528.6 624.4 L1530.3 624.6 L1530.8 625.3 L1531.0 626.1 L1529.5 627.5 L1531.3 627.7 L1530.4 628.8 L1531.5 629.3 L1530.6 630.4 L1532.1 630.8 L1531.1 631.9 L1531.4 632.7 L1531.6 633.4 L1531.9 634.1 L1533.2 634.7 L1533.1 635.5 L1532.3 636.5 L1533.4 637.1 L1533.9 637.8 L1533.1 638.8 L1533.1 639.6 L1534.3 640.2 L1533.6 641.2 L1534.5 641.8 L1534.6 642.6 L1534.9 643.4 L1534.7 644.2 L1534.4 645.1 L1535.1 645.8 L1534.5 646.7 L1534.6 647.5 L1534.9 648.2 L1535.5 649.0 L1535.1 649.8 L1535.7 650.6 L1535.7 651.4 L1535.9 652.1 L1535.8 653.0 L1535.6 653.8 L1535.9 654.6 L1536.1 655.3 L1535.8 656.2 L1536.3 656.9 L1535.8 657.8 L1536.0 658.6 L1536.1 659.4 L1536.4 660.1 L1536.2 661.0 L1536.6 661.7 L1536.5 662.5 L1536.3 663.4 L1536.7 664.1 L1536.7 664.9 L1536.7 665.7 L1536.7 666.5 L1536.8 667.3 L1536.8 668.1 L1536.8 668.9 L1536.8 669.7 L1536.7 670.5 L1536.7 671.3 L1536.7 672.1 L1536.8 672.9 L1536.8 673.7 L1536.9 674.5 L1536.9 675.3 L1536.9 676.1 L1536.9 676.9 L1536.9 677.7 L1536.9 678.5 L1536.9 679.3 L1536.9 680.1 L1536.9 680.9 L1536.9 681.7 L1536.9 682.5 L1536.9 682.6" stroke="#006BE0" stroke-width="9.7"/>
<path d="M281.3 1255.5 L281.7 1254.7 L281.0 1253.9 L281.8 1253.1 L281.3 1252.3 L281.8 1251.5 L281.5 1250.7 L282.1 1249.9 L282.0 1249.1 L282.1 1248.3 L282.2 1247.5 L281.6 1246.7 L281.6 1245.9 L282.5 1245.2 L281.9 1244.3 L282.0 1243.5 L282.6 1242.8 L282.6 1242.0 L282.2 1241.1 L282.9 1240.4 L282.9 1239.6 L282.2 1238.7 L282.5 1237.9 L282.5 1237.1 L282.5 1236.3 L283.1 1235.6 L282.7 1234.7 L283.5 1234.0 L283.4 1233.2 L282.7 1232.3 L282.9 1231.6 L282.9 1230.7 L283.8 1230.0 L283.7 1229.2 L283.3 1228.4 L283.9 1227.6 L283.9 1226.8 L283.9 1226.0 L284.1 1225.2 L283.5 1224.4 L284.1 1223.6 L283.5 1222.8 L284.4 1222.0 L284.5 1221.2 L283.9 1220.4 L283.7 1219.6 L284.0 1218.8 L284.6 1218.0 L284.2 1217.2 L284.9 1216.5 L284.9 1215.7 L285.1 1214.9 L284.5 1214.0 L284.6 1213.2 L285.2 1212.5 L284.6 1211.6 L285.2 1210.9 L284.8 1210.0 L285.4 1209.3 L284.9 1208.4 L285.4 1207.7 L285.7 1206.9 L285.5 1206.1 L285.1 1205.2 L285.2 1204.4 L285.9 1203.7 L285.2 1202.8 L286.1 1202.1 L285.4 1201.3 L286.2 1200.5 L286.3 1199.7 L286.4 1198.9 L285.8 1198.1 L286.4 1197.3 L286.5 1196.5 L285.9 1195.7 L286.7 1194.9 L286.0 1194.1 L286.0 1193.3 L286.1 1192.5 L286.2 1191.7 L286.4 1190.9 L286.9 1190.1 L286.4 1189.3 L287.3 1188.6 L286.6 1187.7 L286.5 1186.9 L286.8 1186.1 L287.4 1185.4 L286.7 1184.5 L287.5 1183.8 L287.5 1183.0 L287.1 1182.1 L287.0 1181.3 L287.1 1180.5 L287.2 1179.7 L287.8 1179.0 L287.3 1178.1 L288.2 1177.4 L287.5 1176.5 L288.1 1175.8 L287.6 1174.9 L287.6 1174.1 L288.4 1173.4 L288.5 1172.6 L287.8 1171.7 L287.8 1170.9 L288.5 1170.2 L288.8 1169.4 L288.7 1168.6 L288.3 1167.8 L289.0 1167.0 L288.5 1166.2 L288.4 1165.4 L288.4 1164.6 L288.5 1163.8 L288.5 1163.0 L288.7 1162.2 L289.4 1161.4 L289.6 1160.7 L289.0 1159.8 L289.1 1159.0 L289.7 1158.3 L289.8 1157.5 L289.2 1156.6 L289.1 1155.8 L289.4 1155.0 L289.9 1154.3 L290.1 1153.5 L289.6 1152.6 L290.3 1151.9 L289.7 1151.0 L290.3 1150.3 L290.5 1149.5 L289.8 1148.6 L290.5 1147.9 L290.0 1147.0 L290.8 1146.3 L290.2 1145.5 L290.8 1144.7 L291.0 1143.9 L291.1 1143.1 L290.3 1142.3 L290.4 1141.5 L291.2 1140.7 L291.2 1139.9 L290.6 1139.1 L290.9 1138.3 L291.0 1137.5 L291.5 1136.7 L291.5 1135.9 L291.1 1135.1 L291.1 1134.3 L291.0 1133.5 L291.1 1132.7 L291.2 1131.9 L291.3 1131.1 L291.6 1130.3 L292.1 1129.6 L292.4 1128.8 L292.4 1128.0 L291.9 1127.1 L291.8 1126.3 L292.5 1125.6 L291.9 1124.7 L292.0 1123.9 L292.1 1123.1 L292.1 1122.3 L292.1 1121.5 L292.2 1120.7 L293.0 1120.0 L292.5 1119.2 L292.4 1118.3 L292.7 1117.6 L293.4 1116.8 L293.2 1116.0 L292.8 1115.2 L292.7 1114.4 L293.0 1113.6 L293.5 1112.8 L293.6 1112.0 L294.0 1111.3 L293.2 1110.4 L293.3 1109.6 L293.2 1108.8 L293.3 1108.0 L293.6 1107.2 L294.1 1106.4 L294.4 1105.7 L294.3 1104.9 L293.8 1104.0 L294.0 1103.2 L293.9 1102.4 L293.9 1101.6 L293.9 1100.8 L294.7 1100.1 L294.9 1099.3 L294.8 1098.5 L294.3 1097.6 L294.3 1096.8 L294.6 1096.0 L294.5 1095.2 L294.7 1094.5 L295.3 1093.7 L295.5 1092.9 L294.9 1092.1 L295.5 1091.3 L295.6 1090.5 L295.0 1089.7 L295.8 1088.9 L295.9 1088.1 L295.9 1087.3 L295.3 1086.5 L295.6 1085.7 L296.0 1084.9 L296.1 1084.1 L296.4 1083.4 L296.3 1082.5 L296.4 1081.8 L296.7 1081.0 L296.5 1080.2 L296.1 1079.3 L296.1 1078.5 L296.8 1077.8 L296.1 1076.9 L296.4 1076.1 L296.3 1075.3 L296.6 1074.5 L296.3 1073.7 L297.2 1073.0 L296.6 1072.1 L297.3 1071.4 L297.4 1070.6 L296.7 1069.7 L297.5 1069.0 L297.6 1068.2 L297.7 1067.4 L297.0 1066.5 L297.1 1065.7 L298.0 1065.0 L297.4 1064.2 L297.5 1063.4 L298.3 1062.6 L297.6 1061.8 L298.3 1061.0 L298.6 1060.3 L298.4 1059.4 L298.6 1058.7 L298.0 1057.8 L298.8 1057.1 L298.1 1056.2 L298.0 1055.4 L298.1 1054.6 L299.1 1053.9 L299.1 1053.1 L298.6 1052.2 L298.5 1051.4 L299.4 1050.7 L299.2 1049.9 L298.7 1049.0 L298.8 1048.2 L299.5 1047.5 L299.0 1046.6 L299.6 1045.9 L299.2 1045.1 L299.2 1044.3 L299.8 1043.5 L300.1 1042.7 L300.2 1041.9 L299.5 1041.1 L299.7 1040.3 L299.6 1039.5 L300.2 1038.7 L299.8 1037.9 L299.9 1037.1 L300.6 1036.3 L299.9 1035.5 L300.9 1034.8 L300.0 1033.9 L300.1 1033.1 L300.1 1032.3 L300.4 1031.5 L301.0 1030.8 L300.6 1029.9 L300.6 1029.1 L301.4 1028.4 L301.5 1027.6 L301.4 1026.8 L301.5 1026.0 L301.1 1025.1 L301.0 1024.3 L300.9 1023.5 L301.8 1022.8 L301.1 1021.9 L302.0 1021.2 L301.3 1020.3 L302.0 1019.6 L301.5 1018.8 L302.1 1018.0 L301.7 1017.2 L302.3 1016.4 L301.6 1015.6 L302.5 1014.8 L302.0 1014.0 L301.9 1013.2 L302.1 1012.4 L302.9 1011.7 L302.1 1010.8 L302.3 1010.0 L303.1 1009.3 L302.4 1008.4 L303.2 1007.7 L302.7 1006.8 L302.6 1006.0 L302.8 1005.2 L303.7 1004.5 L302.9 1003.6 L302.8 1002.8 L303.6 1002.1 L303.7 1001.3 L303.3 1000.4 L303.2 999.6 L304.1 998.9 L303.4 998.0 L304.2 997.3 L304.2 996.5 L303.7 995.7 L303.8 994.9 L304.4 994.1 L303.8 993.3 L304.6 992.5 L303.9 991.7 L304.8 990.9 L304.8 990.1 L304.9 989.3 L304.4 988.5 L305.2 987.8 L304.6 986.9 L305.3 986.2 L305.3 985.4 L304.7 984.5 L304.6 983.7 L305.6 983.0 L305.6 982.2 L305.1 981.3 L305.7 980.6 L305.3 979.7 L306.0 979.0 L306.1 978.2 L305.3 977.3 L305.4 976.5 L306.4 975.8 L306.4 975.0 L305.8 974.2 L305.7 973.4 L306.0 972.6 L305.9 971.8 L306.6 971.0 L306.9 970.2 L306.9 969.5 L306.3 968.6 L306.3 967.8 L307.2 967.1 L307.2 966.3 L306.6 965.4 L306.7 964.6 L306.5 963.8 L306.9 963.0 L306.9 962.2 L307.8 961.5 L307.2 960.6 L307.2 959.8 L307.8 959.1 L307.3 958.2 L307.5 957.4 L307.3 956.6 L308.1 955.9 L307.4 955.0 L308.2 954.3 L307.8 953.5 L308.5 952.7 L308.4 951.9 L307.9 951.1 L308.0 950.3 L308.9 949.5 L308.0 948.7 L308.3 947.9 L308.2 947.1 L308.5 946.3 L308.4 945.5 L309.3 944.8 L308.5 943.9 L308.7 943.1 L308.7 942.3 L309.5 941.6 L309.6 940.8 L309.8 940.0 L309.9 939.2 L309.9 938.4 L309.1 937.5 L309.4 936.7 L310.3 936.0 L309.3 935.1 L310.2 934.4 L309.6 933.5 L309.6 932.7 L310.0 932.0 L310.7 931.2 L310.8 930.4 L310.0 929.6 L310.8 928.8 L310.1 928.0 L310.4 927.2 L311.0 926.4 L311.2 925.7 L310.3 924.8 L311.3 924.1 L311.3 923.3 L310.8 922.4 L311.7 921.7 L311.7 920.9 L310.9 920.0 L312.0 919.3 L311.9 918.5 L312.0 917.7 L312.2 916.9 L311.4 916.0 L311.5 915.2 L311.4 914.4 L312.5 913.7 L311.6 912.8 L312.4 912.1 L312.7 911.3 L312.0 910.5 L312.1 909.7 L312.8 908.9 L312.2 908.1 L313.2 907.4 L313.1 906.6 L313.1 905.8 L313.4 905.0 L313.5 904.2 L312.7 903.3 L313.4 902.6 L313.7 901.8 L312.9 900.9 L312.9 900.1 L313.3 899.3 L313.8 898.6 L313.1 897.7 L314.1 897.0 L314.1 896.2 L314.1 895.4 L313.6 894.5 L313.7 893.8 L314.4 893.0 L313.8 892.1 L314.0 891.4 L313.8 890.5 L314.2 889.8 L314.0 889.0 L314.9 888.2 L314.4 887.4 L315.2 886.7 L314.5 885.8 L314.7 885.0 L314.5 884.2 L314.7 883.4 L315.6 882.7 L314.9 881.8 L314.8 881.0 L315.8 880.3 L315.7 879.5 L316.1 878.7 L316.1 877.9 L316.0 877.1 L315.6 876.3 L315.7 875.5 L315.7 874.7 L315.8 873.9 L316.5 873.1 L316.5 872.3 L316.8 871.5 L316.0 870.7 L316.8 869.9 L316.9 869.1 L316.9 868.3 L316.3 867.5 L317.1 866.8 L317.2 866.0 L317.3 865.2 L316.6 864.3 L317.4 863.6 L317.7 862.8 L317.6 862.0 L316.8 861.1 L317.7 860.4 L317.9 859.6 L317.9 858.8 L318.1 858.0 L318.0 857.2 L318.2 856.4 L318.2 855.6 L317.6 854.7 L317.6 853.9 L318.7 853.2 L317.7 852.3 L318.0 851.6 L318.9 850.9 L319.1 850.1 L318.2 849.2 L318.3 848.4 L319.2 847.7 L318.6 846.8 L318.4 846.0 L318.6 845.2 L319.6 844.5 L319.4 843.7 L319.6 842.9 L319.7 842.1 L318.9 841.2 L319.0 840.4 L319.1 839.6 L319.1 838.8 L319.4 838.0 L319.4 837.2 L320.4 836.5 L320.3 835.7 L319.6 834.8 L319.7 834.1 L319.6 833.2 L319.8 832.5 L319.9 831.7 L320.7 830.9 L320.9 830.1 L320.1 829.3 L321.0 828.5 L321.3 827.8 L320.3 826.9 L320.4 826.1 L321.5 825.4 L321.4 824.6 L321.4 823.8 L320.7 822.9 L321.0 822.1 L322.0 821.4 L321.1 820.5 L321.0 819.7 L321.9 819.0 L321.2 818.1 L321.3 817.3 L322.3 816.6 L322.3 815.8 L322.4 815.0 L321.6 814.1 L321.9 813.4 L322.8 812.7 L323.0 811.9 L322.2 811.0 L322.8 810.2 L322.4 809.4 L323.1 808.7 L322.3 807.8 L322.4 807.0 L323.4 806.3 L323.3 805.5 L322.8 804.6 L323.5 803.9 L323.0 803.0 L323.6 802.3 L323.7 801.5 L323.9 800.7 L324.0 799.9 L324.0 799.1 L323.5 798.2 L323.4 797.4 L324.3 796.7 L323.8 795.9 L324.4 795.1 L323.9 794.3 L324.6 793.5 L324.7 792.7 L324.2 791.9 L325.0 791.2 L324.4 790.3 L325.2 789.6 L325.3 788.8 L325.3 788.0 L325.4 787.2 L324.7 786.3 L324.8 785.5 L324.6 784.7 L324.9 783.9 L324.9 783.1 L326.0 782.4 L325.0 781.5 L325.2 780.7 L325.3 779.9 L325.5 779.2 L325.3 778.3 L325.5 777.5 L325.8 776.8 L325.6 775.9 L325.9 775.2 L325.7 774.4 L326.1 773.6 L326.6 772.8 L326.0 772.0 L326.1 771.2 L327.1 770.5 L327.3 769.7 L327.1 768.9 L327.2 768.1 L327.6 767.3 L327.7 766.5 L327.7 765.7 L327.6 764.9 L327.8 764.1 L327.2 763.2 L327.9 762.5 L327.1 761.6 L328.0 760.9 L328.0 760.1 L327.5 759.2 L328.4 758.5 L327.7 757.7 L328.6 757.0 L327.6 756.0 L328.0 755.3 L328.7 754.6 L329.0 753.8 L328.1 752.9 L329.1 752.2 L329.0 751.4 L329.3 750.6 L329.4 749.8 L328.4 748.9 L329.6 748.2 L329.5 747.4 L329.6 746.6 L329.8 745.8 L329.8 745.0 L329.0 744.1 L329.7 743.4 L329.3 742.6 L329.3 741.7 L330.3 741.0 L330.4 740.3 L329.3 739.3 L330.4 738.6 L329.5 737.7 L330.5 737.0 L330.5 736.2 L329.8 735.4 L330.7 734.7 L330.1 733.8 L331.1 733.1 L331.1 732.3 L330.2 731.4 L331.3 730.7 L331.3 729.9 L331.4 729.1 L330.7 728.2 L330.8 727.4 L331.7 726.7 L331.8 725.9 L331.0 725.0 L331.0 724.2 L331.2 723.4 L332.2 722.7 L332.1 721.9 L332.2 721.1 L332.3 720.3 L332.6 719.6 L332.5 718.8 L331.6 717.9 L331.9 717.1 L331.8 716.3 L331.9 715.5 L333.1 714.8 L332.3 713.9 L333.3 713.2 L333.1 712.4 L332.4 711.5 L333.4 710.8 L332.7 709.9 L332.9 709.1 L333.4 708.4 L333.1 707.6 L333.8 706.8 L333.9 706.0 L333.3 705.2 L333.8 704.4 L333.9 703.6 L334.2 702.8 L334.4 702.1 L334.5 701.3 L334.4 700.5 L333.6 699.6 L333.9 698.8 L334.1 698.0 L334.8 697.3 L334.8 696.5 L334.2 695.6 L334.9 694.9 L334.2 694.0 L335.3 693.3 L334.4 692.4 L334.7 691.6 L334.7 690.8 L334.8 690.0 L334.6 689.2 L334.9 688.4 L335.1 687.7 L334.9 686.8 L335.3 686.1 L335.4 685.3 L335.4 684.5 L335.6 683.7 L335.5 682.9 L336.3 682.2 L335.7 681.3 L336.5 680.6 L336.7 679.8 L336.6 679.0 L336.7 678.2 L336.9 677.4 L336.9 676.6 L336.9 675.8 L336.1 674.9 L336.5 674.1 L337.2 673.4 L336.6 672.5 L336.5 671.7 L337.6 671.0 L336.7 670.1 L337.6 669.4 L336.9 668.5 L337.9 667.8 L337.3 667.0 L337.9 666.2 L337.2 665.4 L338.2 664.7 L337.6 663.8 L337.7 663.0 L338.4 662.3 L337.7 661.4 L338.5 660.7 L338.0 659.8 L337.8 659.0 L338.2 658.2 L339.0 657.5 L338.1 656.6 L338.2 655.8 L339.2 655.1 L339.3 654.3 L339.4 653.5 L339.4 652.7 L339.6 651.9 L339.7 651.1 L339.0 650.3 L339.6 649.5 L339.0 648.6 L339.2 647.9 L339.2 647.1 L339.2 646.3 L340.2 645.6 L340.1 644.7 L339.5 643.9 L340.4 643.2 L340.5 642.4 L340.0 641.5 L340.9 640.8 L340.1 639.9 L339.9 639.1 L340.0 638.3 L340.3 637.5 L341.1 636.8 L340.5 635.9 L340.7 635.1 L341.3 634.4 L340.8 633.6 L340.8 632.8 L341.4 632.0 L340.9 631.1 L340.9 630.3 L342.0 629.7 L341.2 628.8 L341.1 628.0 L342.1 627.3 L341.6 626.4 L341.5 625.6 L341.4 624.8 L341.5 624.0 L342.6 623.3 L341.7 622.4 L341.7 621.6 L342.8 620.9 L342.7 620.1 L342.3 619.2 L342.2 618.4 L342.4 617.6 L343.3 616.9 L342.3 616.0 L343.3 615.3 L342.6 614.4 L343.3 613.7 L343.7 612.9 L342.9 612.1 L342.9 611.2 L343.1 610.5 L343.0 609.7 L343.3 608.9 L343.1 608.1 L343.3 607.3 L344.2 606.6 L344.3 605.8 L343.7 604.9 L343.7 604.1 L344.7 603.4 L343.9 602.5 L344.6 601.8 L344.0 600.9 L344.1 600.1 L344.2 599.3 L344.3 598.5 L344.3 597.7 L345.3 597.0 L345.1 596.2 L344.4 595.3 L345.4 594.6 L344.8 593.8 L344.8 593.0 L345.8 592.3 L345.2 591.4 L346.0 590.7 L346.0 589.9 L346.0 589.1 L345.3 588.2 L346.2 587.5 L346.3 586.7 L345.6 585.8 L345.5 585.0 L345.7 584.2 L345.8 583.4 L345.7 582.6 L346.1 581.8 L346.9 581.1 L346.9 580.3 L346.3 579.4 L346.2 578.6 L346.4 577.8 L347.2 577.1 L347.3 576.3 L346.4 575.4 L346.6 574.6 L347.5 573.9 L347.6 573.1 L346.8 572.3 L347.6 571.5 L347.1 570.7 L347.2 569.9 L347.3 569.1 L347.3 568.3 L347.9 567.5 L347.6 566.7 L347.6 565.9 L347.6 565.1 L347.7 564.3 L348.4 563.6 L347.7 562.7 L348.7 562.0 L347.9 561.1 L348.0 560.3 L348.1 559.5 L348.3 558.7 L348.2 557.9 L349.1 557.2 L348.6 556.3 L348.6 555.5 L349.5 554.8 L348.7 553.9 L348.6 553.1 L349.8 552.4 L349.8 551.6 L349.7 550.8 L349.8 550.0 L349.9 549.2 L349.4 548.4 L349.2 547.6 L350.2 546.9 L350.1 546.0 L349.6 545.2 L349.6 544.4 L350.6 543.7 L350.5 542.9 L350.7 542.1 L350.1 541.2 L350.0 540.4 L350.2 539.6 L350.0 538.8 L350.9 538.1 L350.9 537.3 L351.1 536.5 L351.3 535.7 L351.4 534.9 L351.3 534.1 L351.5 533.3 L351.4 532.5 L351.6 531.7 L350.8 530.8 L351.7 530.1 L351.2 529.3 L351.2 528.5 L351.4 527.7 L352.1 526.9 L351.4 526.1 L352.3 525.4 L351.7 524.5 L351.5 523.7 L351.8 522.9 L352.0 522.1 L351.8 521.3 L352.1 520.5 L352.7 519.8 L352.0 518.9 L352.4 518.1 L353.2 517.4 L353.0 516.6 L353.3 515.8 L352.7 514.9 L353.6 514.2 L353.6 513.4 L353.6 512.6 L353.5 511.8 L353.7 511.0 L353.0 510.2 L353.2 509.4 L353.1 508.6 L354.2 507.9 L354.0 507.0 L353.5 506.2 L354.5 505.5 L354.5 504.7 L353.8 503.8 L354.4 503.1 L353.8 502.2 L353.8 501.4 L355.0 500.7 L354.2 499.8 L354.2 499.0 L354.2 498.2 L354.2 497.4 L354.4 496.6 L354.7 495.8 L354.7 495.1 L355.5 494.3 L354.9 493.5 L355.6 492.7 L354.9 491.8 L355.0 491.1 L355.0 490.3 L355.8 489.5 L356.1 488.8 L356.0 487.9 L355.4 487.1 L356.2 486.4 L355.6 485.5 L356.6 484.8 L356.7 484.0 L355.7 483.1 L355.8 482.3 L356.0 481.5 L357.1 480.8 L356.9 480.0 L356.5 479.1 L357.4 478.4 L357.4 477.6 L357.3 476.8 L356.7 476.0 L357.7 475.3 L357.5 474.4 L357.6 473.6 L356.8 472.7 L358.0 472.1 L358.1 471.3 L357.1 470.4 L357.1 469.6 L357.5 468.8 L357.6 468.0 L357.6 467.2 L358.5 466.5 L357.8 465.6 L357.8 464.8 L358.9 464.1 L358.9 463.3 L358.2 462.4 L358.3 461.6 L358.2 460.8 L358.3 460.0 L358.6 459.3 L358.4 458.4 L359.3 457.7 L358.9 456.9 L359.6 456.1 L359.9 455.4 L359.0 454.5 L359.0 453.7 L359.0 452.9 L359.1 452.1 L360.4 451.4 L360.3 450.6 L360.5 449.8 L359.9 448.9 L359.9 448.1 L360.7 447.4 L360.0 446.5 L360.9 445.8 L360.3 445.0 L360.0 444.1 L360.3 443.3 L360.5 442.6 L361.5 441.9 L361.5 441.1 L361.7 440.3 L361.9 439.5 L360.9 438.6 L361.7 437.9 L361.2 437.0 L362.1 436.3 L362.1 435.5 L361.3 434.6 L362.5 433.9 L361.5 433.0 L362.4 432.3 L362.0 431.5 L362.1 430.7 L363.0 430.0 L363.0 429.2 L363.2 428.4 L363.2 427.6 L362.3 426.6 L363.7 426.0 L363.7 425.2 L363.6 424.4 L363.9 423.6 L363.0 422.7 L362.9 421.9 L363.1 421.1 L364.0 420.4 L363.5 419.5 L363.6 418.8 L364.6 418.1 L363.4 417.1 L363.6 416.3 L365.0 415.7 L364.0 414.8 L364.4 414.0 L364.4 413.2 L365.7 412.6 L365.6 411.8 L365.7 411.0 L364.4 410.0 L365.0 409.2 L364.7 408.4 L366.3 407.8 L365.3 406.8 L366.6 406.3 L366.7 405.5 L365.7 404.5 L367.0 403.9 L367.3 403.2 L367.5 402.4 L366.5 401.4 L367.8 400.8 L368.2 400.1 L366.4 398.9 L368.1 398.4 L367.2 397.4 L368.9 397.0 L369.0 396.2 L367.8 395.1 L369.2 394.6 L367.7 393.4 L367.8 392.6 L368.1 391.8 L368.2 391.0 L370.8 390.9 L371.1 390.1 L370.6 389.2 L371.6 388.6 L369.6 387.2 L371.2 386.9 L372.3 386.4 L369.5 384.6 L370.6 384.2 L370.1 383.1 L372.7 383.2 L374.0 382.8 L371.3 380.8 L374.1 381.1 L371.5 379.0 L374.5 379.6 L375.1 379.0 L373.5 377.3 L373.9 376.5 L376.2 377.2 L376.9 377.0 L376.9 376.0 L377.1 375.2 L377.8 374.9 L377.0 372.5 L378.9 373.7 L379.7 373.3 L380.4 373.0 L381.4 373.3 L381.8 372.5 L381.5 370.2 L383.2 372.0 L382.8 369.1 L384.6 371.5 L385.4 371.4 L385.1 368.2 L386.1 368.5 L387.6 370.4 L387.4 367.3 L389.1 369.8 L389.1 367.4 L390.5 368.9 L391.4 369.1 L391.1 365.8 L392.2 366.4 L393.8 368.5 L394.4 367.8 L394.1 364.9 L396.1 367.6 L396.5 366.4 L396.3 363.9 L397.0 363.5 L398.9 366.0 L399.5 365.4 L400.4 365.5 L401.2 365.2 L400.9 362.4 L401.6 362.0 L403.5 364.5 L404.2 364.3 L403.6 360.6 L405.8 363.9 L405.6 361.1 L405.9 359.7 L406.7 359.5 L408.8 362.8 L408.2 359.0 L410.2 362.2 L409.7 358.2 L410.8 359.0 L411.6 358.8 L413.0 360.7 L412.7 357.3 L413.7 357.5 L415.3 359.9 L416.2 360.0 L415.9 356.7 L417.7 359.5 L417.4 356.2 L419.1 358.6 L419.8 358.4 L420.7 358.5 L420.7 355.8 L421.4 355.3 L422.7 356.9 L422.8 354.4 L423.7 354.5 L424.2 353.7 L425.9 356.3 L425.8 353.2 L427.4 355.8 L427.3 352.7 L428.1 352.5 L429.7 355.1 L430.5 355.2 L431.1 354.4 L432.1 354.9 L432.9 354.7 L432.9 351.7 L434.4 354.0 L434.4 351.3 L435.1 350.7 L436.1 351.2 L436.6 350.2 L438.3 353.3 L439.0 352.7 L438.9 349.4 L439.8 349.6 L440.6 349.5 L442.1 352.0 L442.8 351.5 L443.6 351.5 L444.3 350.8 L445.2 351.2 L445.9 350.7 L446.8 350.9 L446.7 347.7 L447.4 347.0 L449.1 350.3 L449.3 347.8 L450.0 347.5 L451.3 349.4 L451.4 346.6 L452.2 346.4 L452.9 345.9 L453.6 345.5 L455.1 347.9 L455.3 345.4 L456.7 347.7 L457.5 347.7 L458.4 348.2 L458.5 345.3 L459.3 345.0 L459.9 344.4 L460.6 343.9 L462.3 347.2 L462.1 343.2 L463.8 346.8 L463.7 343.1 L465.2 345.8 L466.0 345.4 L466.9 345.9 L466.9 342.3 L468.4 345.3 L468.4 341.9 L470.0 345.2 L470.0 341.8 L470.9 342.0 L472.1 343.5 L472.5 341.7 L473.1 340.9 L474.5 343.4 L475.3 343.0 L476.0 342.7 L476.4 341.0 L477.7 342.9 L477.8 339.8 L478.5 339.3 L480.1 342.7 L480.7 341.7 L481.5 341.6 L481.6 338.5 L482.6 339.2 L483.3 338.7 L484.0 338.2 L485.5 341.2 L486.1 340.3 L486.4 338.1 L487.8 340.6 L488.6 340.4 L488.9 338.0 L489.4 336.8 L490.9 339.8 L491.8 339.9 L492.6 339.8 L493.2 339.0 L493.9 338.5 L494.2 336.2 L494.9 335.6 L496.5 339.1 L496.5 335.3 L497.5 336.0 L498.1 335.0 L499.1 335.9 L500.2 337.5 L501.2 338.0 L501.4 335.3 L502.0 334.3 L503.5 337.5 L504.3 337.5 L505.1 337.3 L505.8 336.9 L506.5 336.1 L507.2 335.8 L507.7 334.1 L508.4 333.6 L509.2 333.5 L510.6 336.3 L511.3 336.0 L511.6 333.3 L512.8 335.2 L513.7 335.5 L514.4 334.8 L515.2 334.8 L516.0 335.1 L516.1 331.3 L517.4 333.9 L517.7 331.1 L518.6 331.4 L519.5 331.8 L520.2 331.3 L521.5 334.1 L522.2 333.0 L522.9 332.9 L523.2 329.9 L524.6 332.9 L524.8 329.7 L525.7 330.4 L526.8 332.0 L527.2 329.3 L528.5 332.1 L528.7 329.0 L530.1 332.3 L530.3 328.8 L531.2 329.3 L531.9 328.7 L532.7 328.4 L534.1 331.6 L534.3 328.0 L535.7 331.6 L535.9 328.2 L536.6 327.6 L538.0 331.0 L538.8 331.1 L539.5 330.0 L540.3 330.0 L540.8 328.0 L541.6 328.0 L542.2 327.1 L543.6 330.4 L543.8 326.8 L544.5 326.3 L545.4 326.3 L546.2 326.5 L547.4 329.0 L548.2 328.7 L549.1 329.5 L549.3 325.6 L550.7 329.2 L551.0 326.1 L552.2 328.8 L553.0 328.4 L553.8 328.6 L554.5 328.2 L555.2 327.3 L556.1 327.6 L556.9 327.4 L557.3 325.2 L558.1 325.0 L559.2 326.7 L560.1 327.3 L560.9 327.7 L561.7 327.2 L562.1 324.6 L562.8 323.5 L563.6 323.5 L564.4 323.4 L565.3 324.3 L566.0 323.4 L566.8 323.8 L568.0 326.5 L568.4 323.5 L569.5 325.6 L570.4 326.4 L570.7 322.6 L572.0 325.8 L572.4 322.8 L573.1 322.6 L573.9 322.4 L575.1 325.1 L575.6 322.5 L576.4 322.6 L577.1 322.0 L578.2 324.5 L579.0 324.6 L579.5 322.2 L580.2 321.2 L581.1 321.7 L582.2 323.8 L582.8 322.0 L583.9 324.4 L584.2 320.7 L585.4 323.5 L586.2 323.9 L586.7 321.0 L587.5 321.0 L588.2 320.6 L589.0 320.3 L590.2 323.7 L590.7 320.9 L591.4 320.3 L592.5 322.6 L593.1 320.7 L594.1 322.7 L594.9 322.9 L595.4 320.0 L596.3 320.5 L597.3 322.5 L597.9 320.2 L598.7 320.1 L599.7 322.8 L600.2 319.3 L601.0 319.8 L602.1 322.4 L602.5 318.6 L603.3 318.7 L604.2 319.6 L605.0 318.8 L605.8 319.1 L606.6 319.0 L607.6 321.1 L608.4 320.9 L609.3 321.9 L610.0 321.2 L610.8 320.7 L611.4 318.5 L612.2 318.4 L613.2 320.5 L614.0 321.2 L614.8 321.0 L615.3 317.8 L616.1 317.5 L616.9 317.4 L617.7 317.2 L618.5 317.5 L619.6 321.0 L620.4 320.9 L621.0 317.9 L621.7 317.6 L622.5 317.4 L623.3 317.4 L624.2 317.8 L624.9 317.4 L625.7 316.8 L626.5 317.1 L627.3 316.8 L628.3 319.9 L628.9 316.7 L629.8 317.5 L630.5 316.9 L631.3 316.4 L632.1 316.8 L633.2 319.9 L633.7 315.9 L634.7 319.2 L635.3 315.8 L636.1 316.7 L637.1 318.9 L637.7 315.7 L638.6 318.3 L639.3 316.1 L640.1 316.2 L641.1 318.6 L641.9 318.6 L642.7 318.7 L643.3 315.3 L644.1 316.4 L645.0 318.0 L645.7 315.4 L646.7 318.4 L647.3 315.3 L648.1 315.1 L649.1 318.6 L649.7 315.7 L650.6 317.7 L651.4 318.2 L652.2 317.4 L652.9 315.1 L653.8 318.1 L654.5 315.2 L655.4 318.3 L656.1 315.7 L657.0 317.1 L657.8 318.3 L658.6 318.1 L659.4 317.0 L660.2 317.9 L661.0 317.7 L661.7 315.3 L662.6 317.4 L663.4 317.6 L664.2 317.5 L665.0 317.0 L665.7 315.3 L666.5 315.2 L667.3 314.9 L668.1 314.8 L669.0 316.8 L669.8 317.0 L670.6 316.6 L671.3 314.6 L672.2 316.9 L673.0 316.8 L673.8 316.9 L674.6 317.5 L675.3 313.9 L676.1 314.7 L677.0 316.4 L677.8 317.0 L678.5 314.7 L679.4 317.3 L680.1 314.3 L681.0 317.4 L681.7 314.2 L682.6 316.8 L683.3 314.6 L684.1 314.4 L684.9 314.4 L685.7 313.4 L686.5 313.3 L687.4 316.8 L688.1 313.7 L689.0 316.9 L689.7 313.9 L690.5 313.3 L691.3 316.2 L692.2 317.0 L692.9 314.4 L693.7 313.6 L694.5 313.6 L695.3 313.4 L696.1 314.1 L696.9 313.9 L697.8 316.9 L698.5 315.9 L699.3 316.0 L700.1 316.4 L701.0 316.9 L701.7 313.8 L702.5 315.8 L703.3 314.0 L704.1 312.9 L704.9 315.9 L705.7 313.1 L706.5 315.6 L707.3 316.0 L708.1 316.2 L708.9 313.1 L709.7 316.2 L710.5 315.9 L711.3 313.8 L712.1 313.4 L712.9 316.0 L713.7 313.5 L714.5 313.7 L715.3 316.5 L716.1 313.6 L716.9 313.4 L717.7 315.9 L718.5 313.6 L719.3 312.8 L720.1 315.4 L720.9 312.7 L721.7 315.2 L722.5 315.2 L723.3 315.8 L724.1 313.0 L724.9 315.7 L725.7 316.3 L726.5 316.1 L727.3 316.1 L728.1 312.7 L728.9 316.1 L729.7 316.1 L730.5 316.2 L731.3 316.0 L732.1 313.4 L732.9 312.9 L733.7 312.7 L734.5 315.6 L735.3 315.6 L736.1 315.4 L736.9 313.3 L737.7 316.1 L738.5 313.0 L739.3 314.9 L740.1 315.3 L740.9 312.2 L741.7 314.9 L742.5 312.2 L743.3 315.1 L744.1 314.9 L744.9 316.1 L745.7 315.2 L746.5 312.1 L747.3 315.1 L748.1 315.3 L748.9 316.1 L749.7 315.1 L750.5 315.8 L751.3 315.9 L752.1 315.3 L752.9 314.9 L753.7 312.3 L754.5 314.9 L755.3 315.2 L756.1 313.1 L756.9 312.2 L757.7 313.0 L758.5 315.4 L759.3 315.6 L760.1 313.0 L760.9 312.6 L761.7 315.7 L762.5 312.0 L763.3 315.3 L764.1 312.9 L764.9 315.2 L765.7 315.4 L766.5 312.9 L767.3 315.3 L768.1 312.5 L768.9 312.4 L769.7 312.4 L770.5 312.5 L771.3 314.9 L772.1 312.5 L772.9 315.0 L773.7 312.3 L774.5 312.2 L775.3 315.1 L776.1 316.0 L776.9 312.6 L777.7 312.4 L778.5 312.5 L779.3 315.7 L780.1 315.0 L780.9 312.7 L781.7 312.2 L782.5 315.9 L783.3 315.5 L784.1 312.2 L784.9 316.1 L785.7 315.5 L786.5 312.4 L787.3 315.3 L788.1 313.4 L788.9 315.6 L789.7 316.0 L790.5 315.9 L791.3 315.4 L792.1 313.0 L792.9 316.1 L793.7 316.0 L794.4 316.3 L795.3 315.3 L796.1 312.8 L796.9 312.9 L797.7 313.4 L798.5 312.6 L799.3 313.2 L800.1 316.1 L800.8 316.6 L801.7 313.2 L802.5 313.1 L803.2 316.1 L804.0 316.5 L804.9 313.1 L805.7 313.8 L806.5 314.0 L807.2 316.6 L808.0 316.5 L808.9 315.7 L809.6 316.7 L810.4 316.4 L811.2 316.4 L812.0 316.6 L812.8 316.9 L813.6 316.1 L814.5 314.3 L815.2 316.6 L816.1 314.0 L816.8 316.8 L817.7 313.6 L818.5 313.6 L819.2 317.0 L820.1 314.4 L820.8 316.2 L821.6 316.7 L822.5 314.4 L823.2 316.7 L824.0 316.5 L825.0 313.5 L825.6 317.3 L826.4 317.3 L827.2 317.4 L828.0 316.6 L828.8 317.0 L829.7 314.2 L830.4 316.5 L831.3 314.7 L832.2 314.0 L832.8 316.9 L833.8 314.0 L834.4 317.2 L835.2 317.3 L836.1 315.1 L837.0 314.2 L837.6 317.3 L838.5 315.1 L839.2 317.0 L840.1 315.3 L840.9 314.5 L841.6 317.4 L842.4 317.8 L843.3 315.2 L844.2 314.5 L844.9 315.0 L845.6 317.8 L846.6 314.6 L847.2 318.3 L847.9 318.5 L848.8 318.3 L849.7 315.7 L850.5 315.4 L851.2 318.5 L852.1 315.8 L852.9 315.6 L853.6 317.7 L854.4 318.2 L855.3 315.5 L856.0 317.9 L856.8 318.5 L857.7 316.2 L858.4 318.5 L859.1 318.8 L860.1 315.6 L860.8 318.5 L861.6 318.2 L862.5 315.4 L863.3 316.0 L864.1 316.1 L864.9 316.8 L865.5 319.2 L866.5 315.9 L867.3 316.0 L868.1 316.4 L868.7 319.0 L869.7 316.0 L870.3 319.7 L871.3 316.4 L872.1 316.4 L872.9 316.2 L873.5 319.2 L874.5 317.2 L875.3 316.5 L876.1 316.7 L876.9 317.1 L877.7 316.5 L878.3 320.0 L879.2 319.1 L880.1 317.1 L880.9 316.9 L881.7 316.7 L882.5 317.0 L883.3 317.6 L883.9 319.6 L884.7 320.7 L885.7 317.0 L886.3 320.1 L887.3 317.7 L887.9 320.6 L888.9 317.5 L889.6 318.0 L890.3 320.4 L891.3 317.2 L892.1 317.9 L892.7 320.0 L893.6 318.5 L894.3 320.3 L895.1 321.0 L896.0 318.3 L896.6 321.1 L897.6 318.5 L898.5 317.9 L899.2 318.4 L900.1 317.9 L900.9 318.1 L901.6 318.6 L902.5 318.0 L903.1 321.1 L904.0 318.8 L904.7 321.3 L905.5 320.9 L906.2 321.4 L907.2 319.5 L908.0 319.5 L908.8 319.6 L909.4 321.7 L910.4 319.1 L911.0 322.0 L912.0 319.2 L912.8 319.8 L913.6 319.7 L914.4 320.0 L915.0 322.8 L915.8 321.9 L916.6 322.6 L917.6 319.8 L918.2 322.0 L918.9 323.0 L919.8 322.7 L920.8 320.0 L921.3 323.1 L922.2 322.6 L923.2 320.4 L923.8 322.5 L924.5 323.6 L925.4 323.0 L926.1 323.7 L926.9 323.7 L927.7 323.2 L928.8 320.6 L929.5 321.2 L930.1 323.6 L930.9 323.4 L931.7 324.3 L932.8 320.9 L933.6 320.7 L934.3 321.6 L935.1 321.7 L935.8 323.5 L936.5 324.3 L937.3 324.0 L938.1 324.0 L938.9 324.3 L939.9 321.7 L940.4 324.9 L941.2 325.1 L942.3 322.4 L942.8 324.8 L943.6 325.4 L944.7 322.5 L945.5 322.3 L946.0 325.1 L946.8 325.5 L947.6 325.6 L948.7 322.8 L949.2 325.2 L950.3 322.7 L951.1 322.4 L951.6 325.6 L952.4 325.8 L953.4 323.6 L953.9 326.5 L954.8 325.5 L955.8 323.7 L956.6 324.1 L957.2 326.3 L958.3 323.7 L959.0 324.4 L959.9 323.8 L960.6 324.4 L961.4 324.5 L961.9 326.7 L962.6 327.6 L963.4 327.6 L964.6 324.8 L965.1 326.7 L966.1 325.3 L967.0 324.9 L967.7 325.6 L968.2 328.0 L969.0 328.0 L970.2 325.4 L970.7 327.6 L971.3 328.7 L972.5 325.7 L973.3 326.0 L973.7 329.1 L974.5 328.9 L975.7 325.9 L976.2 328.6 L976.9 329.3 L977.7 329.2 L979.0 325.9 L979.3 329.8 L980.5 326.5 L980.9 329.8 L982.2 326.3 L982.6 329.2 L983.7 326.9 L984.5 326.7 L984.8 330.3 L986.1 327.1 L986.8 327.5 L987.2 330.7 L988.1 330.4 L988.9 330.2 L990.0 328.0 L990.4 331.2 L991.3 330.3 L992.3 328.9 L992.9 330.5 L993.9 329.0 L994.7 329.0 L995.5 329.2 L996.3 329.5 L996.8 331.4 L997.5 331.9 L998.3 332.2 L999.5 329.4 L1000.4 328.9 L1000.8 331.7 L1001.4 332.9 L1002.4 331.9 L1003.0 332.8 L1003.9 332.4 L1005.1 330.0 L1005.4 333.3 L1006.2 333.6 L1007.0 333.0 L1008.2 331.2 L1009.1 330.5 L1009.3 333.9 L1010.2 333.7 L1011.0 333.9 L1012.2 331.4 L1012.4 334.8 L1013.4 333.9 L1014.6 331.7 L1014.8 335.1 L1015.7 334.3 L1017.0 331.9 L1017.8 332.0 L1018.4 332.9 L1019.2 332.9 L1019.6 335.4 L1021.0 332.4 L1021.0 336.3 L1022.5 332.7 L1022.7 335.9 L1024.1 333.1 L1024.3 336.4 L1025.6 333.8 L1025.8 336.9 L1026.5 337.2 L1027.4 336.8 L1028.2 337.0 L1029.4 335.2 L1029.6 338.0 L1031.0 335.1 L1031.1 338.4 L1032.6 335.7 L1033.4 335.4 L1034.3 335.1 L1035.0 335.7 L1035.9 335.6 L1036.7 335.7 L1037.3 336.4 L1037.6 338.9 L1038.2 339.6 L1039.0 339.8 L1039.9 339.6 L1040.7 339.6 L1041.4 340.0 L1042.9 337.4 L1042.9 340.3 L1043.6 341.1 L1045.1 338.5 L1046.0 338.2 L1046.7 338.6 L1047.6 338.4 L1048.1 339.5 L1048.2 342.3 L1049.1 342.1 L1050.4 340.1 L1050.7 342.1 L1051.5 342.4 L1052.9 340.1 L1053.7 340.1 L1054.3 341.0 L1055.1 341.2 L1055.4 343.3 L1056.0 344.0 L1057.3 342.1 L1057.6 344.2 L1058.2 345.2 L1059.1 344.9 L1060.5 342.7 L1061.4 342.4 L1061.9 343.5 L1062.1 346.0 L1062.8 346.3 L1064.4 343.6 L1064.6 346.0 L1065.9 344.3 L1066.9 343.7 L1066.7 347.3 L1067.4 347.8 L1068.9 345.2 L1069.8 345.2 L1069.7 348.2 L1071.4 345.4 L1072.1 345.8 L1072.8 346.4 L1073.8 345.6 L1074.3 346.8 L1075.3 346.3 L1075.2 349.6 L1076.8 346.7 L1076.7 350.2 L1078.3 347.6 L1078.3 350.4 L1079.2 350.0 L1080.7 347.9 L1081.3 348.7 L1082.0 349.1 L1082.3 350.9 L1083.6 349.3 L1083.8 351.4 L1085.1 349.9 L1085.2 352.2 L1086.0 352.4 L1086.8 352.5 L1088.1 350.8 L1089.1 350.5 L1089.8 350.9 L1090.5 351.3 L1090.7 353.6 L1092.2 351.2 L1092.7 352.3 L1093.6 352.2 L1094.3 352.7 L1094.3 355.4 L1095.9 352.7 L1095.7 356.1 L1096.6 356.0 L1098.3 353.3 L1098.3 355.8 L1099.6 354.6 L1099.7 356.9 L1101.4 354.1 L1101.1 357.7 L1103.0 354.3 L1102.6 358.2 L1104.4 355.3 L1105.2 355.4 L1105.1 358.3 L1105.6 359.3 L1106.3 359.6 L1108.2 356.4 L1108.2 359.1 L1109.7 357.1 L1109.5 360.2 L1111.3 357.3 L1111.0 360.7 L1111.7 361.1 L1112.5 361.3 L1114.3 358.5 L1114.8 359.5 L1115.8 359.0 L1115.6 362.0 L1116.2 362.7 L1117.3 362.1 L1117.8 362.8 L1118.7 362.9 L1119.4 363.4 L1119.9 364.3 L1120.7 364.3 L1122.7 361.2 L1122.2 364.9 L1123.3 364.2 L1123.7 365.3 L1124.5 365.6 L1126.4 362.8 L1126.9 363.7 L1126.9 366.0 L1128.6 363.8 L1128.4 366.5 L1130.0 364.5 L1129.8 367.2 L1130.7 367.1 L1132.0 365.9 L1132.9 366.1 L1133.7 366.1 L1133.3 369.3 L1135.4 366.3 L1135.0 369.2 L1136.9 366.9 L1136.3 370.4 L1138.4 367.3 L1137.8 370.9 L1138.6 371.1 L1139.3 371.5 L1140.9 369.6 L1141.9 369.3 L1142.4 370.3 L1143.4 369.9 L1144.2 370.2 L1143.8 373.0 L1144.6 373.1 L1146.3 371.3 L1146.1 373.7 L1147.7 372.1 L1148.6 372.1 L1149.0 373.2 L1148.6 375.9 L1149.3 376.2 L1150.4 375.9 L1150.8 376.8 L1153.0 373.9 L1153.7 374.4 L1153.2 377.3 L1155.0 375.5 L1155.6 376.0 L1156.7 375.7 L1155.9 379.0 L1158.2 376.2 L1158.7 376.9 L1159.1 378.0 L1159.9 378.1 L1159.9 380.0 L1160.4 380.7 L1161.0 381.3 L1161.7 381.7 L1163.7 379.4 L1163.3 382.2 L1163.6 383.2 L1165.8 380.7 L1166.4 381.3 L1166.1 383.7 L1167.9 381.9 L1167.6 384.1 L1168.1 385.0 L1170.1 382.8 L1169.8 385.1 L1171.4 383.9 L1171.2 385.9 L1171.7 386.6 L1173.4 385.1 L1174.1 385.6 L1173.8 387.7 L1175.5 386.4 L1175.4 388.2 L1177.3 386.4 L1176.7 389.1 L1177.1 390.1 L1178.0 390.1 L1178.6 390.7 L1179.1 391.4 L1180.3 390.9 L1181.7 390.0 L1181.5 392.0 L1181.8 393.1 L1184.0 390.8 L1183.5 393.3 L1184.1 393.9 L1185.9 392.4 L1187.0 392.1 L1187.7 392.5 L1188.5 392.6 L1189.1 393.3 L1189.8 393.7 L1190.1 394.8 L1189.7 397.0 L1191.5 395.5 L1192.3 395.8 L1192.8 396.4 L1193.7 396.5 L1193.3 398.7 L1193.9 399.3 L1195.5 398.2 L1194.7 400.9 L1195.8 400.7 L1197.7 399.1 L1198.7 399.1 L1197.6 402.3 L1198.3 402.7 L1199.2 402.7 L1199.8 403.4 L1201.9 401.6 L1202.8 401.7 L1203.2 402.5 L1204.2 402.3 L1203.2 405.4 L1205.1 404.0 L1206.2 403.7 L1205.4 406.3 L1205.4 407.8 L1206.1 408.2 L1208.6 405.9 L1209.2 406.5 L1209.7 407.2 L1209.2 409.4 L1209.6 410.2 L1211.7 408.4 L1211.0 411.0 L1211.9 411.1 L1214.0 409.4 L1212.8 412.5 L1215.2 410.4 L1216.0 410.7 L1216.5 411.5 L1217.3 411.7 L1216.1 414.8 L1216.7 415.3 L1219.5 412.7 L1219.7 413.9 L1219.2 415.9 L1219.9 416.3 L1221.5 415.4 L1220.7 417.9 L1222.9 416.3 L1224.0 416.2 L1223.1 418.6 L1223.2 419.9 L1224.2 420.0 L1226.1 418.7 L1225.3 421.1 L1225.8 421.7 L1227.0 421.5 L1227.3 422.4 L1228.2 422.5 L1228.2 423.9 L1229.2 423.8 L1231.4 422.3 L1232.2 422.6 L1230.8 425.7 L1231.3 426.3 L1233.9 424.3 L1233.0 426.7 L1235.5 424.8 L1236.1 425.4 L1234.7 428.5 L1235.2 429.1 L1238.1 426.7 L1237.1 429.3 L1239.1 428.1 L1239.4 428.9 L1238.2 431.7 L1240.5 430.2 L1239.9 432.2 L1242.1 430.7 L1241.4 432.9 L1241.8 433.6 L1242.4 434.2 L1243.2 434.4 L1243.3 435.6 L1245.7 433.9 L1244.7 436.3 L1245.1 437.2 L1248.0 434.9 L1248.1 436.1 L1246.9 438.7 L1249.3 437.1 L1250.5 436.9 L1251.1 437.5 L1249.6 440.5 L1251.6 439.3 L1252.9 439.1 L1253.3 439.8 L1251.8 442.8 L1252.6 443.1 L1255.4 441.1 L1255.5 442.2 L1256.4 442.3 L1256.5 443.5 L1255.3 446.1 L1257.9 444.3 L1257.1 446.4 L1257.5 447.2 L1258.4 447.4 L1258.6 448.4 L1259.1 449.0 L1261.4 447.6 L1261.9 448.3 L1260.7 450.8 L1261.5 451.1 L1262.1 451.6 L1265.0 449.5 L1264.9 450.9 L1265.8 451.0 L1265.0 453.2 L1264.9 454.5 L1265.5 455.0 L1266.5 455.1 L1266.9 455.8 L1267.4 456.5 L1270.1 454.6 L1270.8 455.1 L1271.0 456.1 L1272.0 456.1 L1270.4 459.1 L1273.0 457.4 L1271.8 460.0 L1272.5 460.4 L1272.9 461.1 L1275.7 459.2 L1274.6 461.7 L1276.8 460.4 L1277.4 460.9 L1277.7 461.8 L1278.1 462.5 L1279.1 462.6 L1277.5 465.6 L1278.6 465.5 L1280.8 464.3 L1281.6 464.7 L1280.3 467.2 L1280.4 468.3 L1283.2 466.5 L1283.4 467.5 L1284.6 467.3 L1284.5 468.6 L1285.8 468.4 L1284.2 471.3 L1286.3 470.2 L1287.0 470.6 L1287.6 471.2 L1288.6 471.2 L1287.0 474.1 L1288.0 474.3 L1288.3 475.1 L1290.9 473.4 L1291.7 473.7 L1290.4 476.3 L1292.3 475.5 L1293.1 475.8 L1291.7 478.5 L1292.8 478.5 L1292.9 479.6 L1294.1 479.4 L1296.5 478.0 L1295.0 480.9 L1295.2 481.8 L1296.1 482.0 L1298.5 480.5 L1297.1 483.3 L1298.1 483.3 L1299.8 482.6 L1299.1 484.6 L1301.1 483.6 L1301.8 484.1 L1301.1 486.0 L1301.7 486.5 L1304.1 485.1 L1304.5 485.9 L1304.8 486.7 L1305.9 486.7 L1304.7 489.2 L1304.5 490.6 L1305.1 491.0 L1307.8 489.3 L1306.2 492.2 L1308.9 490.6 L1308.1 492.6 L1309.8 491.9 L1311.0 491.9 L1309.6 494.4 L1311.7 493.4 L1312.8 493.5 L1310.8 496.6 L1313.5 495.0 L1314.1 495.6 L1312.9 497.9 L1313.6 498.4 L1313.7 499.4 L1314.6 499.6 L1315.4 499.9 L1317.2 499.2 L1318.6 498.9 L1317.0 501.7 L1317.0 502.8 L1320.3 500.7 L1318.6 503.5 L1320.8 502.4 L1319.5 504.9 L1320.6 504.8 L1321.2 505.4 L1321.8 505.9 L1323.9 505.0 L1324.7 505.4 L1325.1 506.0 L1323.2 509.0 L1324.5 508.8 L1326.9 507.7 L1327.4 508.3 L1325.6 511.1 L1326.3 511.5 L1328.5 510.6 L1329.3 510.9 L1328.2 513.0 L1328.1 514.2 L1328.8 514.6 L1329.2 515.4 L1332.2 513.7 L1331.1 515.8 L1333.5 514.7 L1331.9 517.2 L1332.2 518.0 L1334.8 516.7 L1335.5 517.2 L1335.6 518.2 L1336.9 518.1 L1335.2 520.7 L1337.9 519.3 L1338.5 519.9 L1338.7 520.8 L1338.8 521.7 L1339.6 522.1 L1338.2 524.4 L1338.9 524.8 L1340.9 524.2 L1339.3 526.6 L1342.4 525.0 L1340.8 527.4 L1343.0 526.6 L1343.9 526.9 L1342.1 529.5 L1343.2 529.6 L1343.0 530.8 L1345.7 529.6 L1346.1 530.2 L1344.7 532.5 L1347.2 531.4 L1348.4 531.5 L1346.7 533.9 L1348.6 533.4 L1349.7 533.5 L1348.5 535.6 L1348.9 536.3 L1348.9 537.3 L1349.3 538.0 L1350.0 538.4 L1350.2 539.3 L1351.3 539.4 L1351.2 540.5 L1354.1 539.3 L1352.1 541.8 L1354.7 540.8 L1355.6 541.1 L1354.4 543.1 L1354.8 543.8 L1355.1 544.5 L1355.4 545.3 L1358.2 544.2 L1358.3 545.1 L1357.1 547.0 L1360.0 545.8 L1358.4 548.1 L1358.5 549.0 L1358.5 550.0 L1359.2 550.5 L1362.1 549.3 L1362.2 550.2 L1361.1 552.0 L1364.0 550.8 L1361.8 553.6 L1362.5 554.0 L1362.3 555.1 L1365.8 553.5 L1366.2 554.2 L1366.1 555.3 L1364.8 557.2 L1367.7 556.1 L1367.6 557.1 L1368.8 557.2 L1368.7 558.3 L1367.1 560.5 L1370.0 559.3 L1369.8 560.5 L1368.4 562.5 L1368.9 563.1 L1371.3 562.3 L1370.3 564.1 L1372.2 563.7 L1373.0 564.1 L1373.7 564.6 L1372.4 566.6 L1372.4 567.6 L1373.2 567.9 L1375.8 567.0 L1375.5 568.2 L1375.9 568.9 L1374.6 570.9 L1377.3 569.9 L1378.3 570.1 L1376.3 572.6 L1379.1 571.5 L1379.3 572.4 L1377.6 574.6 L1380.1 573.8 L1378.3 576.1 L1379.5 576.2 L1379.2 577.5 L1382.3 576.2 L1380.2 578.7 L1381.3 578.9 L1383.8 578.1 L1384.0 578.9 L1384.7 579.3 L1385.0 580.1 L1382.8 582.7 L1383.4 583.3 L1386.4 582.1 L1387.3 582.4 L1385.1 585.0 L1387.6 584.2 L1388.6 584.4 L1388.4 585.6 L1386.7 587.8 L1387.4 588.3 L1390.6 587.0 L1390.1 588.3 L1390.8 588.8 L1391.9 589.0 L1389.7 591.6 L1392.1 590.8 L1390.5 593.0 L1391.1 593.4 L1393.9 592.5 L1392.4 594.5 L1394.2 594.2 L1392.5 596.4 L1395.8 595.0 L1396.6 595.5 L1394.3 598.0 L1395.0 598.5 L1395.7 599.0 L1398.0 598.4 L1395.9 600.9 L1396.2 601.6 L1399.2 600.5 L1397.8 602.5 L1399.9 601.9 L1398.0 604.3 L1398.7 604.7 L1399.3 605.3 L1402.5 604.1 L1402.7 604.9 L1403.0 605.7 L1400.8 608.1 L1401.4 608.7 L1404.5 607.5 L1402.7 609.8 L1402.7 610.7 L1405.2 610.0 L1404.3 611.5 L1404.2 612.5 L1407.2 611.5 L1407.1 612.6 L1405.1 614.8 L1406.0 615.2 L1406.2 616.0 L1409.5 614.8 L1409.9 615.6 L1407.5 618.0 L1408.4 618.4 L1408.9 619.0 L1408.9 620.0 L1409.3 620.7 L1412.2 619.8 L1412.4 620.6 L1412.6 621.4 L1410.6 623.6 L1414.0 622.5 L1414.4 623.1 L1412.8 625.0 L1415.0 624.6 L1413.1 626.7 L1414.0 627.1 L1415.9 626.9 L1416.3 627.6 L1414.6 629.6 L1414.7 630.4 L1415.4 630.9 L1418.1 630.3 L1415.9 632.5 L1416.6 633.0 L1419.8 632.1 L1419.9 633.0 L1419.8 633.9 L1418.3 635.7 L1420.7 635.3 L1421.2 635.9 L1419.9 637.5 L1419.5 638.7 L1422.6 637.9 L1422.7 638.7 L1423.5 639.2 L1421.3 641.3 L1423.6 641.0 L1424.8 641.3 L1422.1 643.6 L1425.3 642.8 L1425.8 643.5 L1423.5 645.6 L1424.2 646.1 L1426.2 646.0 L1424.6 647.8 L1425.4 648.2 L1425.2 649.2 L1428.0 648.7 L1428.5 649.3 L1426.1 651.4 L1428.9 650.9 L1427.6 652.5 L1427.4 653.5 L1428.1 654.0 L1427.9 655.0 L1430.7 654.6 L1430.9 655.3 L1429.0 657.1 L1431.7 656.7 L1432.2 657.4 L1432.4 658.2 L1433.0 658.8 L1433.8 659.4 L1433.6 660.3 L1431.1 662.1 L1432.1 662.6 L1434.5 662.5 L1434.4 663.4 L1434.7 664.2 L1435.0 664.9 L1433.2 666.4 L1433.1 667.3 L1435.6 667.3 L1436.0 668.0 L1437.0 668.6 L1436.5 669.6 L1436.4 670.5 L1437.4 671.0 L1436.8 672.0 L1437.3 672.7 L1435.6 674.0 L1438.1 674.2 L1438.2 675.0 L1436.1 676.3 L1436.6 677.0 L1438.6 677.4 L1438.2 678.3 L1437.2 679.3 L1438.7 679.8 L1438.9 680.6 L1437.4 681.7 L1438.0 682.4 L1439.1 683.0 L1439.3 683.8 L1438.4 684.7 L1438.3 685.6 L1439.8 686.2 L1438.8 687.1 L1438.6 688.0 L1438.8 688.7 L1439.0 689.5 L1439.2 690.3 L1440.1 691.0 L1439.4 691.9 L1439.4 692.7 L1440.0 693.4 L1439.6 694.3 L1439.6 695.1 L1439.7 695.9 L1439.8 696.7 L1440.0 697.4 L1440.3 698.2 L1440.3 699.0 L1440.1 699.8 L1440.4 700.6 L1440.5 701.4 L1440.4 702.2 L1440.2 703.0 L1440.2 703.8 L1440.2 704.6 L1440.5 705.4 L1440.4 706.2 L1440.3 707.0 L1440.6 707.8 L1440.4 708.6 L1440.4 709.4 L1440.4 710.2 L1440.5 711.0 L1440.5 711.8 L1440.5 712.6 L1440.5 713.4 L1440.5 714.2 L1440.5 715.0 L1440.5 715.8 L1440.5 716.6 L1440.5 717.4 L1440.5 718.2 L1440.5 719.0 L1440.5 719.8 L1440.5 720.6 L1440.5 721.4 L1440.5 722.2 L1440.5 723.0 L1440.5 723.8 L1440.5 724.6 L1440.5 725.4 L1440.5 725.8" stroke="#00AC66" stroke-width="9.7"/>
</g>
<rect x="686.9" y="647.65" width="187.3" height="10.3" rx="4" ry="4" fill="#FD3F3F"/>
<text class="tk" transform="translate(889.8 679.7) scale(1 1.035)">400°C</text>
<rect x="686.9" y="745.85" width="187.3" height="10.3" rx="4" ry="4" fill="#006BE0"/>
<text class="tk" transform="translate(889.8 777.9) scale(1 1.035)">450°C</text>
<rect x="686.9" y="843.50" width="187.3" height="9.8" rx="4" ry="4" fill="#00AC66"/>
<text class="tk" transform="translate(889.8 875.3) scale(1 1.035)">500°C</text>
<rect x="686.9" y="941.45" width="187.3" height="9.3" rx="4" ry="4" fill="#767676"/>
<text class="tk" transform="translate(889.8 973.0) scale(1 1.035)">550°C</text>
</svg></body></html>
